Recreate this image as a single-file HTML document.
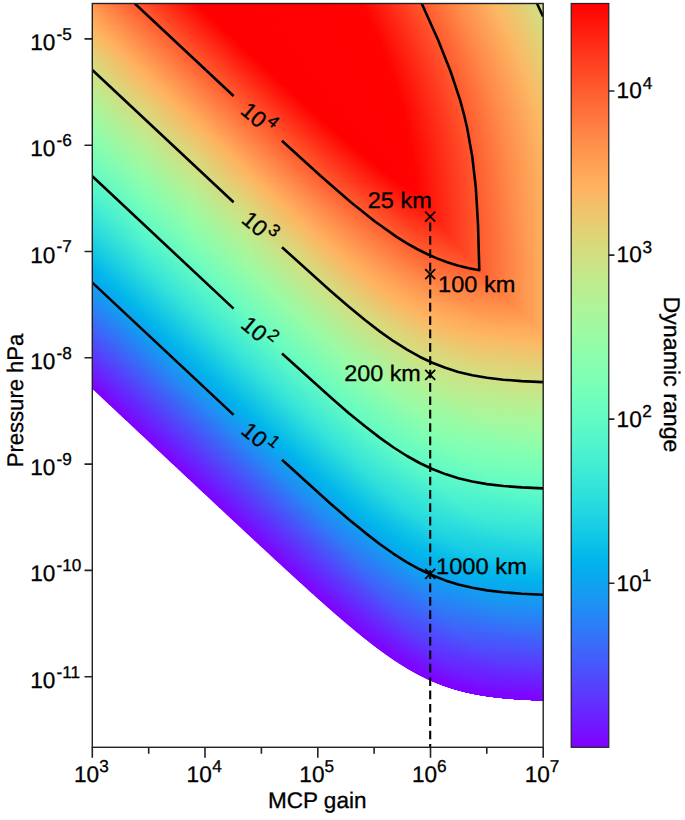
<!DOCTYPE html>
<html><head><meta charset="utf-8"><style>
html,body{margin:0;padding:0;background:#fff;width:685px;height:820px;overflow:hidden}
#hm{position:absolute;left:92px;top:0;width:452px;height:820px}
#hm div{position:absolute;left:0;width:100%;height:1px}
svg{position:absolute;left:0;top:0}
text{font-family:"Liberation Sans",sans-serif;fill:#000;stroke:#000;stroke-width:0.3px;text-rendering:geometricPrecision}
</style></head><body>
<div id="hm"><div style="top:3px;background:linear-gradient(90deg,#ff964f 0.5px,#ff2010 82.5px,#ff0000 104.5px,#ff0201 269.5px,#ff8a48 363.5px,#fcb763 401.5px,#cce385 451.5px)"></div><div style="top:4px;background:linear-gradient(90deg,#ff9750 0.5px,#ff2211 82.5px,#ff0000 106.5px,#ff0301 270.5px,#ff8b48 364.5px,#fcb864 402.5px,#cce385 451.5px)"></div><div style="top:5px;background:linear-gradient(90deg,#ff9850 0.5px,#ff2513 81.5px,#ff0000 107.5px,#ff0201 270.5px,#ff8a48 364.5px,#fcb763 402.5px,#cde385 451.5px)"></div><div style="top:6px;background:linear-gradient(90deg,#ff9a51 0.5px,#ff2814 80.5px,#ff0000 108.5px,#ff0301 271.5px,#ff8b48 365.5px,#fcb864 403.5px,#cde285 451.5px)"></div><div style="top:7px;background:linear-gradient(90deg,#ff9b52 0.5px,#ff2b16 79.5px,#ff0000 109.5px,#ff0201 271.5px,#ff8a48 365.5px,#fcb764 403.5px,#cde284 451.5px)"></div><div style="top:8px;background:linear-gradient(90deg,#ff9c53 0.5px,#ff2f17 78.5px,#ff0000 110.5px,#ff0301 272.5px,#ff8b48 366.5px,#fcb864 404.5px,#cee284 451.5px)"></div><div style="top:9px;background:linear-gradient(90deg,#ff9e53 0.5px,#ff3219 77.5px,#ff0000 111.5px,#ff0201 272.5px,#ff8a48 366.5px,#fcb764 404.5px,#cee184 451.5px)"></div><div style="top:10px;background:linear-gradient(90deg,#ff9f54 0.5px,#ff331a 77.5px,#ff0000 112.5px,#ff0301 273.5px,#ff8a48 366.5px,#fcb864 405.5px,#cfe183 451.5px)"></div><div style="top:11px;background:linear-gradient(90deg,#ffa055 0.5px,#ff371b 76.5px,#ff0000 113.5px,#ff0201 273.5px,#ff8a48 367.5px,#fcb764 405.5px,#cfe183 451.5px)"></div><div style="top:12px;background:linear-gradient(90deg,#ffa256 0.5px,#ff3a1d 75.5px,#ff0000 114.5px,#ff0201 273.5px,#ff8a48 367.5px,#fcb864 406.5px,#d0e083 451.5px)"></div><div style="top:13px;background:linear-gradient(90deg,#ffa357 0.5px,#ff3b1e 75.5px,#ff0000 115.5px,#ff0201 274.5px,#ff8b48 368.5px,#fcb764 406.5px,#d0e082 451.5px)"></div><div style="top:14px;background:linear-gradient(90deg,#ffa457 0.5px,#ff3e1f 74.5px,#ff0000 116.5px,#ff0201 274.5px,#ff8a48 368.5px,#fdb763 406.5px,#d1e082 451.5px)"></div><div style="top:15px;background:linear-gradient(90deg,#ffa558 0.5px,#ff4221 73.5px,#ff0000 117.5px,#ff0301 275.5px,#ff8b48 369.5px,#fcb864 407.5px,#d1df82 451.5px)"></div><div style="top:16px;background:linear-gradient(90deg,#ffa759 0.5px,#ff4322 73.5px,#ff0000 118.5px,#ff0201 275.5px,#ff8a48 369.5px,#fcb763 407.5px,#d2df82 451.5px)"></div><div style="top:17px;background:linear-gradient(90deg,#ffa85a 0.5px,#ff4623 72.5px,#ff0000 119.5px,#ff0301 276.5px,#ff8b48 370.5px,#fcb864 408.5px,#d2df81 451.5px)"></div><div style="top:18px;background:linear-gradient(90deg,#ffa95a 0.5px,#ff4824 72.5px,#ff0000 120.5px,#ff0201 276.5px,#ff8a48 370.5px,#fcb763 408.5px,#d2de81 451.5px)"></div><div style="top:19px;background:linear-gradient(90deg,#ffaa5b 0.5px,#ff4b26 71.5px,#ff0000 121.5px,#ff0301 277.5px,#ff8b48 371.5px,#fcb864 409.5px,#d3de81 451.5px)"></div><div style="top:20px;background:linear-gradient(90deg,#ffac5c 0.5px,#ff4d27 71.5px,#ff0000 123.5px,#ff0201 277.5px,#ff8a48 371.5px,#fcb764 409.5px,#d3de80 451.5px)"></div><div style="top:21px;background:linear-gradient(90deg,#ffad5d 0.5px,#ff5028 70.5px,#ff0000 124.5px,#ff0301 278.5px,#ff8a48 371.5px,#fcb864 410.5px,#d4dd80 451.5px)"></div><div style="top:22px;background:linear-gradient(90deg,#ffae5e 0.5px,#ff5129 70.5px,#ff0000 125.5px,#ff0201 278.5px,#ff8a48 372.5px,#fcb764 410.5px,#d4dd80 451.5px)"></div><div style="top:23px;background:linear-gradient(90deg,#ffaf5e 0.5px,#ff542b 69.5px,#ff0000 126.5px,#ff0201 278.5px,#ff8a48 372.5px,#fcb864 411.5px,#d5dd7f 451.5px)"></div><div style="top:24px;background:linear-gradient(90deg,#ffb15f 0.5px,#ff562c 69.5px,#ff0000 127.5px,#ff0201 279.5px,#ff8b48 373.5px,#fcb764 411.5px,#d5dc7f 451.5px)"></div><div style="top:25px;background:linear-gradient(90deg,#ffb260 0.5px,#ff592d 68.5px,#ff0000 128.5px,#ff0201 279.5px,#ff8a48 373.5px,#fdb763 411.5px,#d6dc7f 451.5px)"></div><div style="top:26px;background:linear-gradient(90deg,#ffb361 0.5px,#ff5a2e 68.5px,#ff0000 129.5px,#ff0301 280.5px,#ff8b48 374.5px,#fcb864 412.5px,#d6dc7f 451.5px)"></div><div style="top:27px;background:linear-gradient(90deg,#ffb461 0.5px,#ff5c2f 68.5px,#ff0000 130.5px,#ff0201 280.5px,#ff8a48 374.5px,#fcb763 412.5px,#d6db7e 451.5px)"></div><div style="top:28px;background:linear-gradient(90deg,#feb562 0.5px,#ff5f30 67.5px,#ff0000 131.5px,#ff0301 281.5px,#ff8b48 375.5px,#fcb864 413.5px,#d7db7e 451.5px)"></div><div style="top:29px;background:linear-gradient(90deg,#fdb663 0.5px,#ff6031 67.5px,#ff0000 132.5px,#ff0201 281.5px,#ff8a48 375.5px,#fcb764 413.5px,#d7db7e 451.5px)"></div><div style="top:30px;background:linear-gradient(90deg,#fcb864 0.5px,#ff6333 66.5px,#ff0000 133.5px,#ff0301 282.5px,#ff8b49 376.5px,#fcb864 414.5px,#d8da7d 451.5px)"></div><div style="top:31px;background:linear-gradient(90deg,#fbb964 0.5px,#ffa759 16.5px,#ff4322 89.5px,#ff0000 134.5px,#ff0201 282.5px,#ff8a48 376.5px,#fcb764 414.5px,#d8da7d 451.5px)"></div><div style="top:32px;background:linear-gradient(90deg,#faba65 0.5px,#ffad5d 12.5px,#ff4f28 82.5px,#ff0000 135.5px,#ff0201 282.5px,#ff8a48 376.5px,#fcb864 415.5px,#d9da7d 451.5px)"></div><div style="top:33px;background:linear-gradient(90deg,#f9bb66 0.5px,#ffae5d 12.5px,#ff5129 82.5px,#ff0000 136.5px,#ff0201 283.5px,#ff8b48 377.5px,#fcb864 415.5px,#d9d97c 451.5px)"></div><div style="top:34px;background:linear-gradient(90deg,#f8bc67 0.5px,#ffaf5e 12.5px,#ff522a 82.5px,#ff0000 138.5px,#ff0201 283.5px,#ff8a48 377.5px,#fdb763 415.5px,#d9d97c 451.5px)"></div><div style="top:35px;background:linear-gradient(90deg,#f7bd68 0.5px,#ffaf5e 13.5px,#ff542b 82.5px,#ff0000 139.5px,#ff0301 284.5px,#ff8b48 378.5px,#fcb864 416.5px,#dad97c 451.5px)"></div><div style="top:36px;background:linear-gradient(90deg,#f6be68 0.5px,#ffaf5e 14.5px,#ff542b 83.5px,#ff0000 140.5px,#ff0201 284.5px,#ff8a48 378.5px,#fcb763 416.5px,#dad87c 451.5px)"></div><div style="top:37px;background:linear-gradient(90deg,#f5bf69 0.5px,#ffb05f 14.5px,#ff562b 83.5px,#ff0000 141.5px,#ff0301 285.5px,#ff8b48 379.5px,#fcb864 417.5px,#dbd87b 451.5px)"></div><div style="top:38px;background:linear-gradient(90deg,#f4c16a 0.5px,#ffb05f 15.5px,#ff562b 84.5px,#ff0000 142.5px,#ff0201 285.5px,#ff8a48 379.5px,#fcb764 417.5px,#dbd87b 451.5px)"></div><div style="top:39px;background:linear-gradient(90deg,#f3c26b 0.5px,#ffb15f 16.5px,#ff562c 85.5px,#ff0000 143.5px,#ff0201 285.5px,#ff8a48 379.5px,#fcb864 418.5px,#dbd77b 451.5px)"></div><div style="top:40px;background:linear-gradient(90deg,#f1c36b 0.5px,#ffb15f 17.5px,#ff562c 86.5px,#ff0000 144.5px,#ff0201 286.5px,#ff8b48 380.5px,#fcb864 418.5px,#dcd77a 451.5px)"></div><div style="top:41px;background:linear-gradient(90deg,#f0c46c 0.5px,#ffb15f 18.5px,#ff562c 87.5px,#ff0000 145.5px,#ff0201 286.5px,#ff8a48 380.5px,#fdb763 418.5px,#dcd67a 451.5px)"></div><div style="top:42px;background:linear-gradient(90deg,#efc56d 0.5px,#ffb15f 19.5px,#ff562c 88.5px,#ff0000 146.5px,#ff0301 287.5px,#ff8b48 381.5px,#fcb864 419.5px,#ddd67a 451.5px)"></div><div style="top:43px;background:linear-gradient(90deg,#eec66e 0.5px,#ffb15f 20.5px,#ff562c 89.5px,#ff0000 147.5px,#ff0201 287.5px,#ff8a48 381.5px,#fcb763 419.5px,#ddd67a 451.5px)"></div><div style="top:44px;background:linear-gradient(90deg,#edc76e 0.5px,#ffb15f 21.5px,#ff562c 90.5px,#ff0000 148.5px,#ff0301 288.5px,#ff8b49 382.5px,#fcb864 420.5px,#ded579 451.5px)"></div><div style="top:45px;background:linear-gradient(90deg,#ecc86f 0.5px,#ffb15f 22.5px,#ff562c 91.5px,#ff0000 149.5px,#ff0201 288.5px,#ff8b48 382.5px,#fcb764 420.5px,#ded579 451.5px)"></div><div style="top:46px;background:linear-gradient(90deg,#ebc970 0.5px,#ffb15f 23.5px,#ff562c 92.5px,#ff0000 150.5px,#ff0201 288.5px,#ff8a48 382.5px,#fdb763 420.5px,#ded579 451.5px)"></div><div style="top:47px;background:linear-gradient(90deg,#eaca71 0.5px,#ffb160 24.5px,#ff572c 93.5px,#ff0000 151.5px,#ff0301 289.5px,#ff8b48 383.5px,#fcb864 421.5px,#dfd478 451.5px)"></div><div style="top:48px;background:linear-gradient(90deg,#e9cb71 0.5px,#ffb160 25.5px,#ff572c 94.5px,#ff0000 153.5px,#ff0201 289.5px,#ff8a48 383.5px,#fcb763 421.5px,#dfd478 451.5px)"></div><div style="top:49px;background:linear-gradient(90deg,#e8cc72 0.5px,#ffb160 26.5px,#ff572c 95.5px,#ff0000 154.5px,#ff0301 290.5px,#ff8b48 384.5px,#fcb864 422.5px,#e0d478 451.5px)"></div><div style="top:50px;background:linear-gradient(90deg,#e7cd73 0.5px,#ffb160 27.5px,#ff572c 96.5px,#ff0000 155.5px,#ff0201 290.5px,#ff8a48 384.5px,#fcb764 422.5px,#e0d378 451.5px)"></div><div style="top:51px;background:linear-gradient(90deg,#e6ce74 0.5px,#ffb160 28.5px,#ff572c 97.5px,#ff0000 156.5px,#ff0201 290.5px,#ff8a48 384.5px,#fcb864 423.5px,#e0d377 451.5px)"></div><div style="top:52px;background:linear-gradient(90deg,#e5cf74 0.5px,#ffb160 29.5px,#ff572c 98.5px,#ff0000 157.5px,#ff0201 291.5px,#ff8b48 385.5px,#fcb864 423.5px,#e1d377 451.5px)"></div><div style="top:53px;background:linear-gradient(90deg,#e4d075 0.5px,#ffb05f 31.5px,#ff562c 100.5px,#ff0000 158.5px,#ff0201 291.5px,#ff8a48 385.5px,#fcb763 423.5px,#e1d277 451.5px)"></div><div style="top:54px;background:linear-gradient(90deg,#e3d176 0.5px,#ffb15f 32.5px,#ff562c 101.5px,#ff0000 159.5px,#ff0301 292.5px,#ff8b48 386.5px,#fcb864 424.5px,#e2d277 451.5px)"></div><div style="top:55px;background:linear-gradient(90deg,#e2d277 0.5px,#ffb15f 33.5px,#ff562c 102.5px,#ff0000 160.5px,#ff0201 292.5px,#ff8a48 386.5px,#fcb764 424.5px,#e2d276 451.5px)"></div><div style="top:56px;background:linear-gradient(90deg,#e1d377 0.5px,#ffb15f 34.5px,#ff562c 103.5px,#ff0000 161.5px,#ff0201 292.5px,#ff8a48 386.5px,#fcb864 425.5px,#e2d176 451.5px)"></div><div style="top:57px;background:linear-gradient(90deg,#dfd478 0.5px,#ffb15f 35.5px,#ff562c 104.5px,#ff0000 162.5px,#ff0201 293.5px,#ff8b48 387.5px,#fcb864 425.5px,#e3d176 451.5px)"></div><div style="top:58px;background:linear-gradient(90deg,#ded579 0.5px,#ffb15f 36.5px,#ff562c 105.5px,#ff0000 163.5px,#ff0201 293.5px,#ff8a48 387.5px,#fcb763 425.5px,#e3d175 451.5px)"></div><div style="top:59px;background:linear-gradient(90deg,#ddd679 0.5px,#ffb15f 37.5px,#ff562c 106.5px,#ff0000 164.5px,#ff0301 294.5px,#ff8b48 388.5px,#fcb864 426.5px,#e3d075 451.5px)"></div><div style="top:60px;background:linear-gradient(90deg,#dcd67a 0.5px,#ffb15f 38.5px,#ff562c 107.5px,#ff0000 165.5px,#ff0201 294.5px,#ff8a48 388.5px,#fcb764 426.5px,#e4d075 451.5px)"></div><div style="top:61px;background:linear-gradient(90deg,#dbd77b 0.5px,#ffb15f 39.5px,#ff572c 108.5px,#ff0000 167.5px,#ff0201 294.5px,#ff8a48 388.5px,#fdb763 426.5px,#e4cf75 451.5px)"></div><div style="top:62px;background:linear-gradient(90deg,#dad87c 0.5px,#ffb160 40.5px,#ff572c 109.5px,#ff0000 168.5px,#ff0301 295.5px,#ff8b48 389.5px,#fcb864 427.5px,#e5cf74 451.5px)"></div><div style="top:63px;background:linear-gradient(90deg,#d9d97c 0.5px,#ffb160 41.5px,#ff572c 110.5px,#ff0000 169.5px,#ff0201 295.5px,#ff8a48 389.5px,#fcb763 427.5px,#e5cf74 451.5px)"></div><div style="top:64px;background:linear-gradient(90deg,#d8da7d 0.5px,#ffb160 42.5px,#ff572c 111.5px,#ff0000 170.5px,#ff0301 296.5px,#ff8b49 390.5px,#fcb864 428.5px,#e5ce74 451.5px)"></div><div style="top:65px;background:linear-gradient(90deg,#d7db7e 0.5px,#ffb160 43.5px,#ff572c 112.5px,#ff0000 171.5px,#ff0201 296.5px,#ff8b48 390.5px,#fcb764 428.5px,#e6ce74 451.5px)"></div><div style="top:66px;background:linear-gradient(90deg,#d6dc7f 0.5px,#ffb160 44.5px,#ff572c 113.5px,#ff0000 172.5px,#ff0201 296.5px,#ff8a48 390.5px,#fdb763 428.5px,#e6ce73 451.5px)"></div><div style="top:67px;background:linear-gradient(90deg,#d5dd7f 0.5px,#ffb260 45.5px,#ff572c 114.5px,#ff0000 173.5px,#ff0301 297.5px,#ff8b48 391.5px,#fcb864 429.5px,#e6cd73 451.5px)"></div><div style="top:68px;background:linear-gradient(90deg,#d4dd80 0.5px,#ffb260 46.5px,#ff572c 115.5px,#ff0000 174.5px,#ff0201 297.5px,#ff8a48 391.5px,#fcb764 429.5px,#e7cd73 451.5px)"></div><div style="top:69px;background:linear-gradient(90deg,#d3de81 0.5px,#ffb260 47.5px,#ff572c 116.5px,#ff0000 175.5px,#ff0201 297.5px,#ff8a48 391.5px,#fcb864 430.5px,#e7cd73 451.5px)"></div><div style="top:70px;background:linear-gradient(90deg,#d2df81 0.5px,#ffb260 48.5px,#ff572c 117.5px,#ff0000 176.5px,#ff0301 298.5px,#ff8b48 392.5px,#fcb864 430.5px,#e8cc72 451.5px)"></div><div style="top:71px;background:linear-gradient(90deg,#d1e082 0.5px,#ffb15f 50.5px,#ff562c 119.5px,#ff0000 177.5px,#ff0201 298.5px,#ff8a48 392.5px,#fcb763 430.5px,#e8cc72 451.5px)"></div><div style="top:72px;background:linear-gradient(90deg,#d0e183 0.5px,#ffb15f 51.5px,#ff562c 120.5px,#ff0000 178.5px,#ff0301 299.5px,#ff8a48 392.5px,#fcb864 431.5px,#e8cc72 451.5px)"></div><div style="top:73px;background:linear-gradient(90deg,#cfe184 0.5px,#ffb15f 52.5px,#ff562c 121.5px,#ff0000 179.5px,#ff0201 299.5px,#ff8b48 393.5px,#fcb764 431.5px,#e9cb72 451.5px)"></div><div style="top:74px;background:linear-gradient(90deg,#cde284 0.5px,#ffb15f 53.5px,#ff562c 122.5px,#ff0000 181.5px,#ff0201 299.5px,#ff8a48 393.5px,#fcb763 431.5px,#e9cb71 451.5px)"></div><div style="top:75px;background:linear-gradient(90deg,#cce385 0.5px,#ffb15f 54.5px,#ff562c 123.5px,#ff0000 182.5px,#ff0301 300.5px,#ff8b48 394.5px,#fcb864 432.5px,#e9cb71 451.5px)"></div><div style="top:76px;background:linear-gradient(90deg,#cbe486 0.5px,#ffb15f 55.5px,#ff572c 124.5px,#ff0000 183.5px,#ff0201 300.5px,#ff8b48 394.5px,#fcb764 432.5px,#eaca71 451.5px)"></div><div style="top:77px;background:linear-gradient(90deg,#cae486 0.5px,#ffb260 55.5px,#ff582d 124.5px,#ff0000 184.5px,#ff0201 300.5px,#ff8a48 394.5px,#fdb763 432.5px,#eaca71 451.5px)"></div><div style="top:78px;background:linear-gradient(90deg,#c9e587 0.5px,#ffb361 55.5px,#ff5b2e 123.5px,#ff0000 185.5px,#ff0301 301.5px,#ff8b48 395.5px,#fcb864 433.5px,#eaca70 451.5px)"></div><div style="top:79px;background:linear-gradient(90deg,#c8e688 0.5px,#ffb562 55.5px,#ff5d2f 123.5px,#ff0000 186.5px,#ff0201 301.5px,#ff8a48 395.5px,#fcb764 433.5px,#ebc970 451.5px)"></div><div style="top:80px;background:linear-gradient(90deg,#c7e788 0.5px,#feb663 55.5px,#ff6031 122.5px,#ff0000 187.5px,#ff0201 301.5px,#ff8a48 395.5px,#fdb763 433.5px,#ebc970 451.5px)"></div><div style="top:81px;background:linear-gradient(90deg,#c6e789 0.5px,#fdb763 55.5px,#ff6132 122.5px,#ff0000 188.5px,#ff0301 302.5px,#ff8b48 396.5px,#fcb864 434.5px,#ebc970 451.5px)"></div><div style="top:82px;background:linear-gradient(90deg,#c5e88a 0.5px,#fcb864 55.5px,#ff954e 85.5px,#ff190d 171.5px,#ff0000 189.5px,#ff0201 302.5px,#ff8a48 396.5px,#fcb764 434.5px,#ecc86f 451.5px)"></div><div style="top:83px;background:linear-gradient(90deg,#c4e98b 0.5px,#fab965 55.5px,#ffaa5b 69.5px,#ff4925 141.5px,#ff0000 190.5px,#ff0201 302.5px,#ff8a48 396.5px,#fdb763 434.5px,#ecc86f 451.5px)"></div><div style="top:84px;background:linear-gradient(90deg,#c3e98b 0.5px,#f9ba66 55.5px,#ffac5c 68.5px,#ff4d27 139.5px,#ff0000 191.5px,#ff0301 303.5px,#ff8b48 397.5px,#fcb864 435.5px,#ecc86f 451.5px)"></div><div style="top:85px;background:linear-gradient(90deg,#c2ea8c 0.5px,#f7bd67 54.5px,#ffae5e 67.5px,#ff5229 137.5px,#ff0000 192.5px,#ff0201 303.5px,#ff8a48 397.5px,#fcb764 435.5px,#edc86f 451.5px)"></div><div style="top:86px;background:linear-gradient(90deg,#c1eb8d 0.5px,#f6be68 54.5px,#ffb05f 67.5px,#ff532a 137.5px,#ff0000 194.5px,#ff0201 303.5px,#ff8a48 397.5px,#fdb763 435.5px,#edc76f 451.5px)"></div><div style="top:87px;background:linear-gradient(90deg,#c0eb8d 0.5px,#f5bf69 54.5px,#ffb05f 68.5px,#ff532a 138.5px,#ff0000 195.5px,#ff0301 304.5px,#ff8b48 398.5px,#fcb864 436.5px,#edc76e 451.5px)"></div><div style="top:88px;background:linear-gradient(90deg,#bfec8e 0.5px,#f4c069 54.5px,#ffb05f 69.5px,#ff532a 139.5px,#ff0000 196.5px,#ff0201 304.5px,#ff8a48 398.5px,#fcb764 436.5px,#eec76e 451.5px)"></div><div style="top:89px;background:linear-gradient(90deg,#beed8f 0.5px,#f3c16a 54.5px,#ffb05f 70.5px,#ff542a 140.5px,#ff0000 197.5px,#ff0201 304.5px,#ff8a48 398.5px,#fdb763 436.5px,#eec66e 451.5px)"></div><div style="top:90px;background:linear-gradient(90deg,#bded8f 0.5px,#f2c26b 54.5px,#ffb15f 70.5px,#ff572c 139.5px,#ff0000 198.5px,#ff0301 305.5px,#ff8b48 399.5px,#fcb864 437.5px,#eec66e 451.5px)"></div><div style="top:91px;background:linear-gradient(90deg,#bbee90 0.5px,#f1c36c 54.5px,#ffb15f 71.5px,#ff572c 140.5px,#ff0000 199.5px,#ff0201 305.5px,#ff8a48 399.5px,#fcb764 437.5px,#efc66d 451.5px)"></div><div style="top:92px;background:linear-gradient(90deg,#baee91 0.5px,#f0c46c 54.5px,#ffb160 72.5px,#ff572c 141.5px,#ff0000 200.5px,#ff0201 305.5px,#ff8a48 399.5px,#fdb763 437.5px,#efc56d 451.5px)"></div><div style="top:93px;background:linear-gradient(90deg,#b9ef91 0.5px,#efc56d 54.5px,#ffb05f 74.5px,#ff542b 144.5px,#ff0000 201.5px,#ff0301 306.5px,#ff8b48 400.5px,#fcb864 438.5px,#efc56d 451.5px)"></div><div style="top:94px;background:linear-gradient(90deg,#b8f092 0.5px,#edc76f 53.5px,#ffb160 74.5px,#ff572c 143.5px,#ff0000 202.5px,#ff0201 306.5px,#ff8b48 400.5px,#fcb764 438.5px,#efc56d 451.5px)"></div><div style="top:95px;background:linear-gradient(90deg,#b7f093 0.5px,#ecc86f 53.5px,#ffb05f 76.5px,#ff542b 146.5px,#ff0000 203.5px,#ff0201 306.5px,#ff8a48 400.5px,#fcb763 438.5px,#f0c46d 451.5px)"></div><div style="top:96px;background:linear-gradient(90deg,#b6f194 0.5px,#ebc970 53.5px,#ffb05f 77.5px,#ff542b 147.5px,#ff0000 204.5px,#ff0301 307.5px,#ff8a48 400.5px,#fcb864 439.5px,#f0c46c 451.5px)"></div><div style="top:97px;background:linear-gradient(90deg,#b5f194 0.5px,#eaca71 53.5px,#ffb05f 78.5px,#ff542b 148.5px,#ff0000 206.5px,#ff0301 307.5px,#ff8b48 401.5px,#fcb864 439.5px,#f0c46c 451.5px)"></div><div style="top:98px;background:linear-gradient(90deg,#b4f295 0.5px,#e9cb72 53.5px,#ffb05f 79.5px,#ff552b 149.5px,#ff0000 207.5px,#ff0201 307.5px,#ff8a48 401.5px,#fcb764 439.5px,#f1c46c 451.5px)"></div><div style="top:99px;background:linear-gradient(90deg,#b3f296 0.5px,#e8cc72 53.5px,#ffb15f 80.5px,#ff552b 150.5px,#ff0000 208.5px,#ff0201 307.5px,#ff8a48 401.5px,#fdb763 439.5px,#f1c36c 451.5px)"></div><div style="top:100px;background:linear-gradient(90deg,#b2f396 0.5px,#e7cd73 53.5px,#ffb15f 81.5px,#ff552b 151.5px,#ff0000 209.5px,#ff0301 308.5px,#ff8b48 402.5px,#fcb864 440.5px,#f1c36c 451.5px)"></div><div style="top:101px;background:linear-gradient(90deg,#b1f397 0.5px,#e5ce74 53.5px,#ffb15f 82.5px,#ff552b 152.5px,#ff0000 210.5px,#ff0201 308.5px,#ff8a48 402.5px,#fcb764 440.5px,#f1c36b 451.5px)"></div><div style="top:102px;background:linear-gradient(90deg,#b0f498 0.5px,#e4cf75 53.5px,#ffb15f 83.5px,#ff552b 153.5px,#ff0000 211.5px,#ff0201 308.5px,#ff8a48 402.5px,#fdb763 440.5px,#f2c26b 451.5px)"></div><div style="top:103px;background:linear-gradient(90deg,#aff498 0.5px,#e3d075 53.5px,#ffb15f 84.5px,#ff552b 154.5px,#ff0000 212.5px,#ff0301 309.5px,#ff8b49 403.5px,#fcb864 441.5px,#f2c26b 451.5px)"></div><div style="top:104px;background:linear-gradient(90deg,#aef599 0.5px,#e1d277 52.5px,#ffb15f 85.5px,#ff552b 155.5px,#ff0000 213.5px,#ff0201 309.5px,#ff8b48 403.5px,#fcb864 441.5px,#f2c26b 451.5px)"></div><div style="top:105px;background:linear-gradient(90deg,#adf59a 0.5px,#e0d377 52.5px,#ffb15f 86.5px,#ff552b 156.5px,#ff0000 214.5px,#ff0201 309.5px,#ff8a48 403.5px,#fcb764 441.5px,#f3c26b 451.5px)"></div><div style="top:106px;background:linear-gradient(90deg,#acf69a 0.5px,#dfd478 52.5px,#ffb160 87.5px,#ff552b 157.5px,#ff0000 215.5px,#ff0201 309.5px,#ff8a48 403.5px,#fdb763 441.5px,#f3c16a 451.5px)"></div><div style="top:107px;background:linear-gradient(90deg,#abf69b 0.5px,#ded579 52.5px,#ffb160 88.5px,#ff552b 158.5px,#ff0000 217.5px,#ff0301 310.5px,#ff8b48 404.5px,#fcb864 442.5px,#f3c16a 451.5px)"></div><div style="top:108px;background:linear-gradient(90deg,#a9f79c 0.5px,#ddd67a 52.5px,#ffb160 89.5px,#ff562b 159.5px,#ff0000 218.5px,#ff0201 310.5px,#ff8b48 404.5px,#fcb764 442.5px,#f3c16a 451.5px)"></div><div style="top:109px;background:linear-gradient(90deg,#a8f79c 0.5px,#dcd77a 52.5px,#ffb160 90.5px,#ff562b 160.5px,#ff0000 219.5px,#ff0201 310.5px,#ff8a48 404.5px,#fcb763 442.5px,#f4c06a 451.5px)"></div><div style="top:110px;background:linear-gradient(90deg,#a7f79d 0.5px,#dbd87b 52.5px,#ffb160 91.5px,#ff562c 161.5px,#ff0000 220.5px,#ff0302 311.5px,#ff8a48 404.5px,#fcb864 443.5px,#f4c06a 451.5px)"></div><div style="top:111px;background:linear-gradient(90deg,#a6f89e 0.5px,#dad87c 52.5px,#ffb160 92.5px,#ff562c 162.5px,#ff0000 221.5px,#ff0301 311.5px,#ff8b48 405.5px,#fcb864 443.5px,#f4c069 451.5px)"></div><div style="top:112px;background:linear-gradient(90deg,#a5f89e 0.5px,#d9d97d 52.5px,#ffb260 93.5px,#ff562c 163.5px,#ff0000 222.5px,#ff0201 311.5px,#ff8a48 405.5px,#fcb764 443.5px,#f4c069 451.5px)"></div><div style="top:113px;background:linear-gradient(90deg,#a4f99f 0.5px,#d8da7d 52.5px,#ffb260 94.5px,#ff562c 164.5px,#ff0000 223.5px,#ff0201 311.5px,#ff8a48 405.5px,#fcb763 443.5px,#f5bf69 451.5px)"></div><div style="top:114px;background:linear-gradient(90deg,#a3f99f 0.5px,#d7db7e 52.5px,#ffb260 95.5px,#ff562c 165.5px,#ff0000 224.5px,#ff0301 312.5px,#ff8a48 405.5px,#fcb864 444.5px,#f5bf69 451.5px)"></div><div style="top:115px;background:linear-gradient(90deg,#a2f9a0 0.5px,#d6dc7f 52.5px,#ffb15f 97.5px,#ff552b 167.5px,#ff0000 225.5px,#ff0301 312.5px,#ff8b48 406.5px,#fcb864 444.5px,#f5bf69 451.5px)"></div><div style="top:116px;background:linear-gradient(90deg,#a1faa1 0.5px,#d5dd7f 52.5px,#ffb15f 98.5px,#ff552b 168.5px,#ff0000 227.5px,#ff0201 312.5px,#ff8a48 406.5px,#fcb764 444.5px,#f5bf69 451.5px)"></div><div style="top:117px;background:linear-gradient(90deg,#a0faa1 0.5px,#d3de81 51.5px,#ffb15f 99.5px,#ff552b 169.5px,#ff0000 228.5px,#ff0201 312.5px,#ff8a48 406.5px,#fcb763 444.5px,#f6be68 451.5px)"></div><div style="top:118px;background:linear-gradient(90deg,#9ffaa2 0.5px,#d1df82 51.5px,#ffb15f 100.5px,#ff552b 170.5px,#ff0000 229.5px,#ff0302 313.5px,#ff8a48 406.5px,#fcb864 445.5px,#f6be68 451.5px)"></div><div style="top:119px;background:linear-gradient(90deg,#9efba3 0.5px,#d0e082 51.5px,#ffb15f 101.5px,#ff552b 171.5px,#ff0000 230.5px,#ff0301 313.5px,#ff8b48 407.5px,#fcb864 445.5px,#f6be68 451.5px)"></div><div style="top:120px;background:linear-gradient(90deg,#9dfba3 0.5px,#cfe183 51.5px,#ffb15f 102.5px,#ff552b 172.5px,#ff0000 231.5px,#ff0201 313.5px,#ff8a48 407.5px,#fcb764 445.5px,#f6be68 451.5px)"></div><div style="top:121px;background:linear-gradient(90deg,#9cfba4 0.5px,#cee284 51.5px,#ffb160 103.5px,#ff562b 173.5px,#ff0000 232.5px,#ff0201 313.5px,#ff8a48 407.5px,#fcb763 445.5px,#f7bd68 451.5px)"></div><div style="top:122px;background:linear-gradient(90deg,#9bfba5 0.5px,#cde284 51.5px,#ffb160 104.5px,#ff562b 174.5px,#ff0000 233.5px,#ff0302 314.5px,#ff8a48 407.5px,#fcb864 446.5px,#f7bd67 451.5px)"></div><div style="top:123px;background:linear-gradient(90deg,#9afca5 0.5px,#cce385 51.5px,#ffb160 105.5px,#ff562c 175.5px,#ff0000 234.5px,#ff0301 314.5px,#ff8b48 408.5px,#fcb864 446.5px,#f7bd67 451.5px)"></div><div style="top:124px;background:linear-gradient(90deg,#99fca6 0.5px,#cbe486 51.5px,#ffb160 106.5px,#ff562c 176.5px,#ff0000 236.5px,#ff0201 314.5px,#ff8b48 408.5px,#fcb764 446.5px,#f7bd67 451.5px)"></div><div style="top:125px;background:linear-gradient(90deg,#97fca7 0.5px,#cae587 51.5px,#ffb160 107.5px,#ff562c 177.5px,#ff0000 237.5px,#ff0201 314.5px,#ff8a48 408.5px,#fcb764 446.5px,#f7bc67 451.5px)"></div><div style="top:126px;background:linear-gradient(90deg,#96fca7 0.5px,#c9e587 51.5px,#ffb461 106.5px,#ff5b2e 175.5px,#ff0000 238.5px,#ff0201 314.5px,#ff8a48 408.5px,#fdb763 446.5px,#f8bc67 451.5px)"></div><div style="top:127px;background:linear-gradient(90deg,#95fda8 0.5px,#c8e688 51.5px,#feb562 106.5px,#ff5c2f 175.5px,#ff0000 239.5px,#ff0301 315.5px,#ff8b49 409.5px,#fcb864 447.5px,#f8bc67 451.5px)"></div><div style="top:128px;background:linear-gradient(90deg,#94fda8 0.5px,#c7e789 51.5px,#fdb663 106.5px,#ff5e30 175.5px,#ff0000 240.5px,#ff0301 315.5px,#ff8b48 409.5px,#fcb864 447.5px,#f8bc67 451.5px)"></div><div style="top:129px;background:linear-gradient(90deg,#93fda9 0.5px,#c6e789 51.5px,#fcb764 106.5px,#ff6131 174.5px,#ff0000 241.5px,#ff0201 315.5px,#ff8a48 409.5px,#fcb764 447.5px,#f8bc66 451.5px)"></div><div style="top:130px;background:linear-gradient(90deg,#92fdaa 0.5px,#c5e88a 51.5px,#fbb864 106.5px,#ffa256 126.5px,#ff3219 207.5px,#ff0000 242.5px,#ff0201 315.5px,#ff8a48 409.5px,#fcb763 447.5px,#f9bb66 451.5px)"></div><div style="top:131px;background:linear-gradient(90deg,#91fdaa 0.5px,#c4e98b 51.5px,#faba65 106.5px,#ffab5c 119.5px,#ff4824 193.5px,#ff0000 244.5px,#ff0201 315.5px,#ff8a48 409.5px,#fdb763 447.5px,#f9bb66 451.5px)"></div><div style="top:132px;background:linear-gradient(90deg,#90feab 0.5px,#c3e98b 51.5px,#f9bb66 106.5px,#ffad5d 118.5px,#ff4d27 191.5px,#ff0000 245.5px,#ff0301 316.5px,#ff8b48 410.5px,#fcb864 448.5px,#f9bb66 451.5px)"></div><div style="top:133px;background:linear-gradient(90deg,#8ffeab 0.5px,#c2ea8c 51.5px,#f7bd67 105.5px,#ffb05f 117.5px,#ff5129 189.5px,#ff0000 246.5px,#ff0301 316.5px,#ff8b48 410.5px,#fcb864 448.5px,#f9bb66 451.5px)"></div><div style="top:134px;background:linear-gradient(90deg,#8efeac 0.5px,#c1eb8d 51.5px,#f6be68 105.5px,#ffb05f 118.5px,#ff5129 190.5px,#ff0000 247.5px,#ff0201 316.5px,#ff8a48 410.5px,#fcb764 448.5px,#f9bb66 451.5px)"></div><div style="top:135px;background:linear-gradient(90deg,#8dfead 0.5px,#bfeb8e 51.5px,#f5bf69 105.5px,#ffb05f 119.5px,#ff5129 191.5px,#ff0000 248.5px,#ff0201 316.5px,#ff8a48 410.5px,#fcb763 448.5px,#faba66 451.5px)"></div><div style="top:136px;background:linear-gradient(90deg,#8cfead 0.5px,#bded8f 50.5px,#f3c16a 104.5px,#ffb05f 120.5px,#ff5229 192.5px,#ff0000 249.5px,#ff0201 316.5px,#ff8a48 410.5px,#fdb763 448.5px,#faba65 451.5px)"></div><div style="top:137px;background:linear-gradient(90deg,#8bfeae 0.5px,#bced90 50.5px,#f2c26b 104.5px,#ffb05f 121.5px,#ff5229 193.5px,#ff0000 251.5px,#ff0301 317.5px,#ff8b48 411.5px,#fcb864 449.5px,#faba65 451.5px)"></div><div style="top:138px;background:linear-gradient(90deg,#8afeaf 0.5px,#bbee90 50.5px,#f1c36c 104.5px,#ffb05f 122.5px,#ff5229 194.5px,#ff0000 252.5px,#ff0301 317.5px,#ff8b48 411.5px,#fcb864 449.5px,#faba65 451.5px)"></div><div style="top:139px;background:linear-gradient(90deg,#89ffaf 0.5px,#baee91 50.5px,#f0c46d 104.5px,#ffb05f 123.5px,#ff522a 195.5px,#ff0000 253.5px,#ff0201 317.5px,#ff8a48 411.5px,#fcb764 449.5px,#faba65 451.5px)"></div><div style="top:140px;background:linear-gradient(90deg,#88ffb0 0.5px,#b9ef92 50.5px,#efc56d 104.5px,#ffb05f 124.5px,#ff522a 196.5px,#ff0000 254.5px,#ff0201 317.5px,#ff8a48 411.5px,#fcb763 449.5px,#fab965 451.5px)"></div><div style="top:141px;background:linear-gradient(90deg,#87ffb0 0.5px,#b8f092 50.5px,#edc76f 103.5px,#ffb05f 125.5px,#ff522a 197.5px,#ff0000 255.5px,#ff0201 317.5px,#ff8a48 411.5px,#fdb763 449.5px,#fbb965 451.5px)"></div><div style="top:142px;background:linear-gradient(90deg,#86ffb1 0.5px,#b7f093 50.5px,#ecc96f 103.5px,#ffb15f 126.5px,#ff522a 198.5px,#ff0000 256.5px,#ff0301 318.5px,#ff8a48 411.5px,#fcb864 450.5px,#fbb965 451.5px)"></div><div style="top:143px;background:linear-gradient(90deg,#84ffb2 0.5px,#b6f194 50.5px,#ebca70 103.5px,#ffb15f 127.5px,#ff5129 200.5px,#ff0000 258.5px,#ff0301 318.5px,#ff8b48 412.5px,#fcb864 450.5px,#fbb965 451.5px)"></div><div style="top:144px;background:linear-gradient(90deg,#83ffb2 0.5px,#b5f194 50.5px,#e9cb71 103.5px,#ffb15f 128.5px,#ff5129 201.5px,#ff0000 259.5px,#ff0201 318.5px,#ff8b48 412.5px,#fcb864 450.5px,#fbb964 451.5px)"></div><div style="top:145px;background:linear-gradient(90deg,#82ffb3 0.5px,#b4f295 50.5px,#e8cc72 103.5px,#ffb15f 129.5px,#ff5129 202.5px,#ff0000 260.5px,#ff0201 318.5px,#ff8a48 412.5px,#fcb764 450.5px,#fbb864 451.5px)"></div><div style="top:146px;background:linear-gradient(90deg,#81ffb3 0.5px,#b3f296 50.5px,#e7cd72 103.5px,#ffb15f 130.5px,#ff5129 203.5px,#ff0000 261.5px,#ff0201 318.5px,#ff8a48 412.5px,#fcb763 450.5px,#fbb864 451.5px)"></div><div style="top:147px;background:linear-gradient(90deg,#80ffb4 0.5px,#b2f396 50.5px,#e6ce73 103.5px,#ffb15f 131.5px,#ff5229 204.5px,#ff0000 262.5px,#ff0201 318.5px,#ff8a48 412.5px,#fdb763 450.5px,#fcb864 451.5px)"></div><div style="top:148px;background:linear-gradient(90deg,#7fffb5 0.5px,#b1f397 50.5px,#e5cf74 103.5px,#ffb15f 132.5px,#ff5229 205.5px,#ff0000 264.5px,#ff0301 319.5px,#ff8a48 412.5px,#fcb864 451.5px)"></div><div style="top:149px;background:linear-gradient(90deg,#7effb5 0.5px,#b0f498 50.5px,#e4cf75 103.5px,#ffb15f 133.5px,#ff5229 206.5px,#ff0000 265.5px,#ff0301 319.5px,#ff8b48 413.5px,#fcb864 451.5px)"></div><div style="top:150px;background:linear-gradient(90deg,#7dffb6 0.5px,#aff498 50.5px,#e3d075 103.5px,#ffb160 134.5px,#ff522a 207.5px,#ff0000 266.5px,#ff0201 319.5px,#ff8b48 413.5px,#fcb864 451.5px)"></div><div style="top:151px;background:linear-gradient(90deg,#7cffb6 0.5px,#aef599 50.5px,#e2d176 103.5px,#ffb160 135.5px,#ff522a 208.5px,#ff0000 267.5px,#ff0201 319.5px,#ff8a48 413.5px,#fcb764 451.5px)"></div><div style="top:152px;background:linear-gradient(90deg,#7bffb7 0.5px,#adf59a 50.5px,#e0d378 102.5px,#ffb160 136.5px,#ff522a 209.5px,#ff0000 268.5px,#ff0201 319.5px,#ff8a48 413.5px,#fcb763 451.5px)"></div><div style="top:153px;background:linear-gradient(90deg,#7affb7 0.5px,#abf69a 50.5px,#dfd478 102.5px,#ffb160 137.5px,#ff5129 211.5px,#ff0000 270.5px,#ff0201 319.5px,#ff8a48 413.5px,#fdb763 451.5px)"></div><div style="top:154px;background:linear-gradient(90deg,#79ffb8 0.5px,#aaf69b 50.5px,#ded579 102.5px,#ffb160 138.5px,#ff5129 212.5px,#ff0000 271.5px,#ff0302 320.5px,#ff8a48 413.5px,#fdb763 451.5px)"></div><div style="top:155px;background:linear-gradient(90deg,#78ffb9 0.5px,#a9f79c 50.5px,#ddd67a 102.5px,#ffb260 139.5px,#ff5129 213.5px,#ff0000 272.5px,#ff0301 320.5px,#ff8b48 414.5px,#fdb763 451.5px)"></div><div style="top:156px;background:linear-gradient(90deg,#77ffb9 0.5px,#a8f79c 50.5px,#dcd77b 102.5px,#ffb260 140.5px,#ff5129 214.5px,#ff0000 273.5px,#ff0301 320.5px,#ff8b48 414.5px,#fdb763 451.5px)"></div><div style="top:157px;background:linear-gradient(90deg,#76ffba 0.5px,#a7f79d 50.5px,#dbd87b 102.5px,#ffb15f 142.5px,#ff4f28 217.5px,#ff0000 275.5px,#ff0201 320.5px,#ff8b48 414.5px,#fdb663 451.5px)"></div><div style="top:158px;background:linear-gradient(90deg,#75feba 0.5px,#a6f89e 50.5px,#dad97c 102.5px,#ffb15f 143.5px,#ff4f28 218.5px,#ff0000 276.5px,#ff0201 320.5px,#ff8a48 414.5px,#fdb663 451.5px)"></div><div style="top:159px;background:linear-gradient(90deg,#74febb 0.5px,#a5f89e 50.5px,#d9da7d 102.5px,#ffb15f 144.5px,#ff4f28 219.5px,#ff0000 277.5px,#ff0201 320.5px,#ff8a48 414.5px,#fdb663 451.5px)"></div><div style="top:160px;background:linear-gradient(90deg,#72febb 0.5px,#a4f99f 50.5px,#d8da7d 102.5px,#ffb15f 145.5px,#ff4f28 220.5px,#ff0000 278.5px,#ff0201 320.5px,#ff8a48 414.5px,#feb663 451.5px)"></div><div style="top:161px;background:linear-gradient(90deg,#71febc 0.5px,#a3f9a0 50.5px,#d7db7e 102.5px,#ffb15f 146.5px,#ff4e27 222.5px,#ff0000 280.5px,#ff0302 321.5px,#ff8a48 414.5px,#feb663 451.5px)"></div><div style="top:162px;background:linear-gradient(90deg,#70febd 0.5px,#a2f9a0 50.5px,#d5dc7f 102.5px,#ffb15f 147.5px,#ff4e28 223.5px,#ff0000 281.5px,#ff0301 321.5px,#ff8b48 415.5px,#feb662 451.5px)"></div><div style="top:163px;background:linear-gradient(90deg,#6ffebd 0.5px,#a1faa1 50.5px,#d4dd80 102.5px,#ffb15f 148.5px,#ff4e28 224.5px,#ff0000 282.5px,#ff0301 321.5px,#ff8b48 415.5px,#feb662 451.5px)"></div><div style="top:164px;background:linear-gradient(90deg,#6efebe 0.5px,#a0faa2 50.5px,#d3de80 102.5px,#ffb160 149.5px,#ff4e28 225.5px,#ff0000 284.5px,#ff0201 321.5px,#ff8b48 415.5px,#feb562 451.5px)"></div><div style="top:165px;background:linear-gradient(90deg,#6dfdbe 0.5px,#9ffaa2 50.5px,#d1df82 101.5px,#ffb160 150.5px,#ff4d27 227.5px,#ff0000 285.5px,#ff0201 321.5px,#ff8a48 415.5px,#feb562 451.5px)"></div><div style="top:166px;background:linear-gradient(90deg,#6cfdbf 0.5px,#9efba3 50.5px,#d0e082 101.5px,#ffb160 151.5px,#ff4d27 228.5px,#ff0000 286.5px,#ff0201 321.5px,#ff8a48 415.5px,#feb562 451.5px)"></div><div style="top:167px;background:linear-gradient(90deg,#6bfdbf 0.5px,#9dfba3 50.5px,#cfe183 101.5px,#ffb160 152.5px,#ff4e27 229.5px,#ff0000 287.5px,#ff0201 321.5px,#ff8a48 415.5px,#feb562 451.5px)"></div><div style="top:168px;background:linear-gradient(90deg,#6afdc0 0.5px,#9cfba4 50.5px,#cee284 101.5px,#ffb160 153.5px,#ff4e27 230.5px,#ff0000 289.5px,#ff0302 322.5px,#ff8a48 415.5px,#ffb562 451.5px)"></div><div style="top:169px;background:linear-gradient(90deg,#69fdc0 0.5px,#9bfba5 50.5px,#cde285 101.5px,#ffb260 154.5px,#ff4c27 232.5px,#ff0000 290.5px,#ff0302 322.5px,#ff8a48 415.5px,#ffb562 451.5px)"></div><div style="top:170px;background:linear-gradient(90deg,#68fcc1 0.5px,#99fca5 50.5px,#cce385 101.5px,#ffb260 155.5px,#ff4d27 233.5px,#ff0000 291.5px,#ff0301 322.5px,#ff8b48 416.5px,#ffb562 451.5px)"></div><div style="top:171px;background:linear-gradient(90deg,#67fcc1 0.5px,#98fca6 50.5px,#cbe486 101.5px,#ffb260 156.5px,#ff4d27 234.5px,#ff0000 293.5px,#ff0301 322.5px,#ff8b48 416.5px,#ffb462 451.5px)"></div><div style="top:172px;background:linear-gradient(90deg,#66fcc2 0.5px,#97fca7 50.5px,#cae587 101.5px,#ffb260 157.5px,#ff4c26 236.5px,#ff0000 294.5px,#ff0301 322.5px,#ff8b48 416.5px,#ffb462 451.5px)"></div><div style="top:173px;background:linear-gradient(90deg,#65fcc3 0.5px,#96fca7 50.5px,#c9e587 101.5px,#ffb361 157.5px,#ff4f28 235.5px,#ff0000 295.5px,#ff0201 322.5px,#ff8b48 416.5px,#ffb462 451.5px)"></div><div style="top:174px;background:linear-gradient(90deg,#64fbc3 0.5px,#95fda8 50.5px,#c8e688 101.5px,#ffb462 157.5px,#ff5229 234.5px,#ff0000 297.5px,#ff0201 322.5px,#ff8a48 416.5px,#ffb461 451.5px)"></div><div style="top:175px;background:linear-gradient(90deg,#63fbc4 0.5px,#94fda8 50.5px,#c7e789 101.5px,#feb562 157.5px,#ff552b 233.5px,#ff0000 298.5px,#ff0201 322.5px,#ff8a48 416.5px,#ffb461 451.5px)"></div><div style="top:176px;background:linear-gradient(90deg,#62fbc4 0.5px,#93fda9 50.5px,#c6e889 101.5px,#fcb864 156.5px,#ff592d 231.5px,#ff0000 299.5px,#ff0302 323.5px,#ff8a48 416.5px,#ffb461 451.5px)"></div><div style="top:177px;background:linear-gradient(90deg,#60fac5 0.5px,#92fdaa 50.5px,#c5e88a 101.5px,#fbb965 156.5px,#ffa658 173.5px,#ff0000 300.5px,#ff0302 323.5px,#ff8a48 416.5px,#ffb461 451.5px)"></div><div style="top:178px;background:linear-gradient(90deg,#5ffac5 0.5px,#91feaa 50.5px,#c4e98b 101.5px,#faba65 156.5px,#ffac5c 169.5px,#ff0000 302.5px,#ff0302 323.5px,#ff8a48 416.5px,#ffb461 451.5px)"></div><div style="top:179px;background:linear-gradient(90deg,#5efac6 0.5px,#90feab 50.5px,#c2ea8c 101.5px,#f9bb66 156.5px,#ffae5d 168.5px,#ff3219 263.5px,#ff0000 305.5px,#ff0301 323.5px,#ff8a48 416.5px,#ffb461 451.5px)"></div><div style="top:180px;background:linear-gradient(90deg,#5df9c6 0.5px,#8ffeac 50.5px,#c1ea8c 101.5px,#f8bc67 156.5px,#ffae5e 169.5px,#ff2d16 268.5px,#ff0000 306.5px,#ff0301 323.5px,#ff8b48 417.5px,#ffb361 451.5px)"></div><div style="top:181px;background:linear-gradient(90deg,#5cf9c7 0.5px,#8efeac 50.5px,#c0eb8d 101.5px,#f7bd68 156.5px,#ffaf5e 169.5px,#ff351b 263.5px,#ff0000 308.5px,#ff0301 323.5px,#ff8b48 417.5px,#ffb361 451.5px)"></div><div style="top:182px;background:linear-gradient(90deg,#5bf9c7 0.5px,#8dfead 50.5px,#bfec8e 101.5px,#f6be68 156.5px,#ffaf5e 170.5px,#ff3119 267.5px,#ff0000 309.5px,#ff0201 323.5px,#ff8b48 417.5px,#ffb361 451.5px)"></div><div style="top:183px;background:linear-gradient(90deg,#5af8c8 0.5px,#8cfead 50.5px,#beec8e 101.5px,#f4c16a 155.5px,#ffaf5e 171.5px,#ff0302 306.5px,#ff0100 322.5px,#ff8948 416.5px,#ffb361 451.5px)"></div><div style="top:184px;background:linear-gradient(90deg,#59f8c8 0.5px,#8bfeae 50.5px,#bced90 100.5px,#f2c36b 154.5px,#ffb15f 171.5px,#ff361b 266.5px,#ff0000 312.5px,#ff0402 324.5px,#ff8a48 417.5px,#ffb361 451.5px)"></div><div style="top:185px;background:linear-gradient(90deg,#58f7c9 0.5px,#8affaf 50.5px,#bbee90 100.5px,#f1c46c 154.5px,#ffb15f 172.5px,#ff0703 306.5px,#ff0000 318.5px,#ff0703 326.5px,#ff8c49 418.5px,#ffb361 451.5px)"></div><div style="top:186px;background:linear-gradient(90deg,#57f7c9 0.5px,#89ffaf 50.5px,#baef91 100.5px,#efc56d 154.5px,#ffb15f 173.5px,#ff0704 307.5px,#ff0000 319.5px,#ff0b06 329.5px,#ff8d4a 419.5px,#ffb361 451.5px)"></div><div style="top:187px;background:linear-gradient(90deg,#56f7ca 0.5px,#87ffb0 50.5px,#b9ef92 100.5px,#eec66e 154.5px,#ffb15f 174.5px,#ff0904 307.5px,#ff0000 320.5px,#ff954f 426.5px,#ffb361 451.5px)"></div><div style="top:188px;background:linear-gradient(90deg,#55f6ca 0.5px,#86ffb0 50.5px,#b8f092 100.5px,#edc76e 154.5px,#ffb15f 175.5px,#ff0b05 307.5px,#ff0000 321.5px,#ff904c 422.5px,#ffb361 451.5px)"></div><div style="top:189px;background:linear-gradient(90deg,#54f6cb 0.5px,#85ffb1 50.5px,#b7f093 100.5px,#ecc86f 154.5px,#ffb15f 176.5px,#ff0c06 307.5px,#ff0000 322.5px,#ff8a48 417.5px,#ffb360 451.5px)"></div><div style="top:190px;background:linear-gradient(90deg,#53f5cb 0.5px,#84ffb2 50.5px,#b6f194 100.5px,#ebc970 154.5px,#ffb160 177.5px,#ff0d06 308.5px,#ff0101 323.5px,#ff8a48 417.5px,#ffb260 451.5px)"></div><div style="top:191px;background:linear-gradient(90deg,#52f5cc 0.5px,#83ffb2 50.5px,#b5f194 100.5px,#e9cb71 153.5px,#ffb160 178.5px,#ff0f07 308.5px,#ff0101 323.5px,#ff8a48 417.5px,#ffb260 451.5px)"></div><div style="top:192px;background:linear-gradient(90deg,#51f4cc 0.5px,#82ffb3 50.5px,#b4f295 100.5px,#e8cc72 153.5px,#ffb160 179.5px,#ff1008 308.5px,#ff0301 324.5px,#ff8b48 418.5px,#ffb260 451.5px)"></div><div style="top:193px;background:linear-gradient(90deg,#50f4cd 0.5px,#81ffb3 50.5px,#b3f296 100.5px,#e7cd73 153.5px,#ffb160 180.5px,#ff1209 308.5px,#ff0402 325.5px,#ff8b48 418.5px,#ffb260 451.5px)"></div><div style="top:194px;background:linear-gradient(90deg,#4ef3cd 0.5px,#80ffb4 50.5px,#b2f396 100.5px,#e6ce73 153.5px,#ffb260 181.5px,#ff1309 309.5px,#ff0402 325.5px,#ff8b48 418.5px,#ffb260 451.5px)"></div><div style="top:195px;background:linear-gradient(90deg,#4df3ce 0.5px,#7fffb5 50.5px,#b1f397 100.5px,#e5cf74 153.5px,#ffb05f 183.5px,#ff140a 309.5px,#ff0503 326.5px,#ff8c49 419.5px,#ffb260 451.5px)"></div><div style="top:196px;background:linear-gradient(90deg,#4cf2ce 0.5px,#7effb5 50.5px,#aff498 100.5px,#e4d075 153.5px,#ffb15f 184.5px,#ff160b 309.5px,#ff0703 327.5px,#ff8c49 419.5px,#ffb260 451.5px)"></div><div style="top:197px;background:linear-gradient(90deg,#4bf2cf 0.5px,#7dffb6 50.5px,#aef498 100.5px,#e3d176 153.5px,#ffb15f 185.5px,#ff160b 310.5px,#ff0804 328.5px,#ff8c49 419.5px,#ffb260 451.5px)"></div><div style="top:198px;background:linear-gradient(90deg,#4af1cf 0.5px,#7cffb6 50.5px,#adf599 100.5px,#e2d276 153.5px,#ffb15f 186.5px,#ff180c 310.5px,#ff0804 328.5px,#ff8c49 419.5px,#ffb260 451.5px)"></div><div style="top:199px;background:linear-gradient(90deg,#49f1d0 0.5px,#7bffb7 50.5px,#acf59a 100.5px,#e1d377 153.5px,#ffb15f 187.5px,#ff1a0d 310.5px,#ff0a05 329.5px,#ff8d4a 420.5px,#ffb260 451.5px)"></div><div style="top:200px;background:linear-gradient(90deg,#48f0d0 0.5px,#7affb8 50.5px,#abf69a 100.5px,#e0d478 153.5px,#ffb15f 188.5px,#ff1b0e 310.5px,#ff0b06 330.5px,#ff8d49 420.5px,#ffb260 451.5px)"></div><div style="top:201px;background:linear-gradient(90deg,#47f0d1 0.5px,#79ffb8 50.5px,#aaf69b 100.5px,#dfd479 153.5px,#ffb15f 189.5px,#ff1c0e 311.5px,#ff0c06 331.5px,#ff8e4a 421.5px,#ffb260 451.5px)"></div><div style="top:202px;background:linear-gradient(90deg,#46efd1 0.5px,#78ffb9 50.5px,#a9f79c 100.5px,#ddd67a 152.5px,#ffb160 190.5px,#ff1e0f 311.5px,#ff0c06 331.5px,#ff8e4a 421.5px,#ffb260 451.5px)"></div><div style="top:203px;background:linear-gradient(90deg,#45efd2 0.5px,#77ffb9 50.5px,#a8f79c 100.5px,#dbd77b 152.5px,#ffb160 191.5px,#ff1f10 311.5px,#ff0e07 332.5px,#ff8e4a 421.5px,#ffb160 451.5px)"></div><div style="top:204px;background:linear-gradient(90deg,#44eed2 0.5px,#75ffba 50.5px,#a7f79d 100.5px,#dad87b 152.5px,#ffb160 192.5px,#ff2111 311.5px,#ff0f08 333.5px,#ff8f4b 422.5px,#ffb160 451.5px)"></div><div style="top:205px;background:linear-gradient(90deg,#43edd3 0.5px,#74feba 50.5px,#a6f89e 100.5px,#d9d97c 152.5px,#ffb160 193.5px,#ff2211 312.5px,#ff1108 334.5px,#ff8f4b 422.5px,#ffb160 451.5px)"></div><div style="top:206px;background:linear-gradient(90deg,#42edd3 0.5px,#73febb 50.5px,#a5f89e 100.5px,#d8da7d 152.5px,#ffb260 194.5px,#ff2312 312.5px,#ff1108 334.5px,#ff8f4b 422.5px,#ffb160 451.5px)"></div><div style="top:207px;background:linear-gradient(90deg,#41ecd4 0.5px,#72febb 50.5px,#a4f99f 100.5px,#d7db7e 152.5px,#ffb260 195.5px,#ff2513 312.5px,#ff1209 335.5px,#ff904b 423.5px,#ffb160 451.5px)"></div><div style="top:208px;background:linear-gradient(90deg,#40ecd4 0.5px,#71febc 50.5px,#a3f9a0 100.5px,#d6db7e 152.5px,#ffb260 196.5px,#ff2613 313.5px,#ff130a 336.5px,#ff904b 423.5px,#ffb160 451.5px)"></div><div style="top:209px;background:linear-gradient(90deg,#3febd5 0.5px,#71febc 51.5px,#a3f9a0 101.5px,#d6dc7e 153.5px,#ffb15f 198.5px,#ff2714 313.5px,#ff150a 337.5px,#ff914c 424.5px,#ffb15f 451.5px)"></div><div style="top:210px;background:linear-gradient(90deg,#3eead5 0.5px,#70febd 51.5px,#a2f9a0 101.5px,#d5dc7f 153.5px,#ffb15f 199.5px,#ff2914 313.5px,#ff150a 337.5px,#ff914c 424.5px,#ffb15f 451.5px)"></div><div style="top:211px;background:linear-gradient(90deg,#3cead5 0.5px,#6ffebd 51.5px,#a1faa1 101.5px,#d4dd80 153.5px,#ffb15f 200.5px,#ff2915 314.5px,#ff160b 338.5px,#ff914c 424.5px,#ffb15f 451.5px)"></div><div style="top:212px;background:linear-gradient(90deg,#3be9d6 0.5px,#6efebe 51.5px,#a0faa2 101.5px,#d3de81 153.5px,#ffb15f 201.5px,#ff2b16 314.5px,#ff180c 339.5px,#ff924d 425.5px,#ffb15f 451.5px)"></div><div style="top:213px;background:linear-gradient(90deg,#3ae8d6 0.5px,#6dfdbe 51.5px,#9efaa2 101.5px,#d2df81 153.5px,#ffb160 202.5px,#ff2d16 314.5px,#ff190d 340.5px,#ff924d 425.5px,#ffb15f 451.5px)"></div><div style="top:214px;background:linear-gradient(90deg,#39e8d7 0.5px,#6cfdbf 51.5px,#9dfba3 101.5px,#d1e082 153.5px,#ffb160 203.5px,#ff2d17 315.5px,#ff190d 340.5px,#ff924d 425.5px,#ffb15f 451.5px)"></div><div style="top:215px;background:linear-gradient(90deg,#38e7d7 0.5px,#6bfdbf 51.5px,#9cfba4 101.5px,#d0e083 153.5px,#ffb160 204.5px,#ff2f18 315.5px,#ff1a0d 341.5px,#ff934d 426.5px,#ffb15f 451.5px)"></div><div style="top:216px;background:linear-gradient(90deg,#37e6d8 0.5px,#6afdc0 51.5px,#9bfba4 101.5px,#cee284 152.5px,#ffb160 205.5px,#ff3118 315.5px,#ff1c0e 342.5px,#ff944e 427.5px,#ffb15f 451.5px)"></div><div style="top:217px;background:linear-gradient(90deg,#36e5d8 0.5px,#69fcc1 51.5px,#9afca5 101.5px,#cde385 152.5px,#ffb260 206.5px,#ff3119 316.5px,#ff1d0f 343.5px,#ff944e 427.5px,#ffb15f 451.5px)"></div><div style="top:218px;background:linear-gradient(90deg,#35e5d9 0.5px,#68fcc1 51.5px,#99fca5 101.5px,#cce385 152.5px,#ffb260 207.5px,#ff331a 316.5px,#ff1f0f 344.5px,#ff954f 428.5px,#ffb15f 451.5px)"></div><div style="top:219px;background:linear-gradient(90deg,#34e4d9 0.5px,#67fcc2 51.5px,#98fca6 101.5px,#cbe486 152.5px,#ffb260 208.5px,#ff351a 316.5px,#ff1f0f 344.5px,#ff954f 428.5px,#ffb05f 451.5px)"></div><div style="top:220px;background:linear-gradient(90deg,#33e3d9 0.5px,#66fcc2 51.5px,#97fca7 101.5px,#c9e587 152.5px,#ffb15f 210.5px,#ff351b 317.5px,#ff2010 345.5px,#ff954e 428.5px,#ffb05f 451.5px)"></div><div style="top:221px;background:linear-gradient(90deg,#32e2da 0.5px,#64fbc3 51.5px,#96fda7 101.5px,#c8e688 152.5px,#ffb260 210.5px,#ff371c 317.5px,#ff2211 346.5px,#ff974f 429.5px,#ffb05f 451.5px)"></div><div style="top:222px;background:linear-gradient(90deg,#31e2da 0.5px,#63fbc3 51.5px,#95fda8 101.5px,#c7e688 152.5px,#ffb462 209.5px,#ff391c 317.5px,#ff2312 347.5px,#ff964f 429.5px,#ffb05f 451.5px)"></div><div style="top:223px;background:linear-gradient(90deg,#30e1db 0.5px,#62fbc4 51.5px,#94fda9 101.5px,#c6e789 152.5px,#feb562 209.5px,#ff3a1d 317.5px,#ff2312 347.5px,#ff964f 429.5px,#ffb05f 451.5px)"></div><div style="top:224px;background:linear-gradient(90deg,#2fe0db 0.5px,#61fbc4 51.5px,#93fda9 101.5px,#c5e88a 152.5px,#fdb763 209.5px,#ff3c1e 317.5px,#ff2512 348.5px,#ff9850 430.5px,#ffb05f 451.5px)"></div><div style="top:225px;background:linear-gradient(90deg,#2edfdc 0.5px,#60fac5 51.5px,#92fdaa 101.5px,#c4e98a 152.5px,#fcb864 209.5px,#ff3d1f 317.5px,#ff2613 349.5px,#ff9850 430.5px,#ffb05f 451.5px)"></div><div style="top:226px;background:linear-gradient(90deg,#2ddedc 0.5px,#5ffac5 51.5px,#91feaa 101.5px,#c3e98b 152.5px,#fbb965 209.5px,#ffa659 226.5px,#ff3d1f 319.5px,#ff2714 350.5px,#ff9950 431.5px,#ffb05f 451.5px)"></div><div style="top:227px;background:linear-gradient(90deg,#2cdedc 0.5px,#5efac6 51.5px,#90feab 101.5px,#c2ea8c 152.5px,#faba65 209.5px,#ffab5c 223.5px,#ff3e1f 320.5px,#ff2915 351.5px,#ff9a51 432.5px,#ffb05f 451.5px)"></div><div style="top:228px;background:linear-gradient(90deg,#2adddd 0.5px,#5efac6 52.5px,#90feab 102.5px,#c2ea8c 153.5px,#faba65 210.5px,#ffac5c 223.5px,#ff3f20 320.5px,#ff2914 351.5px,#ff9a51 432.5px,#ffb05f 451.5px)"></div><div style="top:229px;background:linear-gradient(90deg,#29dcdd 0.5px,#5df9c6 52.5px,#8ffeac 102.5px,#c1eb8d 153.5px,#f8bc67 209.5px,#ffaf5e 222.5px,#ff4020 321.5px,#ff2a15 352.5px,#ff9a51 432.5px,#ffb05f 451.5px)"></div><div style="top:230px;background:linear-gradient(90deg,#28dbde 0.5px,#5cf9c7 52.5px,#8dfeac 102.5px,#c0eb8d 153.5px,#f7bd68 209.5px,#ffb05f 222.5px,#ff4221 321.5px,#ff2c16 353.5px,#ff9b52 433.5px,#ffb05f 451.5px)"></div><div style="top:231px;background:linear-gradient(90deg,#27dade 0.5px,#5bf9c7 52.5px,#8cfead 102.5px,#bfec8e 153.5px,#f6bf68 209.5px,#ffb05f 223.5px,#ff4322 321.5px,#ff2d17 354.5px,#ff9b52 433.5px,#ffb05f 451.5px)"></div><div style="top:232px;background:linear-gradient(90deg,#26d9de 0.5px,#5af8c8 52.5px,#8bfeae 102.5px,#beec8f 153.5px,#f4c069 209.5px,#ffb05f 224.5px,#ff4422 322.5px,#ff2f17 355.5px,#ff9c53 434.5px,#ffb05f 451.5px)"></div><div style="top:233px;background:linear-gradient(90deg,#25d9df 0.5px,#59f8c8 52.5px,#8afeae 102.5px,#bded8f 153.5px,#f3c16a 209.5px,#ffb05f 225.5px,#ff4623 322.5px,#ff2f17 355.5px,#ff9c52 434.5px,#ffb05f 451.5px)"></div><div style="top:234px;background:linear-gradient(90deg,#24d8df 0.5px,#58f7c9 52.5px,#89ffaf 102.5px,#bcee90 153.5px,#f2c26b 209.5px,#ffb05f 226.5px,#ff4724 322.5px,#ff3018 356.5px,#ff9d53 435.5px,#ffb05f 451.5px)"></div><div style="top:235px;background:linear-gradient(90deg,#23d7e0 0.5px,#57f7ca 52.5px,#88ffaf 102.5px,#bbee91 153.5px,#f1c36b 209.5px,#ffb05f 227.5px,#ff4824 323.5px,#ff3119 357.5px,#ff9d53 435.5px,#ffb05f 451.5px)"></div><div style="top:236px;background:linear-gradient(90deg,#22d6e0 0.5px,#56f7ca 52.5px,#87ffb0 102.5px,#baef91 153.5px,#efc56d 208.5px,#ffb15f 228.5px,#ff4a25 323.5px,#ff331a 358.5px,#ff9e54 436.5px,#ffb05f 451.5px)"></div><div style="top:237px;background:linear-gradient(90deg,#21d5e0 0.5px,#55f6cb 52.5px,#86ffb1 102.5px,#b8ef92 153.5px,#eec66e 208.5px,#ffb15f 229.5px,#ff4b26 323.5px,#ff341a 359.5px,#ff9e54 436.5px,#ffb05f 451.5px)"></div><div style="top:238px;background:linear-gradient(90deg,#20d4e1 0.5px,#53f6cb 52.5px,#85ffb1 102.5px,#b6f193 152.5px,#ecc86f 207.5px,#ffb15f 230.5px,#ff4d27 323.5px,#ff361b 360.5px,#ff9f55 437.5px,#ffb05f 451.5px)"></div><div style="top:239px;background:linear-gradient(90deg,#1fd3e1 0.5px,#52f5cc 52.5px,#84ffb2 102.5px,#b5f194 152.5px,#ebc970 207.5px,#ffb15f 231.5px,#ff4e27 324.5px,#ff361b 360.5px,#ff9f55 437.5px,#ffb05f 451.5px)"></div><div style="top:240px;background:linear-gradient(90deg,#1ed2e2 0.5px,#51f5cc 52.5px,#83ffb2 102.5px,#b4f295 152.5px,#eaca71 207.5px,#ffb15f 232.5px,#ff4f28 324.5px,#ff371c 361.5px,#ffa155 438.5px,#ffb05f 451.5px)"></div><div style="top:241px;background:linear-gradient(90deg,#1dd1e2 0.5px,#50f4cd 52.5px,#82ffb3 102.5px,#b3f295 152.5px,#e9cb71 207.5px,#ffb160 233.5px,#ff5129 324.5px,#ff391d 362.5px,#ffa155 438.5px,#ffb05f 451.5px)"></div><div style="top:242px;background:linear-gradient(90deg,#1cd0e2 0.5px,#50f4cd 53.5px,#82ffb3 103.5px,#b3f295 153.5px,#e9cb71 208.5px,#ffb160 234.5px,#ff5129 325.5px,#ff3a1d 363.5px,#ffa256 439.5px,#ffb05e 451.5px)"></div><div style="top:243px;background:linear-gradient(90deg,#1bcfe3 0.5px,#4ff4cd 53.5px,#81ffb4 103.5px,#b2f396 153.5px,#e8cc72 208.5px,#ffb160 235.5px,#ff532a 325.5px,#ff3c1e 364.5px,#ffa357 440.5px,#ffaf5e 451.5px)"></div><div style="top:244px;background:linear-gradient(90deg,#1acee3 0.5px,#4ef3ce 53.5px,#80ffb4 103.5px,#b1f397 153.5px,#e6ce74 207.5px,#ffb15f 237.5px,#ff542a 326.5px,#ff3c1e 364.5px,#ffa357 440.5px,#ffaf5e 451.5px)"></div><div style="top:245px;background:linear-gradient(90deg,#18cde4 0.5px,#4df3ce 53.5px,#7fffb5 103.5px,#b0f497 153.5px,#e5cf74 207.5px,#ffb15f 238.5px,#ff552b 326.5px,#ff3d1f 365.5px,#ffa357 440.5px,#ffaf5e 451.5px)"></div><div style="top:246px;background:linear-gradient(90deg,#17cce4 0.5px,#4cf2cf 53.5px,#7effb5 103.5px,#aff498 153.5px,#e4d075 207.5px,#ffb15f 239.5px,#ff572c 326.5px,#ff3e1f 366.5px,#ffa457 441.5px,#ffaf5e 451.5px)"></div><div style="top:247px;background:linear-gradient(90deg,#16cbe4 0.5px,#4bf2cf 53.5px,#7cffb6 103.5px,#aef599 153.5px,#e3d176 207.5px,#ffb15f 240.5px,#ff582d 327.5px,#ff4020 367.5px,#ffa558 442.5px,#ffaf5e 451.5px)"></div><div style="top:248px;background:linear-gradient(90deg,#15cae5 0.5px,#4af1d0 53.5px,#7bffb7 103.5px,#adf599 153.5px,#e2d276 207.5px,#ffb160 241.5px,#ff592d 327.5px,#ff4121 368.5px,#ffa558 442.5px,#ffaf5e 451.5px)"></div><div style="top:249px;background:linear-gradient(90deg,#14c9e5 0.5px,#49f1d0 53.5px,#7affb7 103.5px,#acf69a 153.5px,#e1d377 207.5px,#ffb160 242.5px,#ff5b2e 327.5px,#ff4322 369.5px,#ffa659 443.5px,#ffaf5e 451.5px)"></div><div style="top:250px;background:linear-gradient(90deg,#13c8e5 0.5px,#48f0d0 53.5px,#79ffb8 103.5px,#abf69b 153.5px,#e0d478 207.5px,#ffb160 243.5px,#ff5c2f 328.5px,#ff4322 369.5px,#ffa759 444.5px,#ffaf5e 451.5px)"></div><div style="top:251px;background:linear-gradient(90deg,#12c7e6 0.5px,#47f0d1 53.5px,#78ffb8 103.5px,#aaf69b 153.5px,#ded579 207.5px,#ffb260 244.5px,#ff5d2f 328.5px,#ff4422 370.5px,#ffa759 444.5px,#ffaf5e 451.5px)"></div><div style="top:252px;background:linear-gradient(90deg,#11c6e6 0.5px,#46efd1 53.5px,#77ffb9 103.5px,#a9f79c 153.5px,#ddd679 207.5px,#ffb15f 246.5px,#ff5e30 329.5px,#ff4623 371.5px,#ffa759 444.5px,#ffaf5e 451.5px)"></div><div style="top:253px;background:linear-gradient(90deg,#10c5e6 0.5px,#45eed2 53.5px,#76ffb9 103.5px,#a8f79d 153.5px,#dcd67a 207.5px,#ffb15f 247.5px,#ff5f31 329.5px,#ff4724 372.5px,#ffa85a 445.5px,#ffaf5e 451.5px)"></div><div style="top:254px;background:linear-gradient(90deg,#0fc4e7 0.5px,#45eed2 54.5px,#76ffb9 104.5px,#a7f79d 154.5px,#dcd77a 208.5px,#ffb15f 248.5px,#ff6131 329.5px,#ff4825 373.5px,#ffaa5b 446.5px,#ffaf5e 451.5px)"></div><div style="top:255px;background:linear-gradient(90deg,#0ec3e7 0.5px,#43eed2 54.5px,#75feba 104.5px,#a6f89d 154.5px,#dad87c 207.5px,#ffb160 249.5px,#ff6232 330.5px,#ff4a25 374.5px,#ffa95b 446.5px,#ffaf5e 451.5px)"></div><div style="top:256px;background:linear-gradient(90deg,#0dc2e8 0.5px,#42edd3 54.5px,#74febb 104.5px,#a5f89e 154.5px,#d9d97c 207.5px,#ffb160 250.5px,#ff6333 330.5px,#ff4b26 375.5px,#ffab5b 447.5px,#ffaf5e 451.5px)"></div><div style="top:257px;background:linear-gradient(90deg,#0cc1e8 0.5px,#41edd3 54.5px,#73febb 104.5px,#a4f89f 154.5px,#d8da7d 207.5px,#ffb260 251.5px,#ff6433 331.5px,#ff4c26 375.5px,#ffad5d 449.5px,#ffaf5e 451.5px)"></div><div style="top:258px;background:linear-gradient(90deg,#0bc0e8 0.5px,#40ecd4 54.5px,#72febc 104.5px,#a3f99f 154.5px,#d7db7e 207.5px,#ffb260 252.5px,#ff6634 331.5px,#ff4d27 376.5px,#ffad5d 449.5px,#ffaf5e 451.5px)"></div><div style="top:259px;background:linear-gradient(90deg,#0abfe9 0.5px,#3febd4 54.5px,#72febc 105.5px,#a3f99f 155.5px,#d7db7e 208.5px,#ffb15f 254.5px,#ff6634 332.5px,#ff4e28 377.5px,#ffac5c 448.5px,#ffaf5e 451.5px)"></div><div style="top:260px;background:linear-gradient(90deg,#09bee9 0.5px,#3eebd5 54.5px,#71febc 105.5px,#a2f9a0 155.5px,#d6dc7f 208.5px,#ffb160 255.5px,#ff6835 332.5px,#ff5028 378.5px,#ffad5d 449.5px,#ffaf5e 451.5px)"></div><div style="top:261px;background:linear-gradient(90deg,#08bde9 0.5px,#3dead5 54.5px,#70febd 105.5px,#a1faa1 155.5px,#d5dd7f 208.5px,#ffb160 256.5px,#ff6935 333.5px,#ff5129 379.5px,#ffae5d 450.5px,#ffaf5e 451.5px)"></div><div style="top:262px;background:linear-gradient(90deg,#06bbea 0.5px,#3ce9d6 54.5px,#6ffebd 105.5px,#a0faa1 155.5px,#d4dd80 208.5px,#ffb260 257.5px,#ff6a36 333.5px,#ff522a 380.5px,#ffaf5e 451.5px)"></div><div style="top:263px;background:linear-gradient(90deg,#05baea 0.5px,#3ce9d6 55.5px,#6ffebd 106.5px,#a0faa1 156.5px,#d4dd80 209.5px,#ffb260 258.5px,#ff6b37 334.5px,#ff542b 381.5px,#ffaf5e 451.5px)"></div><div style="top:264px;background:linear-gradient(90deg,#04b9ea 0.5px,#3be9d6 55.5px,#6dfdbe 106.5px,#9ffaa2 156.5px,#d3de81 209.5px,#ffb15f 260.5px,#ff6c38 334.5px,#ff552b 382.5px,#ffaf5e 451.5px)"></div><div style="top:265px;background:linear-gradient(90deg,#03b8eb 0.5px,#3ae8d7 55.5px,#6cfdbf 106.5px,#9efba3 156.5px,#d2df81 209.5px,#ffb160 261.5px,#ff6d38 335.5px,#ff572c 383.5px,#ffaf5e 451.5px)"></div><div style="top:266px;background:linear-gradient(90deg,#02b7eb 0.5px,#39e7d7 55.5px,#6bfdbf 106.5px,#9dfba3 156.5px,#d0e082 209.5px,#ffb160 262.5px,#ff6f39 335.5px,#ff572c 383.5px,#ffaf5e 451.5px)"></div><div style="top:267px;background:linear-gradient(90deg,#01b6eb 0.5px,#38e6d7 55.5px,#6afdc0 106.5px,#9cfba4 156.5px,#cfe183 209.5px,#ffb260 263.5px,#ff7039 336.5px,#ff592d 384.5px,#ffaf5e 451.5px)"></div><div style="top:268px;background:linear-gradient(90deg,#00b4ec 0.5px,#37e6d8 55.5px,#69fdc0 106.5px,#9bfba5 156.5px,#cee184 209.5px,#ffb260 264.5px,#ff713a 336.5px,#ff5a2e 385.5px,#ffaf5e 451.5px)"></div><div style="top:269px;background:linear-gradient(90deg,#01b3ec 0.5px,#36e5d8 55.5px,#68fcc1 106.5px,#9afca5 156.5px,#cde284 209.5px,#ffb15f 266.5px,#ff723a 337.5px,#ff5b2e 386.5px,#ffaf5e 451.5px)"></div><div style="top:270px;background:linear-gradient(90deg,#02b2ec 0.5px,#06bbea 8.5px,#3ce9d6 62.5px,#6efebe 113.5px,#9ffaa2 163.5px,#d3de81 216.5px,#ffb160 267.5px,#ff733b 338.5px,#ff5c2f 387.5px,#ffaf5e 451.5px)"></div><div style="top:271px;background:linear-gradient(90deg,#03b1ec 0.5px,#03b8eb 6.5px,#39e8d7 61.5px,#6cfdbf 112.5px,#9dfba3 162.5px,#d1e082 215.5px,#ffb160 268.5px,#ff743c 338.5px,#ff5e30 388.5px,#ffaf5e 451.5px)"></div><div style="top:272px;background:linear-gradient(90deg,#04b0ed 0.5px,#02b6eb 6.5px,#38e7d7 61.5px,#6bfdbf 112.5px,#9cfba4 162.5px,#d0e083 215.5px,#ffb260 269.5px,#ff753c 339.5px,#ff5f30 389.5px,#ffaf5e 451.5px)"></div><div style="top:273px;background:linear-gradient(90deg,#05afed 0.5px,#02b6eb 7.5px,#38e7d7 62.5px,#6bfdbf 113.5px,#9cfba4 163.5px,#d0e083 216.5px,#ffb260 270.5px,#ff763d 339.5px,#ff6131 390.5px,#ffaf5e 451.5px)"></div><div style="top:274px;background:linear-gradient(90deg,#06aded 0.5px,#02b6eb 8.5px,#38e7d7 63.5px,#6bfdbf 114.5px,#9cfba4 164.5px,#d0e183 217.5px,#ffb160 272.5px,#ff773d 340.5px,#ff6232 391.5px,#ffaf5e 451.5px)"></div><div style="top:275px;background:linear-gradient(90deg,#07acee 0.5px,#02b6eb 9.5px,#38e7d7 64.5px,#6bfdbf 115.5px,#9cfba4 165.5px,#d0e183 218.5px,#ffb160 273.5px,#ff783e 341.5px,#ff6333 392.5px,#ffaf5e 451.5px)"></div><div style="top:276px;background:linear-gradient(90deg,#08abee 0.5px,#02b6eb 10.5px,#38e7d7 65.5px,#6bfdc0 116.5px,#9cfba4 166.5px,#cfe183 219.5px,#ffb260 274.5px,#ff793e 342.5px,#ff6533 393.5px,#ffaf5e 451.5px)"></div><div style="top:277px;background:linear-gradient(90deg,#09aaee 0.5px,#02b6eb 11.5px,#38e7d7 66.5px,#6bfdc0 117.5px,#9cfba4 167.5px,#cfe183 220.5px,#ffb260 275.5px,#ff7a3f 342.5px,#ff6634 394.5px,#ffaf5e 451.5px)"></div><div style="top:278px;background:linear-gradient(90deg,#0aa8ef 0.5px,#01b6eb 12.5px,#38e7d7 67.5px,#6bfdc0 118.5px,#9cfba4 168.5px,#cfe183 221.5px,#ffb160 277.5px,#ff7b40 343.5px,#ff6835 395.5px,#ffaf5e 451.5px)"></div><div style="top:279px;background:linear-gradient(90deg,#0ca7ef 0.5px,#01b6eb 13.5px,#38e7d7 68.5px,#6afdc0 119.5px,#9cfba4 169.5px,#cfe183 222.5px,#ffb160 278.5px,#ff7c40 344.5px,#ff6936 396.5px,#ffaf5e 451.5px)"></div><div style="top:280px;background:linear-gradient(90deg,#0da6ef 0.5px,#01b6eb 14.5px,#38e7d7 69.5px,#6afdc0 120.5px,#9cfba4 170.5px,#cfe183 223.5px,#ffb260 279.5px,#ff7e41 344.5px,#ff6a36 396.5px,#ffaf5e 451.5px)"></div><div style="top:281px;background:linear-gradient(90deg,#0ea5ef 0.5px,#01b6eb 15.5px,#38e7d7 70.5px,#6afdc0 121.5px,#9cfba4 171.5px,#cfe183 224.5px,#ffb160 281.5px,#ff7e41 346.5px,#ff6c37 398.5px,#ffaf5e 451.5px)"></div><div style="top:282px;background:linear-gradient(90deg,#0fa3f0 0.5px,#01b6eb 16.5px,#38e6d7 71.5px,#6afdc0 122.5px,#9cfba4 172.5px,#d0e083 226.5px,#ffb160 282.5px,#ff7f42 346.5px,#ff6c37 398.5px,#ffaf5e 451.5px)"></div><div style="top:283px;background:linear-gradient(90deg,#10a2f0 0.5px,#01b6eb 17.5px,#38e6d7 72.5px,#6afdc0 123.5px,#9bfba4 173.5px,#d0e183 227.5px,#ffb260 283.5px,#ff8042 347.5px,#ff6d38 399.5px,#ffaf5e 451.5px)"></div><div style="top:284px;background:linear-gradient(90deg,#11a1f0 0.5px,#01b5eb 18.5px,#38e6d8 73.5px,#6afdc0 124.5px,#9bfba4 174.5px,#d0e183 228.5px,#ffb260 284.5px,#ff8143 348.5px,#ff6f39 400.5px,#ffaf5e 451.5px)"></div><div style="top:285px;background:linear-gradient(90deg,#129ff1 0.5px,#01b5eb 19.5px,#38e6d8 74.5px,#6afdc0 125.5px,#9bfba4 175.5px,#cfe183 229.5px,#ffb160 286.5px,#ff8243 349.5px,#ff713a 402.5px,#ffaf5e 451.5px)"></div><div style="top:286px;background:linear-gradient(90deg,#139ef1 0.5px,#01b5eb 20.5px,#37e6d8 75.5px,#6afdc0 126.5px,#9bfba4 176.5px,#cfe183 230.5px,#ffb260 287.5px,#ff8344 350.5px,#ff723b 403.5px,#ffaf5e 451.5px)"></div><div style="top:287px;background:linear-gradient(90deg,#149df1 0.5px,#01b5eb 21.5px,#37e6d8 76.5px,#6afdc0 127.5px,#9bfba4 177.5px,#cfe183 231.5px,#ffb260 288.5px,#ff8445 350.5px,#ff733b 403.5px,#ffaf5e 451.5px)"></div><div style="top:288px;background:linear-gradient(90deg,#159cf1 0.5px,#01b5eb 22.5px,#37e6d8 77.5px,#6afdc0 128.5px,#9bfba4 178.5px,#cfe183 232.5px,#ffb160 290.5px,#ff8545 352.5px,#ff753c 405.5px,#ffaf5e 451.5px)"></div><div style="top:289px;background:linear-gradient(90deg,#169af2 0.5px,#01b5eb 23.5px,#37e6d8 78.5px,#6afdc0 129.5px,#9bfba4 179.5px,#cfe183 233.5px,#ffb260 291.5px,#ff8645 353.5px,#ff763d 406.5px,#ffaf5e 451.5px)"></div><div style="top:290px;background:linear-gradient(90deg,#1799f2 0.5px,#01b5eb 24.5px,#37e6d8 79.5px,#6afdc0 130.5px,#9bfba4 180.5px,#cfe183 234.5px,#ffb260 292.5px,#ff8746 353.5px,#ff783e 407.5px,#ffaf5e 451.5px)"></div><div style="top:291px;background:linear-gradient(90deg,#1898f2 0.5px,#02b6eb 26.5px,#38e7d7 81.5px,#6bfdc0 132.5px,#9cfba4 182.5px,#d0e183 236.5px,#ffb260 294.5px,#ff8746 355.5px,#ff793e 408.5px,#ffaf5e 451.5px)"></div><div style="top:292px;background:linear-gradient(90deg,#1996f2 0.5px,#02b6eb 27.5px,#38e7d7 82.5px,#6bfdc0 133.5px,#9cfba4 183.5px,#d0e183 237.5px,#ffb260 295.5px,#ff8847 356.5px,#ff7b3f 409.5px,#ffaf5e 451.5px)"></div><div style="top:293px;background:linear-gradient(90deg,#1a95f3 0.5px,#01b6eb 28.5px,#38e7d7 83.5px,#6afdc0 134.5px,#9cfba4 184.5px,#d0e082 239.5px,#ffb260 296.5px,#ff8a48 356.5px,#ff7c40 410.5px,#ffae5e 451.5px)"></div><div style="top:294px;background:linear-gradient(90deg,#1b93f3 0.5px,#01b6eb 29.5px,#38e7d7 84.5px,#6afdc0 135.5px,#9cfba4 185.5px,#d0e082 240.5px,#ffb260 298.5px,#ff8a48 358.5px,#ff7d41 411.5px,#ffae5e 451.5px)"></div><div style="top:295px;background:linear-gradient(90deg,#1c92f3 0.5px,#01b6eb 30.5px,#38e7d7 85.5px,#6afdc0 136.5px,#9bfba4 186.5px,#d0e083 241.5px,#ffb260 299.5px,#ff8b49 359.5px,#ff7e41 412.5px,#ffae5e 451.5px)"></div><div style="top:296px;background:linear-gradient(90deg,#1d91f3 0.5px,#01b6eb 31.5px,#38e7d7 86.5px,#6afdc0 137.5px,#9bfba4 187.5px,#d0e083 242.5px,#ffb260 301.5px,#ff8c49 360.5px,#ff8042 413.5px,#ffae5e 451.5px)"></div><div style="top:297px;background:linear-gradient(90deg,#1f8ff4 0.5px,#01b6eb 32.5px,#38e6d7 87.5px,#6afdc0 138.5px,#9bfba4 188.5px,#d0e083 243.5px,#ffb260 302.5px,#ff8d4a 361.5px,#ff8143 414.5px,#ffae5e 451.5px)"></div><div style="top:298px;background:linear-gradient(90deg,#208ef4 0.5px,#01b6eb 33.5px,#38e6d7 88.5px,#6afdc0 139.5px,#9bfba4 189.5px,#d0e183 244.5px,#ffb360 303.5px,#ff8e4a 362.5px,#ff8244 415.5px,#ffae5e 451.5px)"></div><div style="top:299px;background:linear-gradient(90deg,#218df4 0.5px,#01b5eb 34.5px,#38e6d8 89.5px,#6afdc0 140.5px,#9bfba4 190.5px,#d0e183 245.5px,#ffb260 305.5px,#ff8f4b 364.5px,#ff8444 416.5px,#ffae5e 451.5px)"></div><div style="top:300px;background:linear-gradient(90deg,#228bf4 0.5px,#01b5eb 35.5px,#38e6d8 90.5px,#6afdc0 141.5px,#9bfba4 191.5px,#cfe183 246.5px,#ffb360 306.5px,#ff904b 365.5px,#ff8545 417.5px,#ffae5e 451.5px)"></div><div style="top:301px;background:linear-gradient(90deg,#238af5 0.5px,#01b5eb 36.5px,#37e6d8 91.5px,#6afdc0 142.5px,#9bfba4 192.5px,#cfe183 247.5px,#ffb260 308.5px,#ff904c 367.5px,#ff8646 418.5px,#ffae5e 451.5px)"></div><div style="top:302px;background:linear-gradient(90deg,#2488f5 0.5px,#01b5eb 37.5px,#37e6d8 92.5px,#6afdc0 143.5px,#9bfba4 193.5px,#d0e083 249.5px,#ffb361 309.5px,#ff914c 368.5px,#ff8847 419.5px,#ffae5e 451.5px)"></div><div style="top:303px;background:linear-gradient(90deg,#2587f5 0.5px,#01b5eb 38.5px,#37e6d8 93.5px,#6afdc0 144.5px,#9bfba5 194.5px,#d0e083 250.5px,#ffb260 311.5px,#ff924c 370.5px,#ff8947 420.5px,#ffae5e 451.5px)"></div><div style="top:304px;background:linear-gradient(90deg,#2686f5 0.5px,#01b5eb 39.5px,#37e6d8 94.5px,#6afdc0 145.5px,#9bfba5 195.5px,#d0e183 251.5px,#ffb361 312.5px,#ff934d 371.5px,#ff8a48 421.5px,#ffae5e 451.5px)"></div><div style="top:305px;background:linear-gradient(90deg,#2784f6 0.5px,#01b5eb 40.5px,#37e6d8 95.5px,#6afdc0 146.5px,#9bfba5 196.5px,#d0e183 252.5px,#ffb361 314.5px,#ff944e 372.5px,#ff8b49 422.5px,#ffae5e 451.5px)"></div><div style="top:306px;background:linear-gradient(90deg,#2883f6 0.5px,#02b6eb 42.5px,#38e7d7 97.5px,#6bfdc0 148.5px,#9cfba4 198.5px,#d0e082 254.5px,#ffb361 315.5px,#ff954e 374.5px,#ff8e4a 424.5px,#ffae5e 451.5px)"></div><div style="top:307px;background:linear-gradient(90deg,#2981f6 0.5px,#02b6eb 43.5px,#38e7d7 98.5px,#6afdc0 149.5px,#9bfba4 199.5px,#d1e082 256.5px,#ffb361 317.5px,#ff954f 376.5px,#ff8f4b 425.5px,#ffae5e 451.5px)"></div><div style="top:308px;background:linear-gradient(90deg,#2a80f6 0.5px,#01b6eb 44.5px,#38e7d7 99.5px,#6afdc0 150.5px,#9bfba4 200.5px,#d1e082 257.5px,#ffb361 318.5px,#ff964f 377.5px,#ff914c 426.5px,#ffae5e 451.5px)"></div><div style="top:309px;background:linear-gradient(90deg,#2b7ef6 0.5px,#01b6eb 45.5px,#38e7d7 100.5px,#6afdc0 151.5px,#9bfba4 201.5px,#d1e082 258.5px,#ffb361 320.5px,#ff9750 379.5px,#ff924c 427.5px,#ffae5e 451.5px)"></div><div style="top:310px;background:linear-gradient(90deg,#2c7df7 0.5px,#01b6eb 46.5px,#38e7d7 101.5px,#6afdc0 152.5px,#9bfba4 202.5px,#d0e082 259.5px,#ffb361 322.5px,#ff9850 381.5px,#ff934d 428.5px,#ffae5e 451.5px)"></div><div style="top:311px;background:linear-gradient(90deg,#2d7cf7 0.5px,#01b6eb 47.5px,#38e6d7 102.5px,#6afdc0 153.5px,#9cfba4 204.5px,#d2df81 262.5px,#ffb461 323.5px,#ff9951 382.5px,#ff944e 429.5px,#ffae5e 451.5px)"></div><div style="top:312px;background:linear-gradient(90deg,#2e7af7 0.5px,#01b6eb 48.5px,#38e6d7 103.5px,#6afdc0 154.5px,#9cfba4 205.5px,#d2df81 263.5px,#ffb461 325.5px,#ff9a51 384.5px,#ff954f 430.5px,#ffae5e 451.5px)"></div><div style="top:313px;background:linear-gradient(90deg,#2f79f7 0.5px,#01b6eb 49.5px,#38e6d8 104.5px,#6afdc0 155.5px,#9cfba4 206.5px,#d2df81 264.5px,#ffb461 327.5px,#ff9b52 387.5px,#ff974f 431.5px,#ffae5e 451.5px)"></div><div style="top:314px;background:linear-gradient(90deg,#3177f7 0.5px,#01b5eb 50.5px,#38e6d8 105.5px,#6afdc0 156.5px,#9cfba4 207.5px,#d1df82 265.5px,#ffb461 328.5px,#ff9c52 388.5px,#ff9850 432.5px,#ffae5e 451.5px)"></div><div style="top:315px;background:linear-gradient(90deg,#3276f8 0.5px,#01b5eb 51.5px,#37e6d8 106.5px,#6afdc0 157.5px,#9cfba4 208.5px,#d2df81 267.5px,#ffb461 330.5px,#ff9c53 391.5px,#ff9951 433.5px,#ffae5e 451.5px)"></div><div style="top:316px;background:linear-gradient(90deg,#3374f8 0.5px,#01b5eb 52.5px,#37e6d8 107.5px,#6afdc0 158.5px,#9cfba4 209.5px,#d2df81 268.5px,#ffb461 332.5px,#ff9d53 393.5px,#ff9a51 434.5px,#ffae5e 451.5px)"></div><div style="top:317px;background:linear-gradient(90deg,#3473f8 0.5px,#01b5eb 53.5px,#37e6d8 108.5px,#6afdc0 159.5px,#9bfba4 210.5px,#d2df81 269.5px,#ffb562 333.5px,#ff9e54 394.5px,#ff9c52 435.5px,#ffae5e 451.5px)"></div><div style="top:318px;background:linear-gradient(90deg,#3571f8 0.5px,#01b5eb 54.5px,#37e6d8 109.5px,#6afdc0 160.5px,#9bfba4 211.5px,#d2df81 270.5px,#ffb562 335.5px,#ff9f54 397.5px,#ff9d53 436.5px,#ffae5e 451.5px)"></div><div style="top:319px;background:linear-gradient(90deg,#3670f8 0.5px,#01b5eb 55.5px,#37e6d8 110.5px,#6afdc0 161.5px,#9bfba4 212.5px,#d2df81 272.5px,#feb562 336.5px,#ffa055 399.5px,#ff9e54 437.5px,#ffae5e 451.5px)"></div><div style="top:320px;background:linear-gradient(90deg,#376ef9 0.5px,#01b5eb 56.5px,#37e6d8 111.5px,#6afdc0 162.5px,#9bfba4 213.5px,#d2df81 273.5px,#fdb663 337.5px,#ffa156 400.5px,#ff9f54 438.5px,#ffae5e 451.5px)"></div><div style="top:321px;background:linear-gradient(90deg,#386df9 0.5px,#01b5eb 57.5px,#37e6d8 112.5px,#69fdc0 163.5px,#9bfba4 214.5px,#d2df81 274.5px,#fdb763 338.5px,#ffa256 402.5px,#ffa055 439.5px,#ffae5e 451.5px)"></div><div style="top:322px;background:linear-gradient(90deg,#396bf9 0.5px,#01b6eb 59.5px,#38e7d7 114.5px,#6afdc0 165.5px,#9cfba4 216.5px,#d3de80 277.5px,#fdb763 340.5px,#ffa357 404.5px,#ffa356 441.5px,#ffae5e 451.5px)"></div><div style="top:323px;background:linear-gradient(90deg,#3a6af9 0.5px,#01b6eb 60.5px,#38e7d7 115.5px,#6afdc0 166.5px,#9cfba4 217.5px,#d3de81 278.5px,#fcb864 341.5px,#ffa457 406.5px,#ffa457 442.5px,#ffae5e 451.5px)"></div><div style="top:324px;background:linear-gradient(90deg,#3b68f9 0.5px,#01b6eb 61.5px,#38e7d7 116.5px,#6afdc0 167.5px,#9cfba4 218.5px,#d4de80 280.5px,#fbb864 342.5px,#ffa658 403.5px,#ffa558 443.5px,#ffae5e 451.5px)"></div><div style="top:325px;background:linear-gradient(90deg,#3c67fa 0.5px,#01b6eb 62.5px,#38e7d7 117.5px,#6afdc0 168.5px,#9cfba4 219.5px,#d3de80 281.5px,#fbb965 343.5px,#ffab5c 382.5px,#ffa558 443.5px,#ffae5e 451.5px)"></div><div style="top:326px;background:linear-gradient(90deg,#3d65fa 0.5px,#01b6eb 63.5px,#38e6d7 118.5px,#6afdc0 169.5px,#9cfba4 220.5px,#d4dd80 283.5px,#fbb965 345.5px,#ffac5c 382.5px,#ffa659 444.5px,#ffae5e 451.5px)"></div><div style="top:327px;background:linear-gradient(90deg,#3e64fa 0.5px,#01b6eb 64.5px,#38e6d7 119.5px,#6afdc0 170.5px,#9bfba4 221.5px,#d4de80 284.5px,#faba65 345.5px,#ffaf5e 378.5px,#ffa759 445.5px,#ffae5e 451.5px)"></div><div style="top:328px;background:linear-gradient(90deg,#3f62fa 0.5px,#01b6eb 65.5px,#38e6d8 120.5px,#6afdc0 171.5px,#9bfba4 222.5px,#d3de80 285.5px,#f9bb66 346.5px,#ffaf5e 379.5px,#ffa95a 446.5px,#ffae5e 451.5px)"></div><div style="top:329px;background:linear-gradient(90deg,#4061fa 0.5px,#01b5eb 66.5px,#38e6d8 121.5px,#6afdc0 172.5px,#9bfba4 223.5px,#d4dd80 287.5px,#f9bb66 348.5px,#ffb05f 383.5px,#ffab5c 448.5px,#ffae5e 451.5px)"></div><div style="top:330px;background:linear-gradient(90deg,#415ffa 0.5px,#01b5eb 67.5px,#37e6d8 122.5px,#6afdc0 173.5px,#9bfba4 224.5px,#d4de80 288.5px,#f8bc67 349.5px,#ffb05f 386.5px,#ffac5c 449.5px,#ffae5e 451.5px)"></div><div style="top:331px;background:linear-gradient(90deg,#435efb 0.5px,#00b4ec 67.5px,#36e6d8 122.5px,#69fcc1 173.5px,#9afca5 224.5px,#d2de81 288.5px,#f7bd67 349.5px,#ffb15f 389.5px,#ffad5d 450.5px,#ffae5e 451.5px)"></div><div style="top:332px;background:linear-gradient(90deg,#445cfb 0.5px,#01b3ec 67.5px,#35e5d8 122.5px,#68fcc1 173.5px,#99fca6 224.5px,#d1df82 288.5px,#f6be68 349.5px,#ffb160 393.5px,#ffae5e 451.5px)"></div><div style="top:333px;background:linear-gradient(90deg,#455afb 0.5px,#01b3ec 68.5px,#35e5d8 123.5px,#68fcc1 174.5px,#99fca6 225.5px,#d1df82 289.5px,#f5bf69 349.5px,#ffb260 398.5px,#ffae5e 451.5px)"></div><div style="top:334px;background:linear-gradient(90deg,#4659fb 0.5px,#02b2ec 68.5px,#06baea 76.5px,#3be9d6 130.5px,#6dfdbe 181.5px,#9ffaa2 233.5px,#ded579 308.5px,#faba65 367.5px,#ffb05f 422.5px,#ffae5e 451.5px)"></div><div style="top:335px;background:linear-gradient(90deg,#4757fb 0.5px,#03b1ed 68.5px,#03b7eb 74.5px,#39e7d7 129.5px,#6bfdbf 180.5px,#9cfba4 231.5px,#d8da7d 301.5px,#f7bd68 360.5px,#ffb260 416.5px,#ffaf5e 451.5px)"></div><div style="top:336px;background:linear-gradient(90deg,#4856fb 0.5px,#03b0ed 69.5px,#03b7eb 75.5px,#39e7d7 130.5px,#6bfdbf 181.5px,#9cfba4 232.5px,#d8da7d 303.5px,#f6be68 362.5px,#ffb260 425.5px,#ffb15f 451.5px)"></div><div style="top:337px;background:linear-gradient(90deg,#4954fb 0.5px,#04afed 69.5px,#02b7eb 76.5px,#39e7d7 131.5px,#6bfdbf 182.5px,#9cfba4 233.5px,#d9da7d 305.5px,#f6be68 364.5px,#ffb360 435.5px,#ffb260 451.5px)"></div><div style="top:338px;background:linear-gradient(90deg,#4a53fc 0.5px,#06aeed 69.5px,#01b6eb 76.5px,#38e7d7 131.5px,#6afdc0 182.5px,#9bfba4 233.5px,#d8da7d 305.5px,#f5bf69 364.5px,#ffb361 443.5px,#ffb361 451.5px)"></div><div style="top:339px;background:linear-gradient(90deg,#4b51fc 0.5px,#06aeed 70.5px,#02b7eb 78.5px,#39e7d7 133.5px,#6bfdbf 184.5px,#9dfba3 236.5px,#dcd67a 314.5px,#f7bd68 374.5px,#ffb462 451.5px)"></div><div style="top:340px;background:linear-gradient(90deg,#4c4ffc 0.5px,#07adee 70.5px,#01b6eb 78.5px,#38e6d7 133.5px,#6afdc0 184.5px,#9cfba4 236.5px,#dbd87b 313.5px,#f5bf69 373.5px,#feb562 451.5px)"></div><div style="top:341px;background:linear-gradient(90deg,#4d4efc 0.5px,#08acee 70.5px,#01b6eb 79.5px,#38e6d7 134.5px,#6afdc0 185.5px,#9cfba4 237.5px,#dbd87b 315.5px,#f5bf69 375.5px,#fdb763 451.5px)"></div><div style="top:342px;background:linear-gradient(90deg,#4e4cfc 0.5px,#08abee 71.5px,#01b6eb 80.5px,#38e6d8 135.5px,#6afdc0 186.5px,#9cfba4 238.5px,#dad87c 315.5px,#f4c16a 375.5px,#fcb864 451.5px)"></div><div style="top:343px;background:linear-gradient(90deg,#4f4bfc 0.5px,#09aaee 71.5px,#01b6eb 81.5px,#38e6d8 136.5px,#6afdc0 187.5px,#9bfba4 239.5px,#dad97c 316.5px,#f3c16a 376.5px,#fbb965 451.5px)"></div><div style="top:344px;background:linear-gradient(90deg,#5049fc 0.5px,#0aa9ee 71.5px,#01b5eb 82.5px,#37e6d8 137.5px,#6afdc0 188.5px,#9bfba4 240.5px,#d8da7d 316.5px,#f2c26b 376.5px,#faba65 451.5px)"></div><div style="top:345px;background:linear-gradient(90deg,#5148fc 0.5px,#0aa9ee 72.5px,#01b5eb 83.5px,#37e6d8 138.5px,#69fdc0 189.5px,#9bfba4 241.5px,#d8da7d 317.5px,#f1c36c 377.5px,#f9bb66 451.5px)"></div><div style="top:346px;background:linear-gradient(90deg,#5246fd 0.5px,#0ba8ef 72.5px,#01b5eb 84.5px,#37e6d8 139.5px,#69fdc0 190.5px,#9bfba4 242.5px,#d8da7d 318.5px,#f0c46c 378.5px,#f8bc67 451.5px)"></div><div style="top:347px;background:linear-gradient(90deg,#5344fd 0.5px,#0ca6ef 72.5px,#01b5eb 85.5px,#37e6d8 140.5px,#69fdc0 191.5px,#9bfba4 243.5px,#d7db7e 318.5px,#efc56d 378.5px,#f7bd68 451.5px)"></div><div style="top:348px;background:linear-gradient(90deg,#5543fd 0.5px,#0ca6ef 73.5px,#02b6eb 87.5px,#38e7d7 142.5px,#6afdc0 193.5px,#9cfba4 245.5px,#d6dc7e 319.5px,#eec66e 379.5px,#f6be68 451.5px)"></div><div style="top:349px;background:linear-gradient(90deg,#5641fd 0.5px,#0da5ef 73.5px,#02b6eb 88.5px,#38e7d7 143.5px,#6afdc0 194.5px,#9cfba4 246.5px,#d6dc7f 320.5px,#edc76e 380.5px,#f4c069 451.5px)"></div><div style="top:350px;background:linear-gradient(90deg,#573ffd 0.5px,#0ea4f0 73.5px,#02b6eb 89.5px,#38e7d7 144.5px,#6afdc0 195.5px,#9bfba4 247.5px,#d5dd7f 320.5px,#ecc86f 380.5px,#f3c16a 451.5px)"></div><div style="top:351px;background:linear-gradient(90deg,#583efd 0.5px,#0ea4f0 74.5px,#02b6eb 90.5px,#38e7d7 145.5px,#6afdc0 196.5px,#9bfba4 248.5px,#d4dd80 321.5px,#ecc96f 382.5px,#f2c26b 451.5px)"></div><div style="top:352px;background:linear-gradient(90deg,#593cfd 0.5px,#0fa2f0 74.5px,#01b6eb 91.5px,#38e7d7 146.5px,#6afdc0 197.5px,#9bfba4 249.5px,#d3de81 321.5px,#ebca70 382.5px,#f1c36b 451.5px)"></div><div style="top:353px;background:linear-gradient(90deg,#5a3bfd 0.5px,#0fa2f0 75.5px,#01b6eb 92.5px,#38e7d7 147.5px,#6afdc0 198.5px,#9bfba4 250.5px,#d3de81 322.5px,#eaca71 383.5px,#f0c46c 451.5px)"></div><div style="top:354px;background:linear-gradient(90deg,#5b39fd 0.5px,#11a1f0 75.5px,#01b6eb 93.5px,#38e6d7 148.5px,#6afdc0 199.5px,#9cfba4 252.5px,#d2df81 323.5px,#e9cb71 384.5px,#efc56d 451.5px)"></div><div style="top:355px;background:linear-gradient(90deg,#5c37fd 0.5px,#12a0f1 75.5px,#01b6eb 94.5px,#38e6d7 149.5px,#6afdc0 200.5px,#9bfba4 253.5px,#d2df81 324.5px,#e8cc72 385.5px,#eec66e 451.5px)"></div><div style="top:356px;background:linear-gradient(90deg,#5d36fe 0.5px,#12a0f1 76.5px,#01b6eb 95.5px,#38e6d8 150.5px,#6afdc0 201.5px,#9bfba4 254.5px,#d1e082 324.5px,#e7cd73 385.5px,#edc76e 451.5px)"></div><div style="top:357px;background:linear-gradient(90deg,#5e34fe 0.5px,#139ef1 76.5px,#01b6eb 96.5px,#38e6d8 151.5px,#69fdc0 202.5px,#9bfba4 255.5px,#d0e083 325.5px,#e6ce73 387.5px,#ecc86f 451.5px)"></div><div style="top:358px;background:linear-gradient(90deg,#5f33fe 0.5px,#139ef1 77.5px,#01b5eb 97.5px,#37e6d8 152.5px,#69fdc0 203.5px,#9bfba4 256.5px,#d0e183 326.5px,#e5ce74 388.5px,#ebc970 451.5px)"></div><div style="top:359px;background:linear-gradient(90deg,#6031fe 0.5px,#149df1 77.5px,#01b5eb 98.5px,#37e6d8 153.5px,#69fdc0 204.5px,#9bfba5 257.5px,#cee184 326.5px,#e4cf75 388.5px,#eaca71 451.5px)"></div><div style="top:360px;background:linear-gradient(90deg,#612ffe 0.5px,#149df1 78.5px,#01b5eb 99.5px,#37e6d8 154.5px,#69fdc0 205.5px,#9bfba5 258.5px,#cee284 327.5px,#e3d075 389.5px,#e9cb71 451.5px)"></div><div style="top:361px;background:linear-gradient(90deg,#622efe 0.5px,#159cf1 78.5px,#01b5eb 100.5px,#37e6d8 155.5px,#69fdc0 206.5px,#9afba5 259.5px,#cde385 327.5px,#e2d176 389.5px,#e8cc72 451.5px)"></div><div style="top:362px;background:linear-gradient(90deg,#632cfe 0.5px,#169af2 78.5px,#01b5eb 101.5px,#37e6d8 156.5px,#69fdc0 207.5px,#9afca5 260.5px,#cce385 328.5px,#e1d277 390.5px,#e7cd73 451.5px)"></div><div style="top:363px;background:linear-gradient(90deg,#642afe 0.5px,#169af2 79.5px,#01b5eb 102.5px,#37e6d8 157.5px,#69fdc0 208.5px,#9afca5 261.5px,#cce385 329.5px,#e1d377 392.5px,#e6ce74 451.5px)"></div><div style="top:364px;background:linear-gradient(90deg,#6529fe 0.5px,#1799f2 79.5px,#01b5eb 103.5px,#37e6d8 158.5px,#69fdc0 209.5px,#9afca5 262.5px,#cbe486 329.5px,#e0d478 392.5px,#e5cf74 451.5px)"></div><div style="top:365px;background:linear-gradient(90deg,#6727fe 0.5px,#1799f2 80.5px,#02b6eb 105.5px,#38e7d7 160.5px,#6afdc0 211.5px,#9cfba4 265.5px,#cbe486 331.5px,#dfd478 394.5px,#e4d075 451.5px)"></div><div style="top:366px;background:linear-gradient(90deg,#6825fe 0.5px,#1897f2 80.5px,#01b6eb 106.5px,#38e7d7 161.5px,#6afdc0 212.5px,#9bfba4 266.5px,#cae486 332.5px,#ded579 396.5px,#e3d176 451.5px)"></div><div style="top:367px;background:linear-gradient(90deg,#6924fe 0.5px,#1897f2 81.5px,#01b6eb 107.5px,#38e6d7 162.5px,#69fdc0 213.5px,#9bfba4 267.5px,#cae587 333.5px,#ddd679 397.5px,#e1d277 451.5px)"></div><div style="top:368px;background:linear-gradient(90deg,#6a22fe 0.5px,#1996f2 81.5px,#01b6eb 108.5px,#38e6d7 163.5px,#69fdc0 214.5px,#9bfba4 268.5px,#c9e687 333.5px,#dcd77a 397.5px,#e0d377 451.5px)"></div><div style="top:369px;background:linear-gradient(90deg,#6b20fe 0.5px,#1996f3 82.5px,#01b6eb 109.5px,#38e6d8 164.5px,#69fdc0 215.5px,#9bfba5 269.5px,#c8e688 334.5px,#dbd77b 399.5px,#dfd478 451.5px)"></div><div style="top:370px;background:linear-gradient(90deg,#6c1fff 0.5px,#1b95f3 82.5px,#01b6eb 110.5px,#38e6d8 165.5px,#69fdc0 216.5px,#9bfba5 270.5px,#c8e688 335.5px,#dbd87b 400.5px,#ded579 451.5px)"></div><div style="top:371px;background:linear-gradient(90deg,#6d1dff 0.5px,#1b95f3 83.5px,#01b6eb 111.5px,#37e6d8 166.5px,#69fdc0 217.5px,#9afca5 271.5px,#c6e789 335.5px,#d9d97c 400.5px,#ddd67a 451.5px)"></div><div style="top:372px;background:linear-gradient(90deg,#6e1cff 0.5px,#1c93f3 83.5px,#01b6eb 112.5px,#37e6d8 167.5px,#69fdc0 218.5px,#9bfba4 273.5px,#c6e789 337.5px,#d9d97d 403.5px,#dcd77a 451.5px)"></div><div style="top:373px;background:linear-gradient(90deg,#6f1aff 0.5px,#1c93f3 84.5px,#01b5eb 113.5px,#37e6d8 168.5px,#69fdc0 219.5px,#9bfba5 274.5px,#c6e789 338.5px,#d8da7d 404.5px,#dbd77b 451.5px)"></div><div style="top:374px;background:linear-gradient(90deg,#7018ff 0.5px,#1d92f3 84.5px,#01b5eb 114.5px,#37e6d8 169.5px,#69fcc1 220.5px,#9afba5 275.5px,#c5e88a 338.5px,#d7db7e 404.5px,#dad87c 451.5px)"></div><div style="top:375px;background:linear-gradient(90deg,#7117ff 0.5px,#1d92f3 85.5px,#01b5eb 115.5px,#37e6d8 170.5px,#69fcc1 221.5px,#9afca5 276.5px,#c4e98a 339.5px,#d6dc7e 406.5px,#d9d97c 451.5px)"></div><div style="top:376px;background:linear-gradient(90deg,#7215ff 0.5px,#1e90f4 85.5px,#01b5eb 116.5px,#37e6d8 171.5px,#69fcc1 222.5px,#9afca5 277.5px,#c4e98b 340.5px,#d5dc7f 407.5px,#d8da7d 451.5px)"></div><div style="top:377px;background:linear-gradient(90deg,#7313ff 0.5px,#1e90f4 86.5px,#01b5eb 117.5px,#37e6d8 172.5px,#68fcc1 223.5px,#9afca5 278.5px,#c3e98b 341.5px,#d4dd80 409.5px,#d7db7e 451.5px)"></div><div style="top:378px;background:linear-gradient(90deg,#7412ff 0.5px,#1e90f4 87.5px,#01b5eb 118.5px,#37e6d8 173.5px,#68fcc1 224.5px,#9afca5 279.5px,#c2ea8c 341.5px,#d3de80 409.5px,#d6dc7f 451.5px)"></div><div style="top:379px;background:linear-gradient(90deg,#7510ff 0.5px,#1f8ff4 87.5px,#01b5eb 119.5px,#37e6d8 174.5px,#68fcc1 225.5px,#9afca5 281.5px,#c2ea8c 343.5px,#d2de81 412.5px,#d5dd7f 451.5px)"></div><div style="top:380px;background:linear-gradient(90deg,#760eff 0.5px,#1f8ff4 88.5px,#02b6eb 121.5px,#38e6d7 176.5px,#69fdc0 227.5px,#9bfba5 283.5px,#c2ea8c 345.5px,#d2df81 415.5px,#d4dd80 451.5px)"></div><div style="top:381px;background:linear-gradient(90deg,#770dff 0.5px,#208df4 88.5px,#01b6eb 122.5px,#38e6d7 177.5px,#69fdc0 228.5px,#9afca5 284.5px,#c0eb8d 345.5px,#d1e082 415.5px,#d3de81 451.5px)"></div><div style="top:382px;background:linear-gradient(90deg,#790bff 0.5px,#208df4 89.5px,#01b6eb 123.5px,#38e6d8 178.5px,#69fdc0 229.5px,#9afca5 285.5px,#c0eb8d 346.5px,#d0e183 417.5px,#d2df81 451.5px)"></div><div style="top:383px;background:linear-gradient(90deg,#7a09ff 0.5px,#218cf4 89.5px,#01b6eb 124.5px,#38e6d8 179.5px,#69fcc1 230.5px,#9bfba5 287.5px,#c0eb8d 348.5px,#cfe183 420.5px,#d1e082 451.5px)"></div><div style="top:384px;background:linear-gradient(90deg,#7b08ff 0.5px,#218cf4 90.5px,#01b6eb 125.5px,#37e6d8 180.5px,#69fcc1 231.5px,#9afca5 288.5px,#bfec8e 349.5px,#cee284 422.5px,#cfe183 451.5px)"></div><div style="top:385px;background:linear-gradient(90deg,#7c06ff 0.5px,#218cf4 91.5px,#01b6eb 126.5px,#37e6d8 181.5px,#68fcc1 232.5px,#9afca5 289.5px,#beec8f 349.5px,#cde385 422.5px,#cee184 451.5px)"></div><div style="top:386px;background:linear-gradient(90deg,#7d04ff 0.5px,#238af5 91.5px,#01b6eb 127.5px,#37e6d8 182.5px,#68fcc1 233.5px,#9afca5 290.5px,#bded8f 350.5px,#cce385 424.5px,#cde284 451.5px)"></div><div style="top:387px;background:linear-gradient(90deg,#7e03ff 0.5px,#238af5 92.5px,#01b5eb 128.5px,#37e6d8 183.5px,#68fcc1 234.5px,#9afca5 291.5px,#bded8f 351.5px,#cbe486 426.5px,#cce385 451.5px)"></div><div style="top:388px;background:linear-gradient(90deg,#7f01ff 0.5px,#238af5 93.5px,#01b5eb 129.5px,#37e6d8 184.5px,#68fcc1 235.5px,#9afca5 293.5px,#bced90 353.5px,#cae486 430.5px,#cbe486 451.5px)"></div><div style="top:389px;background:linear-gradient(90deg,#fff 0.3px,#8000ff 1.5px,#218df4 96.5px,#01b5eb 130.5px,#37e6d8 185.5px,#68fcc1 236.5px,#9afca5 294.5px,#bcee90 354.5px,#c9e587 432.5px,#cae586 451.5px)"></div><div style="top:390px;background:linear-gradient(90deg,#fff 1.4px,#8000ff 2.6px,#208ef4 98.5px,#01b5eb 131.5px,#37e6d8 186.5px,#68fcc1 237.5px,#99fca5 295.5px,#bbee91 355.5px,#c8e688 433.5px,#c9e587 451.5px)"></div><div style="top:391px;background:linear-gradient(90deg,#fff 2.5px,#8000ff 3.7px,#208ef4 99.5px,#01b5eb 132.5px,#37e6d8 187.5px,#69fcc1 239.5px,#9bfba5 298.5px,#baee91 357.5px,#c8e688 438.5px,#c8e688 451.5px)"></div><div style="top:392px;background:linear-gradient(90deg,#fff 3.5px,#8000ff 4.7px,#208ef4 100.5px,#01b5eb 133.5px,#37e6d8 188.5px,#68fcc1 240.5px,#9afca5 299.5px,#baef91 358.5px,#c7e789 440.5px,#c7e789 451.5px)"></div><div style="top:393px;background:linear-gradient(90deg,#fff 4.6px,#8000ff 5.8px,#1f8ff4 102.5px,#01b5eb 134.5px,#37e6d8 189.5px,#68fcc1 241.5px,#9afca5 300.5px,#b9ef92 359.5px,#c6e889 442.5px,#c6e789 451.5px)"></div><div style="top:394px;background:linear-gradient(90deg,#fff 5.7px,#8000ff 6.9px,#1f8ff4 103.5px,#02b6eb 136.5px,#38e6d8 191.5px,#69fdc0 243.5px,#9bfba4 303.5px,#b9ef92 362.5px,#c5e88a 448.5px,#c5e88a 451.5px)"></div><div style="top:395px;background:linear-gradient(90deg,#fff 6.7px,#8000ff 7.9px,#1e90f4 105.5px,#01b6eb 137.5px,#37e6d8 192.5px,#69fdc0 244.5px,#9bfba5 304.5px,#b8f092 363.5px,#c4e98b 451.5px)"></div><div style="top:396px;background:linear-gradient(90deg,#fff 7.8px,#8000ff 9.0px,#1e90f4 106.5px,#01b6eb 138.5px,#37e6d8 193.5px,#69fdc0 245.5px,#9bfba4 306.5px,#b8f093 365.5px,#c3e98b 451.5px)"></div><div style="top:397px;background:linear-gradient(90deg,#fff 8.9px,#8000ff 10.1px,#1d91f3 108.5px,#01b6eb 139.5px,#37e6d8 194.5px,#69fcc1 246.5px,#9bfba5 307.5px,#b7f093 366.5px,#c2ea8c 451.5px)"></div><div style="top:398px;background:linear-gradient(90deg,#fff 9.9px,#8000ff 11.1px,#2389f5 103.5px,#01b6eb 140.5px,#37e6d8 195.5px,#69fcc1 247.5px,#9afca5 308.5px,#b6f194 367.5px,#c1eb8d 451.5px)"></div><div style="top:399px;background:linear-gradient(90deg,#fff 11.0px,#8000ff 12.2px,#228af5 105.5px,#01b6eb 141.5px,#37e6d8 196.5px,#68fcc1 248.5px,#9afca5 310.5px,#b6f194 369.5px,#c0eb8d 451.5px)"></div><div style="top:400px;background:linear-gradient(90deg,#fff 12.1px,#8000ff 13.3px,#228af5 106.5px,#01b6eb 142.5px,#37e6d8 197.5px,#68fcc1 249.5px,#9afca5 311.5px,#b5f194 370.5px,#bfec8e 451.5px)"></div><div style="top:401px;background:linear-gradient(90deg,#fff 13.1px,#8000ff 14.3px,#228bf4 108.5px,#01b5eb 143.5px,#37e6d8 198.5px,#68fcc1 250.5px,#9afca5 312.5px,#b4f295 371.5px,#bded8f 451.5px)"></div><div style="top:402px;background:linear-gradient(90deg,#fff 14.2px,#8000ff 15.4px,#228bf4 109.5px,#01b5eb 144.5px,#37e6d8 199.5px,#68fcc1 251.5px,#9afca5 314.5px,#b4f295 374.5px,#bced90 451.5px)"></div><div style="top:403px;background:linear-gradient(90deg,#fff 15.3px,#8000ff 16.5px,#218df4 111.5px,#01b5eb 145.5px,#37e6d8 200.5px,#68fcc1 252.5px,#99fca5 315.5px,#b3f296 375.5px,#bbee90 451.5px)"></div><div style="top:404px;background:linear-gradient(90deg,#fff 16.3px,#8000ff 17.5px,#218cf4 112.5px,#01b5eb 146.5px,#37e6d8 201.5px,#68fcc1 253.5px,#9afca5 317.5px,#b2f396 377.5px,#baee91 451.5px)"></div><div style="top:405px;background:linear-gradient(90deg,#fff 17.4px,#8000ff 18.6px,#208ef4 114.5px,#01b5eb 147.5px,#37e6d8 202.5px,#67fcc1 254.5px,#99fca6 318.5px,#b2f396 378.5px,#b9ef92 451.5px)"></div><div style="top:406px;background:linear-gradient(90deg,#fff 18.5px,#8000ff 19.7px,#208ef4 115.5px,#01b5eb 148.5px,#37e6d8 203.5px,#67fcc1 255.5px,#99fca5 320.5px,#b1f397 380.5px,#b8f092 451.5px)"></div><div style="top:407px;background:linear-gradient(90deg,#fff 19.5px,#8000ff 20.7px,#208ef4 116.5px,#01b5eb 149.5px,#36e6d8 204.5px,#67fcc1 256.5px,#99fca6 321.5px,#b0f497 382.5px,#b7f093 451.5px)"></div><div style="top:408px;background:linear-gradient(90deg,#fff 20.6px,#8000ff 21.8px,#1f8ff4 118.5px,#02b6eb 151.5px,#37e6d8 206.5px,#68fcc1 258.5px,#99fca5 324.5px,#b0f498 385.5px,#b6f194 451.5px)"></div><div style="top:409px;background:linear-gradient(90deg,#fff 21.7px,#8000ff 22.9px,#1f8ff4 119.5px,#01b6eb 152.5px,#37e6d8 207.5px,#68fcc1 259.5px,#9afca5 326.5px,#aff498 388.5px,#b5f194 451.5px)"></div><div style="top:410px;background:linear-gradient(90deg,#fff 22.7px,#8000ff 23.9px,#1e90f4 121.5px,#01b6eb 153.5px,#37e6d8 208.5px,#68fcc1 260.5px,#9afca5 328.5px,#aff498 390.5px,#b4f295 451.5px)"></div><div style="top:411px;background:linear-gradient(90deg,#fff 23.8px,#8000ff 25.0px,#1e90f4 122.5px,#01b6eb 154.5px,#37e6d8 209.5px,#67fcc1 261.5px,#99fca6 329.5px,#aef599 392.5px,#b3f296 451.5px)"></div><div style="top:412px;background:linear-gradient(90deg,#fff 24.9px,#8000ff 26.1px,#1e90f4 123.5px,#01b6eb 155.5px,#37e6d8 210.5px,#67fcc1 262.5px,#98fca6 329.5px,#adf599 392.5px,#b2f396 451.5px)"></div><div style="top:413px;background:linear-gradient(90deg,#fff 25.9px,#8000ff 27.1px,#2389f5 119.5px,#01b6eb 156.5px,#37e6d8 211.5px,#67fcc1 263.5px,#97fca7 330.5px,#acf59a 393.5px,#b1f397 451.5px)"></div><div style="top:414px;background:linear-gradient(90deg,#fff 27.0px,#8000ff 28.2px,#228af5 121.5px,#01b6eb 157.5px,#37e6d8 212.5px,#67fcc2 264.5px,#97fca7 331.5px,#abf69b 394.5px,#b0f498 451.5px)"></div><div style="top:415px;background:linear-gradient(90deg,#fff 28.1px,#8000ff 29.3px,#238af5 122.5px,#01b5eb 158.5px,#37e6d8 213.5px,#67fcc2 265.5px,#96fda7 331.5px,#aaf69b 394.5px,#aff498 451.5px)"></div><div style="top:416px;background:linear-gradient(90deg,#fff 29.1px,#8000ff 30.3px,#228bf4 124.5px,#01b5eb 159.5px,#37e6d8 214.5px,#66fcc2 266.5px,#95fda8 332.5px,#a9f79c 396.5px,#aef599 451.5px)"></div><div style="top:417px;background:linear-gradient(90deg,#fff 30.2px,#8000ff 31.4px,#228bf4 125.5px,#01b5eb 160.5px,#36e6d8 215.5px,#66fcc2 267.5px,#95fda8 333.5px,#a8f79c 397.5px,#adf59a 451.5px)"></div><div style="top:418px;background:linear-gradient(90deg,#fff 31.3px,#8000ff 32.5px,#218df4 127.5px,#01b5eb 161.5px,#36e6d8 216.5px,#66fcc2 268.5px,#94fda9 333.5px,#a7f79d 397.5px,#abf69a 451.5px)"></div><div style="top:419px;background:linear-gradient(90deg,#fff 32.3px,#8000ff 33.5px,#218cf4 128.5px,#01b5eb 162.5px,#36e5d8 217.5px,#66fcc2 269.5px,#93fda9 334.5px,#a7f89d 399.5px,#aaf69b 451.5px)"></div><div style="top:420px;background:linear-gradient(90deg,#fff 33.4px,#8000ff 34.6px,#218cf4 129.5px,#01b5eb 163.5px,#36e5d8 218.5px,#66fcc2 270.5px,#93fda9 335.5px,#a6f89e 400.5px,#a9f79c 451.5px)"></div><div style="top:421px;background:linear-gradient(90deg,#fff 34.5px,#8000ff 35.7px,#208ef4 131.5px,#02b6eb 165.5px,#36e5d8 219.5px,#65fcc2 271.5px,#92fdaa 335.5px,#a5f89f 400.5px,#a8f79c 451.5px)"></div><div style="top:422px;background:linear-gradient(90deg,#fff 35.5px,#8000ff 36.7px,#208df4 132.5px,#01b6eb 166.5px,#36e5d8 220.5px,#65fcc2 272.5px,#91feaa 336.5px,#a4f99f 401.5px,#a7f79d 451.5px)"></div><div style="top:423px;background:linear-gradient(90deg,#fff 36.6px,#8000ff 37.8px,#1f8ff4 134.5px,#01b6eb 167.5px,#36e5d8 221.5px,#66fcc2 274.5px,#91feaa 338.5px,#a3f9a0 404.5px,#a6f89e 451.5px)"></div><div style="top:424px;background:linear-gradient(90deg,#fff 37.7px,#8000ff 38.9px,#1f8ff4 135.5px,#01b6eb 168.5px,#36e5d8 222.5px,#66fcc2 275.5px,#90feab 338.5px,#a2f9a0 404.5px,#a5f89e 451.5px)"></div><div style="top:425px;background:linear-gradient(90deg,#fff 38.7px,#8000ff 39.9px,#1e90f4 137.5px,#01b6eb 169.5px,#36e5d8 223.5px,#65fcc2 276.5px,#8ffeab 339.5px,#a1faa1 406.5px,#a4f99f 451.5px)"></div><div style="top:426px;background:linear-gradient(90deg,#fff 39.8px,#8000ff 41.0px,#1e90f4 138.5px,#01b6eb 170.5px,#35e5d8 224.5px,#65fcc2 277.5px,#8ffeac 340.5px,#a0faa1 407.5px,#a3f9a0 451.5px)"></div><div style="top:427px;background:linear-gradient(90deg,#fff 40.9px,#8000ff 42.1px,#1e90f4 139.5px,#01b6eb 171.5px,#35e5d8 225.5px,#65fcc2 278.5px,#8efeac 341.5px,#9ffaa2 409.5px,#a2f9a0 451.5px)"></div><div style="top:428px;background:linear-gradient(90deg,#fff 42.0px,#8000ff 43.2px,#2389f5 135.5px,#01b5eb 172.5px,#35e5d8 226.5px,#65fcc3 279.5px,#8dfead 341.5px,#9efaa2 409.5px,#a1faa1 451.5px)"></div><div style="top:429px;background:linear-gradient(90deg,#fff 43.0px,#8000ff 44.2px,#238af5 137.5px,#01b5eb 173.5px,#35e5d9 227.5px,#64fbc3 280.5px,#8cfead 342.5px,#9dfba3 411.5px,#a0faa1 451.5px)"></div><div style="top:430px;background:linear-gradient(90deg,#fff 44.1px,#8000ff 45.3px,#238af5 138.5px,#01b5eb 174.5px,#35e5d9 228.5px,#64fbc3 281.5px,#8cfead 343.5px,#9cfba4 412.5px,#9ffaa2 451.5px)"></div><div style="top:431px;background:linear-gradient(90deg,#fff 45.2px,#8000ff 46.4px,#228bf4 140.5px,#01b5eb 175.5px,#35e5d9 229.5px,#64fbc3 282.5px,#8bfeae 344.5px,#9cfba4 414.5px,#9efba3 451.5px)"></div><div style="top:432px;background:linear-gradient(90deg,#fff 46.2px,#8000ff 47.4px,#228bf4 141.5px,#01b5eb 176.5px,#35e4d9 230.5px,#64fbc3 283.5px,#8afeae 345.5px,#9bfba5 415.5px,#9dfba3 451.5px)"></div><div style="top:433px;background:linear-gradient(90deg,#fff 47.3px,#8000ff 48.5px,#228bf4 142.5px,#01b5eb 177.5px,#35e4d9 231.5px,#63fbc3 284.5px,#89ffaf 345.5px,#9afca5 415.5px,#9cfba4 451.5px)"></div><div style="top:434px;background:linear-gradient(90deg,#fff 48.4px,#8000ff 49.6px,#218cf4 144.5px,#02b6eb 179.5px,#36e5d8 233.5px,#64fbc3 286.5px,#89ffaf 347.5px,#99fca6 419.5px,#9bfba5 451.5px)"></div><div style="top:435px;background:linear-gradient(90deg,#fff 49.4px,#8000ff 50.6px,#218cf4 145.5px,#01b6eb 180.5px,#35e5d8 234.5px,#64fbc3 287.5px,#89ffaf 348.5px,#98fca6 420.5px,#99fca5 451.5px)"></div><div style="top:436px;background:linear-gradient(90deg,#fff 50.5px,#8000ff 51.7px,#208df4 147.5px,#01b6eb 181.5px,#35e5d8 235.5px,#63fbc3 288.5px,#88ffb0 349.5px,#97fca7 422.5px,#98fca6 451.5px)"></div><div style="top:437px;background:linear-gradient(90deg,#fff 51.6px,#8000ff 52.8px,#208df4 148.5px,#01b6eb 182.5px,#35e5d9 236.5px,#63fbc3 289.5px,#87ffb0 349.5px,#96fda7 422.5px,#97fca7 451.5px)"></div><div style="top:438px;background:linear-gradient(90deg,#fff 52.6px,#8000ff 53.8px,#1f8ff4 150.5px,#01b6eb 183.5px,#35e5d9 237.5px,#63fbc4 290.5px,#86ffb1 350.5px,#95fda8 424.5px,#96fca7 451.5px)"></div><div style="top:439px;background:linear-gradient(90deg,#fff 53.7px,#8000ff 54.9px,#1f8ef4 151.5px,#01b6eb 184.5px,#35e5d9 238.5px,#63fbc4 291.5px,#85ffb1 351.5px,#94fda9 426.5px,#95fda8 451.5px)"></div><div style="top:440px;background:linear-gradient(90deg,#fff 54.8px,#8000ff 56.0px,#1f8ef4 152.5px,#01b5eb 185.5px,#35e4d9 239.5px,#62fbc4 292.5px,#85ffb1 352.5px,#93fda9 428.5px,#94fda8 451.5px)"></div><div style="top:441px;background:linear-gradient(90deg,#fff 55.8px,#8000ff 57.0px,#1e90f4 154.5px,#01b5eb 186.5px,#35e4d9 240.5px,#62fbc4 293.5px,#84ffb2 353.5px,#92fdaa 430.5px,#93fda9 451.5px)"></div><div style="top:442px;background:linear-gradient(90deg,#fff 56.9px,#8000ff 58.1px,#1f8ff4 155.5px,#01b5eb 187.5px,#34e4d9 241.5px,#62fbc4 295.5px,#84ffb2 355.5px,#91fdaa 433.5px,#92fdaa 451.5px)"></div><div style="top:443px;background:linear-gradient(90deg,#fff 58.0px,#8000ff 59.2px,#2489f5 151.5px,#01b5eb 188.5px,#34e4d9 242.5px,#62fbc4 296.5px,#83ffb2 356.5px,#90feab 436.5px,#91feaa 451.5px)"></div><div style="top:444px;background:linear-gradient(90deg,#fff 59.0px,#8000ff 60.2px,#2489f5 152.5px,#01b5eb 189.5px,#34e4d9 243.5px,#62fbc4 297.5px,#82ffb3 357.5px,#8ffeab 438.5px,#90feab 451.5px)"></div><div style="top:445px;background:linear-gradient(90deg,#fff 60.1px,#8000ff 61.3px,#238af5 154.5px,#01b5eb 190.5px,#34e4d9 244.5px,#61fbc4 298.5px,#81ffb3 357.5px,#8efeac 438.5px,#8ffeac 451.5px)"></div><div style="top:446px;background:linear-gradient(90deg,#fff 61.2px,#8000ff 62.4px,#238af5 155.5px,#02b6eb 192.5px,#35e5d9 246.5px,#62fbc4 300.5px,#81ffb4 359.5px,#8dfeac 442.5px,#8efeac 451.5px)"></div><div style="top:447px;background:linear-gradient(90deg,#fff 62.2px,#8000ff 63.4px,#228bf4 157.5px,#01b6eb 193.5px,#35e4d9 247.5px,#61fbc4 301.5px,#80ffb4 360.5px,#8dfead 444.5px,#8dfead 451.5px)"></div><div style="top:448px;background:linear-gradient(90deg,#fff 63.3px,#8000ff 64.5px,#228bf4 158.5px,#01b6eb 194.5px,#35e4d9 248.5px,#61fbc4 302.5px,#7fffb4 361.5px,#8cfeae 446.5px,#8cfead 451.5px)"></div><div style="top:449px;background:linear-gradient(90deg,#fff 64.4px,#8000ff 65.6px,#218cf4 160.5px,#01b6eb 195.5px,#34e4d9 249.5px,#61fac5 303.5px,#7fffb5 362.5px,#8bfeae 448.5px,#8bfeae 451.5px)"></div><div style="top:450px;background:linear-gradient(90deg,#fff 65.4px,#8000ff 66.6px,#218cf4 161.5px,#01b6eb 196.5px,#34e4d9 250.5px,#60fac5 304.5px,#7effb5 363.5px,#8affaf 451.5px)"></div><div style="top:451px;background:linear-gradient(90deg,#fff 66.5px,#8000ff 67.7px,#218cf4 162.5px,#01b6eb 197.5px,#34e4d9 251.5px,#60fac5 305.5px,#7dffb6 364.5px,#89ffaf 451.5px)"></div><div style="top:452px;background:linear-gradient(90deg,#fff 67.6px,#8000ff 68.8px,#208df4 164.5px,#01b5eb 198.5px,#34e4d9 252.5px,#60fac5 306.5px,#7cffb6 365.5px,#87ffb0 451.5px)"></div><div style="top:453px;background:linear-gradient(90deg,#fff 68.6px,#8000ff 69.8px,#208df4 165.5px,#01b5eb 199.5px,#34e4d9 253.5px,#5ffac5 307.5px,#7cffb6 366.5px,#86ffb0 451.5px)"></div><div style="top:454px;background:linear-gradient(90deg,#fff 69.7px,#8000ff 70.9px,#1f8ef4 167.5px,#01b5eb 200.5px,#34e4d9 254.5px,#5ffac6 308.5px,#7bffb7 367.5px,#85ffb1 451.5px)"></div><div style="top:455px;background:linear-gradient(90deg,#fff 70.8px,#8000ff 72.0px,#1f8ef4 168.5px,#01b5eb 201.5px,#33e4d9 255.5px,#5ffac5 310.5px,#7affb7 369.5px,#84ffb2 451.5px)"></div><div style="top:456px;background:linear-gradient(90deg,#fff 71.8px,#8000ff 73.0px,#208ef4 169.5px,#01b5eb 202.5px,#33e3d9 256.5px,#5ffac6 311.5px,#7affb8 370.5px,#83ffb2 451.5px)"></div><div style="top:457px;background:linear-gradient(90deg,#fff 72.9px,#8000ff 74.1px,#2588f5 165.5px,#02b6eb 204.5px,#34e4d9 258.5px,#5ffac5 313.5px,#79ffb8 373.5px,#82ffb3 451.5px)"></div><div style="top:458px;background:linear-gradient(90deg,#fff 74.0px,#8000ff 75.2px,#2489f5 167.5px,#01b6eb 205.5px,#34e4d9 259.5px,#5ffac6 314.5px,#79ffb8 374.5px,#81ffb3 451.5px)"></div><div style="top:459px;background:linear-gradient(90deg,#fff 75.0px,#8000ff 76.2px,#2489f5 168.5px,#01b6eb 206.5px,#34e4d9 260.5px,#5efac6 315.5px,#78ffb9 375.5px,#80ffb4 451.5px)"></div><div style="top:460px;background:linear-gradient(90deg,#fff 76.1px,#8000ff 77.3px,#238af5 170.5px,#01b6eb 207.5px,#33e4d9 261.5px,#5ef9c6 316.5px,#77ffb9 376.5px,#7fffb5 451.5px)"></div><div style="top:461px;background:linear-gradient(90deg,#fff 77.2px,#8000ff 78.4px,#238af5 171.5px,#01b6eb 208.5px,#33e3d9 262.5px,#5df9c6 317.5px,#76ffb9 377.5px,#7effb5 451.5px)"></div><div style="top:462px;background:linear-gradient(90deg,#fff 78.2px,#8000ff 79.4px,#238af5 172.5px,#01b5eb 209.5px,#33e3d9 263.5px,#5df9c7 318.5px,#75feba 378.5px,#7dffb6 451.5px)"></div><div style="top:463px;background:linear-gradient(90deg,#fff 79.3px,#8000ff 80.5px,#228bf5 174.5px,#01b5eb 210.5px,#33e3d9 264.5px,#5cf9c7 319.5px,#74feba 379.5px,#7cffb6 451.5px)"></div><div style="top:464px;background:linear-gradient(90deg,#fff 80.4px,#8000ff 81.6px,#228bf5 175.5px,#01b5eb 211.5px,#32e2da 264.5px,#5bf9c7 319.5px,#73febb 379.5px,#7bffb7 451.5px)"></div><div style="top:465px;background:linear-gradient(90deg,#fff 81.5px,#8000ff 82.7px,#218cf4 177.5px,#01b5eb 212.5px,#32e2da 265.5px,#5bf9c7 320.5px,#73febb 380.5px,#7affb7 451.5px)"></div><div style="top:466px;background:linear-gradient(90deg,#fff 82.5px,#8000ff 83.7px,#218cf4 178.5px,#01b5eb 213.5px,#31e2da 266.5px,#5af8c8 321.5px,#72febc 382.5px,#79ffb8 451.5px)"></div><div style="top:467px;background:linear-gradient(90deg,#fff 83.6px,#8000ff 84.8px,#218cf4 179.5px,#02b6eb 215.5px,#32e3da 268.5px,#5bf9c7 324.5px,#71febc 385.5px,#78ffb9 451.5px)"></div><div style="top:468px;background:linear-gradient(90deg,#fff 84.7px,#8000ff 85.9px,#218df4 181.5px,#01b6eb 216.5px,#32e2da 269.5px,#5bf8c8 325.5px,#71febc 387.5px,#77ffb9 451.5px)"></div><div style="top:469px;background:linear-gradient(90deg,#fff 85.7px,#8000ff 86.9px,#218df4 182.5px,#01b6eb 217.5px,#32e2da 270.5px,#5af8c8 326.5px,#70febd 388.5px,#75ffba 451.5px)"></div><div style="top:470px;background:linear-gradient(90deg,#fff 86.8px,#8000ff 88.0px,#208ef4 184.5px,#01b6eb 218.5px,#32e2da 271.5px,#5af8c8 327.5px,#6ffebd 389.5px,#74feba 451.5px)"></div><div style="top:471px;background:linear-gradient(90deg,#fff 87.9px,#8000ff 89.1px,#208ef4 185.5px,#01b6eb 219.5px,#31e2da 272.5px,#59f8c8 328.5px,#6efebe 390.5px,#73febb 451.5px)"></div><div style="top:472px;background:linear-gradient(90deg,#fff 88.9px,#8000ff 90.1px,#2587f5 181.5px,#01b5eb 220.5px,#31e2da 273.5px,#58f8c9 329.5px,#6dfdbe 392.5px,#72febb 451.5px)"></div><div style="top:473px;background:linear-gradient(90deg,#fff 90.0px,#8000ff 91.2px,#2587f5 182.5px,#01b5eb 221.5px,#31e2da 274.5px,#58f7c9 330.5px,#6cfdbf 393.5px,#71febc 451.5px)"></div><div style="top:474px;background:linear-gradient(90deg,#fff 91.1px,#8000ff 92.3px,#2488f5 184.5px,#01b5eb 222.5px,#31e2da 275.5px,#57f7c9 331.5px,#6cfdbf 394.5px,#70febd 451.5px)"></div><div style="top:475px;background:linear-gradient(90deg,#fff 92.1px,#8000ff 93.3px,#2488f5 185.5px,#01b5eb 223.5px,#30e1da 276.5px,#57f7c9 332.5px,#6bfdbf 396.5px,#6ffebd 451.5px)"></div><div style="top:476px;background:linear-gradient(90deg,#fff 93.2px,#8000ff 94.4px,#2488f5 186.5px,#02b6eb 225.5px,#31e2da 278.5px,#57f7c9 335.5px,#6afdc0 400.5px,#6efebe 451.5px)"></div><div style="top:477px;background:linear-gradient(90deg,#fff 94.3px,#8000ff 95.5px,#2389f5 188.5px,#01b6eb 226.5px,#31e2da 279.5px,#57f7c9 336.5px,#69fdc0 401.5px,#6dfdbe 451.5px)"></div><div style="top:478px;background:linear-gradient(90deg,#fff 95.3px,#8000ff 96.5px,#2389f5 189.5px,#01b6eb 227.5px,#31e1da 280.5px,#56f7ca 337.5px,#69fcc1 403.5px,#6cfdbf 451.5px)"></div><div style="top:479px;background:linear-gradient(90deg,#fff 96.4px,#8000ff 97.6px,#228af5 191.5px,#01b6eb 228.5px,#30e1db 281.5px,#56f7ca 338.5px,#68fcc1 404.5px,#6bfdbf 451.5px)"></div><div style="top:480px;background:linear-gradient(90deg,#fff 97.5px,#8000ff 98.7px,#228af5 192.5px,#01b5eb 229.5px,#30e1db 282.5px,#55f6ca 339.5px,#67fcc1 406.5px,#6afdc0 451.5px)"></div><div style="top:481px;background:linear-gradient(90deg,#fff 98.5px,#8000ff 99.7px,#238af5 193.5px,#01b5eb 230.5px,#30e1db 283.5px,#54f6cb 340.5px,#66fcc2 407.5px,#69fdc0 451.5px)"></div><div style="top:482px;background:linear-gradient(90deg,#fff 99.6px,#8000ff 100.8px,#228bf4 195.5px,#01b5eb 231.5px,#30e1db 284.5px,#54f6cb 341.5px,#65fcc2 409.5px,#68fcc1 451.5px)"></div><div style="top:483px;background:linear-gradient(90deg,#fff 100.7px,#8000ff 101.9px,#228bf4 196.5px,#01b5eb 232.5px,#2fe0db 285.5px,#54f6cb 343.5px,#64fbc3 412.5px,#67fcc2 451.5px)"></div><div style="top:484px;background:linear-gradient(90deg,#fff 101.8px,#8000ff 103.0px,#218cf4 198.5px,#02b6eb 234.5px,#30e1db 287.5px,#53f6cb 345.5px,#64fbc3 415.5px,#66fcc2 451.5px)"></div><div style="top:485px;background:linear-gradient(90deg,#fff 102.8px,#8000ff 104.0px,#218cf4 199.5px,#01b6eb 235.5px,#2fe0db 287.5px,#52f5cc 345.5px,#62fbc4 415.5px,#65fbc3 451.5px)"></div><div style="top:486px;background:linear-gradient(90deg,#fff 103.9px,#8000ff 105.1px,#218cf4 200.5px,#01b6eb 236.5px,#2ee0db 288.5px,#52f5cc 346.5px,#62fbc4 417.5px,#63fbc3 451.5px)"></div><div style="top:487px;background:linear-gradient(90deg,#fff 105.0px,#8000ff 106.2px,#2686f5 196.5px,#01b6eb 237.5px,#2ee0db 289.5px,#51f5cc 347.5px,#61fac5 419.5px,#62fbc4 451.5px)"></div><div style="top:488px;background:linear-gradient(90deg,#fff 106.0px,#8000ff 107.2px,#2685f5 197.5px,#01b5eb 238.5px,#2edfdb 290.5px,#50f4cc 348.5px,#60fac5 420.5px,#61fbc4 451.5px)"></div><div style="top:489px;background:linear-gradient(90deg,#fff 107.1px,#8000ff 108.3px,#2587f5 199.5px,#01b5eb 239.5px,#2edfdc 291.5px,#50f4cd 349.5px,#5ffac6 422.5px,#60fac5 451.5px)"></div><div style="top:490px;background:linear-gradient(90deg,#fff 108.2px,#8000ff 109.4px,#2587f5 200.5px,#01b5eb 240.5px,#2ddfdc 292.5px,#4ff4cd 350.5px,#5efac6 424.5px,#5ffac5 451.5px)"></div><div style="top:491px;background:linear-gradient(90deg,#fff 109.2px,#8000ff 110.4px,#2488f5 202.5px,#02b6eb 242.5px,#2edfdc 294.5px,#4ff4cd 353.5px,#5df9c6 430.5px,#5efac6 451.5px)"></div><div style="top:492px;background:linear-gradient(90deg,#fff 110.3px,#8000ff 111.5px,#2488f5 203.5px,#01b6eb 243.5px,#2ddfdc 295.5px,#4ff3cd 354.5px,#5cf9c7 432.5px,#5df9c6 451.5px)"></div><div style="top:493px;background:linear-gradient(90deg,#fff 111.4px,#8000ff 112.6px,#2587f5 204.5px,#01b6eb 244.5px,#2ddfdc 296.5px,#4ef3ce 355.5px,#5bf9c7 433.5px,#5cf9c7 451.5px)"></div><div style="top:494px;background:linear-gradient(90deg,#fff 112.4px,#8000ff 113.6px,#2489f5 206.5px,#01b6eb 245.5px,#2ddfdc 297.5px,#4df3ce 356.5px,#5af8c8 436.5px,#5bf9c7 451.5px)"></div><div style="top:495px;background:linear-gradient(90deg,#fff 113.5px,#8000ff 114.7px,#2488f5 207.5px,#01b5eb 246.5px,#2cdedc 298.5px,#4cf2ce 357.5px,#59f8c8 438.5px,#5af8c8 451.5px)"></div><div style="top:496px;background:linear-gradient(90deg,#fff 114.6px,#8000ff 115.8px,#2488f5 208.5px,#01b5eb 247.5px,#2cdedc 299.5px,#4cf2cf 358.5px,#58f8c9 440.5px,#59f8c8 451.5px)"></div><div style="top:497px;background:linear-gradient(90deg,#fff 115.6px,#8000ff 116.8px,#238af5 210.5px,#01b5eb 248.5px,#2cdedc 300.5px,#4bf2cf 359.5px,#58f7c9 442.5px,#58f7c9 451.5px)"></div><div style="top:498px;background:linear-gradient(90deg,#fff 116.7px,#8000ff 117.9px,#2389f5 211.5px,#01b6eb 250.5px,#2cdedc 302.5px,#4bf2cf 361.5px,#57f7ca 446.5px,#57f7c9 451.5px)"></div><div style="top:499px;background:linear-gradient(90deg,#fff 117.8px,#8000ff 119.0px,#2389f5 212.5px,#01b6eb 251.5px,#2cdedc 303.5px,#4af1d0 362.5px,#56f7ca 448.5px,#56f7ca 451.5px)"></div><div style="top:500px;background:linear-gradient(90deg,#fff 118.9px,#8000ff 120.1px,#228af5 214.5px,#01b6eb 252.5px,#2bdedc 304.5px,#49f1d0 363.5px,#55f6ca 451.5px)"></div><div style="top:501px;background:linear-gradient(90deg,#fff 119.9px,#8000ff 121.1px,#2784f6 210.5px,#01b5eb 253.5px,#2bdddd 305.5px,#48f0d0 364.5px,#54f6cb 451.5px)"></div><div style="top:502px;background:linear-gradient(90deg,#fff 121.0px,#8000ff 122.2px,#2784f6 211.5px,#01b5eb 254.5px,#2bdddd 306.5px,#48f0d1 365.5px,#53f5cb 451.5px)"></div><div style="top:503px;background:linear-gradient(90deg,#fff 122.1px,#8000ff 123.3px,#2784f6 212.5px,#01b5eb 255.5px,#2adddd 307.5px,#47f0d1 366.5px,#52f5cc 451.5px)"></div><div style="top:504px;background:linear-gradient(90deg,#fff 123.1px,#8000ff 124.3px,#2785f6 214.5px,#01b6eb 257.5px,#2adcdd 308.5px,#46efd1 367.5px,#50f4cc 451.5px)"></div><div style="top:505px;background:linear-gradient(90deg,#fff 124.2px,#8000ff 125.4px,#2785f6 215.5px,#01b6eb 258.5px,#2adcdd 309.5px,#45efd2 368.5px,#4ff4cd 451.5px)"></div><div style="top:506px;background:linear-gradient(90deg,#fff 125.3px,#8000ff 126.5px,#2686f5 217.5px,#01b5eb 259.5px,#29dcdd 310.5px,#44eed2 369.5px,#4ef3cd 451.5px)"></div><div style="top:507px;background:linear-gradient(90deg,#fff 126.3px,#8000ff 127.5px,#2686f5 218.5px,#01b5eb 260.5px,#29dbde 311.5px,#44eed2 370.5px,#4df3ce 451.5px)"></div><div style="top:508px;background:linear-gradient(90deg,#fff 127.4px,#8000ff 128.6px,#2685f5 219.5px,#01b5eb 261.5px,#28dbde 312.5px,#43edd3 371.5px,#4cf2ce 451.5px)"></div><div style="top:509px;background:linear-gradient(90deg,#fff 128.5px,#8000ff 129.7px,#2587f5 221.5px,#01b6eb 263.5px,#29dbde 314.5px,#43edd3 374.5px,#4bf2cf 451.5px)"></div><div style="top:510px;background:linear-gradient(90deg,#fff 129.6px,#8000ff 130.8px,#2586f5 222.5px,#01b6eb 264.5px,#28dbde 315.5px,#42edd3 375.5px,#4af1cf 451.5px)"></div><div style="top:511px;background:linear-gradient(90deg,#fff 130.6px,#8000ff 131.8px,#2586f5 223.5px,#01b5eb 265.5px,#28dbde 316.5px,#41ecd4 376.5px,#49f1d0 451.5px)"></div><div style="top:512px;background:linear-gradient(90deg,#fff 131.7px,#8000ff 132.9px,#2686f5 224.5px,#01b5eb 266.5px,#27dade 317.5px,#40ecd4 377.5px,#48f0d0 451.5px)"></div><div style="top:513px;background:linear-gradient(90deg,#fff 132.8px,#8000ff 134.0px,#2587f5 226.5px,#01b6eb 268.5px,#27dade 319.5px,#40ebd4 379.5px,#47f0d1 451.5px)"></div><div style="top:514px;background:linear-gradient(90deg,#fff 133.8px,#8000ff 135.0px,#2587f5 227.5px,#01b6eb 269.5px,#27dade 320.5px,#3febd4 380.5px,#46efd1 451.5px)"></div><div style="top:515px;background:linear-gradient(90deg,#fff 134.9px,#8000ff 136.1px,#2a81f6 223.5px,#01b5eb 270.5px,#26dade 321.5px,#3eebd5 382.5px,#45efd2 451.5px)"></div><div style="top:516px;background:linear-gradient(90deg,#fff 136.0px,#8000ff 137.2px,#2a80f6 224.5px,#01b5eb 271.5px,#26d9df 322.5px,#3dead5 383.5px,#44eed2 451.5px)"></div><div style="top:517px;background:linear-gradient(90deg,#fff 137.1px,#8000ff 138.3px,#2982f6 226.5px,#01b6eb 273.5px,#26d9df 324.5px,#3dead5 385.5px,#43edd3 451.5px)"></div><div style="top:518px;background:linear-gradient(90deg,#fff 138.1px,#8000ff 139.3px,#2981f6 227.5px,#01b6eb 274.5px,#26d9df 325.5px,#3ce9d6 387.5px,#42edd3 451.5px)"></div><div style="top:519px;background:linear-gradient(90deg,#fff 139.2px,#8000ff 140.4px,#2981f6 228.5px,#01b5eb 275.5px,#25d8df 326.5px,#3be9d6 388.5px,#41ecd4 451.5px)"></div><div style="top:520px;background:linear-gradient(90deg,#fff 140.3px,#8000ff 141.5px,#2882f6 230.5px,#01b5eb 276.5px,#25d8df 327.5px,#3ae8d6 389.5px,#40ebd4 451.5px)"></div><div style="top:521px;background:linear-gradient(90deg,#fff 141.3px,#8000ff 142.5px,#2882f6 231.5px,#01b6eb 278.5px,#25d8df 329.5px,#3ae8d7 392.5px,#3eebd5 451.5px)"></div><div style="top:522px;background:linear-gradient(90deg,#fff 142.4px,#8000ff 143.6px,#2982f6 232.5px,#01b6eb 279.5px,#24d8df 330.5px,#39e7d7 393.5px,#3dead5 451.5px)"></div><div style="top:523px;background:linear-gradient(90deg,#fff 143.5px,#8000ff 144.7px,#2982f6 233.5px,#01b5eb 280.5px,#24d7e0 331.5px,#38e6d7 394.5px,#3ce9d6 451.5px)"></div><div style="top:524px;background:linear-gradient(90deg,#fff 144.6px,#8000ff 145.8px,#2883f6 235.5px,#01b6eb 282.5px,#24d7e0 333.5px,#37e6d8 397.5px,#3be9d6 451.5px)"></div><div style="top:525px;background:linear-gradient(90deg,#fff 145.6px,#8000ff 146.8px,#2883f6 236.5px,#01b6eb 283.5px,#23d7e0 334.5px,#36e6d8 399.5px,#3ae8d6 451.5px)"></div><div style="top:526px;background:linear-gradient(90deg,#fff 146.7px,#8000ff 147.9px,#2883f6 237.5px,#01b5eb 284.5px,#22d6e0 335.5px,#35e5d8 400.5px,#39e7d7 451.5px)"></div><div style="top:527px;background:linear-gradient(90deg,#fff 147.8px,#8000ff 149.0px,#2883f6 238.5px,#01b5eb 285.5px,#22d6e0 336.5px,#34e4d9 401.5px,#38e7d7 451.5px)"></div><div style="top:528px;background:linear-gradient(90deg,#fff 148.9px,#8000ff 150.1px,#2784f6 240.5px,#01b6eb 287.5px,#22d6e0 338.5px,#34e4d9 404.5px,#37e6d8 451.5px)"></div><div style="top:529px;background:linear-gradient(90deg,#fff 149.9px,#8000ff 151.1px,#2c7df7 236.5px,#01b5eb 288.5px,#21d5e0 339.5px,#33e3d9 406.5px,#36e5d8 451.5px)"></div><div style="top:530px;background:linear-gradient(90deg,#fff 151.0px,#8000ff 152.2px,#2c7df7 237.5px,#01b5eb 289.5px,#21d5e1 340.5px,#32e3da 407.5px,#35e5d9 451.5px)"></div><div style="top:531px;background:linear-gradient(90deg,#fff 152.1px,#8000ff 153.3px,#2d7df7 238.5px,#01b6eb 291.5px,#20d4e1 342.5px,#31e2da 411.5px,#34e4d9 451.5px)"></div><div style="top:532px;background:linear-gradient(90deg,#fff 153.1px,#8000ff 154.3px,#2c7ef7 240.5px,#01b5eb 292.5px,#20d4e1 343.5px,#30e1da 412.5px,#33e3da 451.5px)"></div><div style="top:533px;background:linear-gradient(90deg,#fff 154.2px,#8000ff 155.4px,#2c7ef7 241.5px,#01b6eb 294.5px,#20d4e1 345.5px,#30e1db 415.5px,#32e2da 451.5px)"></div><div style="top:534px;background:linear-gradient(90deg,#fff 155.3px,#8000ff 156.5px,#2c7df7 242.5px,#01b5eb 295.5px,#1fd3e1 346.5px,#2fe0db 417.5px,#31e2da 451.5px)"></div><div style="top:535px;background:linear-gradient(90deg,#fff 156.4px,#8000ff 157.6px,#2c7df7 243.5px,#01b5eb 296.5px,#1ed3e1 347.5px,#2edfdb 419.5px,#30e1db 451.5px)"></div><div style="top:536px;background:linear-gradient(90deg,#fff 157.4px,#8000ff 158.6px,#2b7ef6 245.5px,#01b5eb 298.5px,#1ed2e2 349.5px,#2ddfdc 422.5px,#2fe0db 451.5px)"></div><div style="top:537px;background:linear-gradient(90deg,#fff 158.5px,#8000ff 159.7px,#2b7ef7 246.5px,#01b5eb 299.5px,#1dd2e2 350.5px,#2cdedc 424.5px,#2edfdc 451.5px)"></div><div style="top:538px;background:linear-gradient(90deg,#fff 159.6px,#8000ff 160.8px,#2c7ef7 247.5px,#00b4ec 299.5px,#1cd1e2 350.5px,#2bdddd 424.5px,#2cdedc 451.5px)"></div><div style="top:539px;background:linear-gradient(90deg,#fff 160.7px,#8000ff 161.9px,#2c7ef7 248.5px,#01b4ec 300.5px,#1cd0e2 351.5px,#2adddd 426.5px,#2bdedc 451.5px)"></div><div style="top:540px;background:linear-gradient(90deg,#fff 161.7px,#8000ff 162.9px,#2b7ff6 250.5px,#00b4ec 302.5px,#1bd0e3 353.5px,#29dcdd 430.5px,#2adddd 451.5px)"></div><div style="top:541px;background:linear-gradient(90deg,#fff 162.8px,#8000ff 164.0px,#2b7ff6 251.5px,#01b4ec 303.5px,#1bcfe3 354.5px,#28dbde 432.5px,#29dcdd 451.5px)"></div><div style="top:542px;background:linear-gradient(90deg,#fff 163.9px,#8000ff 165.1px,#2b7ef6 252.5px,#01b3ec 304.5px,#1acfe3 355.5px,#27dade 433.5px,#28dbde 451.5px)"></div><div style="top:543px;background:linear-gradient(90deg,#fff 165.0px,#8000ff 166.2px,#3078f7 248.5px,#05afed 300.5px,#02b7eb 310.5px,#1cd0e2 363.5px,#27dade 451.5px)"></div><div style="top:544px;background:linear-gradient(90deg,#fff 166.1px,#8000ff 167.3px,#3078f7 249.5px,#05aeed 301.5px,#02b7eb 312.5px,#1bd0e3 365.5px,#26d9df 451.5px)"></div><div style="top:545px;background:linear-gradient(90deg,#fff 167.1px,#8000ff 168.3px,#2f79f7 251.5px,#05afed 303.5px,#02b6eb 313.5px,#1acfe3 366.5px,#25d8df 451.5px)"></div><div style="top:546px;background:linear-gradient(90deg,#fff 168.2px,#8000ff 169.4px,#3079f7 252.5px,#05aeed 304.5px,#02b7eb 315.5px,#1acfe3 369.5px,#24d8df 451.5px)"></div><div style="top:547px;background:linear-gradient(90deg,#fff 169.3px,#8000ff 170.5px,#3078f7 253.5px,#06aeed 305.5px,#02b6eb 316.5px,#19cee3 370.5px,#23d7e0 451.5px)"></div><div style="top:548px;background:linear-gradient(90deg,#fff 170.4px,#8000ff 171.6px,#3078f7 254.5px,#06aeed 306.5px,#02b6eb 318.5px,#19cee3 372.5px,#22d6e0 451.5px)"></div><div style="top:549px;background:linear-gradient(90deg,#fff 171.4px,#8000ff 172.6px,#2f79f7 256.5px,#06aded 307.5px,#02b6eb 320.5px,#18cde4 375.5px,#21d5e1 451.5px)"></div><div style="top:550px;background:linear-gradient(90deg,#fff 172.5px,#8000ff 173.7px,#2f79f7 257.5px,#07adee 308.5px,#01b6eb 321.5px,#18cde4 376.5px,#20d4e1 451.5px)"></div><div style="top:551px;background:linear-gradient(90deg,#fff 173.6px,#8000ff 174.8px,#2f79f7 258.5px,#07acee 309.5px,#02b6eb 323.5px,#17cce4 378.5px,#1fd3e1 451.5px)"></div><div style="top:552px;background:linear-gradient(90deg,#fff 174.7px,#8000ff 175.9px,#3078f7 259.5px,#08acee 310.5px,#02b6eb 325.5px,#17cce4 381.5px,#1ed2e2 451.5px)"></div><div style="top:553px;background:linear-gradient(90deg,#fff 175.8px,#8000ff 177.0px,#3078f7 260.5px,#08abee 311.5px,#02b6eb 327.5px,#16cbe4 384.5px,#1dd1e2 451.5px)"></div><div style="top:554px;background:linear-gradient(90deg,#fff 176.8px,#8000ff 178.0px,#3078f7 261.5px,#08abee 312.5px,#02b6eb 329.5px,#16cbe5 386.5px,#1cd0e2 451.5px)"></div><div style="top:555px;background:linear-gradient(90deg,#fff 177.9px,#8000ff 179.1px,#3473f8 258.5px,#0ba7ef 309.5px,#01b6eb 330.5px,#15cae5 388.5px,#1acfe3 451.5px)"></div><div style="top:556px;background:linear-gradient(90deg,#fff 179.0px,#8000ff 180.2px,#3473f8 259.5px,#0ca7ef 310.5px,#01b6eb 332.5px,#14c9e5 390.5px,#19cee3 451.5px)"></div><div style="top:557px;background:linear-gradient(90deg,#fff 180.1px,#8000ff 181.3px,#3472f8 260.5px,#0ca6ef 311.5px,#02b6eb 335.5px,#14c9e5 395.5px,#18cde4 451.5px)"></div><div style="top:558px;background:linear-gradient(90deg,#fff 181.2px,#8000ff 182.4px,#3472f8 261.5px,#0da6ef 312.5px,#02b6eb 337.5px,#13c8e5 398.5px,#17cce4 451.5px)"></div><div style="top:559px;background:linear-gradient(90deg,#fff 182.2px,#8000ff 183.4px,#3473f8 263.5px,#0da5ef 313.5px,#01b6eb 339.5px,#13c8e6 401.5px,#16cbe4 451.5px)"></div><div style="top:560px;background:linear-gradient(90deg,#fff 183.3px,#8000ff 184.5px,#3473f8 264.5px,#0da5ef 314.5px,#01b6eb 341.5px,#12c7e6 404.5px,#15cae5 451.5px)"></div><div style="top:561px;background:linear-gradient(90deg,#fff 184.4px,#8000ff 185.6px,#3472f8 265.5px,#0ea4f0 315.5px,#02b6eb 344.5px,#11c7e6 409.5px,#14c9e5 451.5px)"></div><div style="top:562px;background:linear-gradient(90deg,#fff 185.5px,#8000ff 186.7px,#3472f8 266.5px,#0ea4f0 316.5px,#01b6eb 346.5px,#11c6e6 412.5px,#13c8e5 451.5px)"></div><div style="top:563px;background:linear-gradient(90deg,#fff 186.6px,#8000ff 187.8px,#3472f8 267.5px,#0fa3f0 317.5px,#01b6eb 349.5px,#10c5e6 417.5px,#12c7e6 451.5px)"></div><div style="top:564px;background:linear-gradient(90deg,#fff 187.7px,#8000ff 188.9px,#3473f8 269.5px,#0fa3f0 319.5px,#01b6eb 351.5px,#0fc4e7 420.5px,#11c6e6 451.5px)"></div><div style="top:565px;background:linear-gradient(90deg,#fff 188.7px,#8000ff 189.9px,#3473f8 270.5px,#10a2f0 319.5px,#01b6eb 354.5px,#0fc4e7 426.5px,#10c5e7 451.5px)"></div><div style="top:566px;background:linear-gradient(90deg,#fff 189.8px,#8000ff 191.0px,#3472f8 271.5px,#10a2f0 320.5px,#01b6eb 357.5px,#0ec3e7 432.5px,#0fc4e7 451.5px)"></div><div style="top:567px;background:linear-gradient(90deg,#fff 190.9px,#8000ff 192.1px,#396cf9 267.5px,#139ef1 317.5px,#01b6eb 360.5px,#0dc2e7 438.5px,#0ec3e7 451.5px)"></div><div style="top:568px;background:linear-gradient(90deg,#fff 192.0px,#8000ff 193.2px,#396cf9 268.5px,#139ef1 318.5px,#01b6eb 363.5px,#0cc2e8 444.5px,#0dc2e8 451.5px)"></div><div style="top:569px;background:linear-gradient(90deg,#fff 193.1px,#8000ff 194.3px,#386df9 270.5px,#149df1 319.5px,#01b5eb 366.5px,#0cc1e8 451.5px)"></div><div style="top:570px;background:linear-gradient(90deg,#fff 194.2px,#8000ff 195.4px,#386cf9 271.5px,#149cf1 320.5px,#01b5eb 369.5px,#0bc0e8 451.5px)"></div><div style="top:571px;background:linear-gradient(90deg,#fff 195.3px,#8000ff 196.5px,#396cf9 272.5px,#159cf1 321.5px,#01b5eb 373.5px,#0abfe9 451.5px)"></div><div style="top:572px;background:linear-gradient(90deg,#fff 196.4px,#8000ff 197.6px,#396cf9 273.5px,#159bf1 322.5px,#00b4ec 374.5px,#08bde9 451.5px)"></div><div style="top:573px;background:linear-gradient(90deg,#fff 197.5px,#8000ff 198.7px,#396bf9 274.5px,#169bf2 323.5px,#01b3ec 375.5px,#07bce9 451.5px)"></div><div style="top:574px;background:linear-gradient(90deg,#fff 198.5px,#8000ff 199.7px,#386cf9 276.5px,#169bf2 325.5px,#02b3ec 377.5px,#06bbea 451.5px)"></div><div style="top:575px;background:linear-gradient(90deg,#fff 199.6px,#8000ff 200.8px,#396cf9 277.5px,#169af2 326.5px,#02b2ec 379.5px,#05baea 451.5px)"></div><div style="top:576px;background:linear-gradient(90deg,#fff 200.7px,#8000ff 201.9px,#396cf9 278.5px,#1799f2 326.5px,#03b1ed 378.5px,#03b7eb 420.5px,#04b9ea 451.5px)"></div><div style="top:577px;background:linear-gradient(90deg,#fff 201.8px,#8000ff 203.0px,#396bf9 279.5px,#1898f2 327.5px,#04b0ed 380.5px,#02b7eb 427.5px,#03b8eb 451.5px)"></div><div style="top:578px;background:linear-gradient(90deg,#fff 202.9px,#8000ff 204.1px,#3d66fa 276.5px,#1a95f3 325.5px,#06aeed 377.5px,#01b6eb 435.5px,#02b7eb 451.5px)"></div><div style="top:579px;background:linear-gradient(90deg,#fff 204.0px,#8000ff 205.2px,#3d66fa 277.5px,#1a95f3 326.5px,#07adee 378.5px,#01b5eb 451.5px)"></div><div style="top:580px;background:linear-gradient(90deg,#fff 205.1px,#8000ff 206.3px,#3d65fa 278.5px,#1b93f3 326.5px,#08acee 378.5px,#00b4ec 451.5px)"></div><div style="top:581px;background:linear-gradient(90deg,#fff 206.2px,#8000ff 207.4px,#3d65fa 279.5px,#1c93f3 327.5px,#08abee 379.5px,#01b3ec 451.5px)"></div><div style="top:582px;background:linear-gradient(90deg,#fff 207.3px,#8000ff 208.5px,#3e65fa 280.5px,#1c92f3 328.5px,#09aaee 380.5px,#02b2ec 451.5px)"></div><div style="top:583px;background:linear-gradient(90deg,#fff 208.4px,#8000ff 209.6px,#3d66fa 282.5px,#1c92f3 330.5px,#0aa9ee 383.5px,#03b1ed 451.5px)"></div><div style="top:584px;background:linear-gradient(90deg,#fff 209.5px,#8000ff 210.7px,#3d65fa 283.5px,#1d91f3 331.5px,#0ba8ef 384.5px,#04b0ed 451.5px)"></div><div style="top:585px;background:linear-gradient(90deg,#fff 210.6px,#8000ff 211.8px,#3d65fa 284.5px,#1e91f3 332.5px,#0ba7ef 385.5px,#05aeed 451.5px)"></div><div style="top:586px;background:linear-gradient(90deg,#fff 211.7px,#8000ff 212.9px,#3e64fa 285.5px,#1e90f4 333.5px,#0ca6ef 387.5px,#06aded 451.5px)"></div><div style="top:587px;background:linear-gradient(90deg,#fff 212.8px,#8000ff 214.0px,#3e64fa 286.5px,#1f8ff4 334.5px,#0da5ef 388.5px,#07acee 451.5px)"></div><div style="top:588px;background:linear-gradient(90deg,#fff 213.9px,#8000ff 215.1px,#415ffa 283.5px,#218cf4 331.5px,#0fa3f0 384.5px,#08abee 451.5px)"></div><div style="top:589px;background:linear-gradient(90deg,#fff 215.0px,#8000ff 216.2px,#425ffa 284.5px,#228bf4 332.5px,#10a2f0 385.5px,#0aa9ee 451.5px)"></div><div style="top:590px;background:linear-gradient(90deg,#fff 216.1px,#8000ff 217.3px,#415ffa 286.5px,#228bf4 334.5px,#10a1f0 388.5px,#0ba8ef 451.5px)"></div><div style="top:591px;background:linear-gradient(90deg,#fff 217.2px,#8000ff 218.4px,#415ffa 287.5px,#228af5 335.5px,#11a0f0 389.5px,#0ca7ef 451.5px)"></div><div style="top:592px;background:linear-gradient(90deg,#fff 218.3px,#8000ff 219.5px,#425ffa 288.5px,#2389f5 335.5px,#129ff1 389.5px,#0da6ef 451.5px)"></div><div style="top:593px;background:linear-gradient(90deg,#fff 219.4px,#8000ff 220.6px,#425efa 289.5px,#2488f5 336.5px,#139ef1 390.5px,#0ea4f0 451.5px)"></div><div style="top:594px;background:linear-gradient(90deg,#fff 220.6px,#8000ff 221.8px,#425efa 290.5px,#2587f5 337.5px,#149df1 391.5px,#0fa3f0 451.5px)"></div><div style="top:595px;background:linear-gradient(90deg,#fff 221.7px,#8000ff 222.9px,#425ffa 292.5px,#2587f5 339.5px,#149cf1 394.5px,#10a2f0 451.5px)"></div><div style="top:596px;background:linear-gradient(90deg,#fff 222.8px,#8000ff 224.0px,#425efa 293.5px,#2587f5 340.5px,#159bf2 395.5px,#11a1f0 451.5px)"></div><div style="top:597px;background:linear-gradient(90deg,#fff 223.9px,#8000ff 225.1px,#425efb 294.5px,#2686f5 341.5px,#169af2 397.5px,#129ff1 451.5px)"></div><div style="top:598px;background:linear-gradient(90deg,#fff 225.0px,#8000ff 226.2px,#4659fb 291.5px,#2882f6 338.5px,#1898f2 392.5px,#139ef1 451.5px)"></div><div style="top:599px;background:linear-gradient(90deg,#fff 226.1px,#8000ff 227.3px,#4658fb 292.5px,#2982f6 339.5px,#1997f2 394.5px,#149df1 451.5px)"></div><div style="top:600px;background:linear-gradient(90deg,#fff 227.3px,#8000ff 228.5px,#4659fb 294.5px,#2981f6 341.5px,#1996f3 396.5px,#159bf1 451.5px)"></div><div style="top:601px;background:linear-gradient(90deg,#fff 228.4px,#8000ff 229.6px,#4659fb 295.5px,#2a81f6 342.5px,#1a95f3 398.5px,#169af2 451.5px)"></div><div style="top:602px;background:linear-gradient(90deg,#fff 229.5px,#8000ff 230.7px,#4658fb 296.5px,#2a80f6 343.5px,#1b94f3 399.5px,#1799f2 451.5px)"></div><div style="top:603px;background:linear-gradient(90deg,#fff 230.6px,#8000ff 231.8px,#4758fb 297.5px,#2b7ff6 344.5px,#1c93f3 401.5px,#1897f2 451.5px)"></div><div style="top:604px;background:linear-gradient(90deg,#fff 231.8px,#8000ff 233.0px,#4658fb 299.5px,#2b7ff6 346.5px,#1d92f3 403.5px,#1996f2 451.5px)"></div><div style="top:605px;background:linear-gradient(90deg,#fff 232.9px,#8000ff 234.1px,#4758fb 300.5px,#2c7ef7 347.5px,#1e91f3 405.5px,#1a95f3 451.5px)"></div><div style="top:606px;background:linear-gradient(90deg,#fff 234.0px,#8000ff 235.2px,#4a53fc 297.5px,#2e7bf7 344.5px,#1f8ef4 400.5px,#1c93f3 451.5px)"></div><div style="top:607px;background:linear-gradient(90deg,#fff 235.1px,#8000ff 236.3px,#4a52fc 298.5px,#2f7af7 345.5px,#208df4 402.5px,#1d92f3 451.5px)"></div><div style="top:608px;background:linear-gradient(90deg,#fff 236.3px,#8000ff 237.5px,#4a53fc 300.5px,#2f79f7 347.5px,#218df4 405.5px,#1e91f4 451.5px)"></div><div style="top:609px;background:linear-gradient(90deg,#fff 237.4px,#8000ff 238.6px,#4a52fc 301.5px,#3078f7 348.5px,#228bf4 406.5px,#1f8ff4 451.5px)"></div><div style="top:610px;background:linear-gradient(90deg,#fff 238.6px,#8000ff 239.8px,#4a52fc 302.5px,#3078f7 349.5px,#238af5 407.5px,#208ef4 451.5px)"></div><div style="top:611px;background:linear-gradient(90deg,#fff 239.7px,#8000ff 240.9px,#4a52fc 304.5px,#3177f7 351.5px,#2389f5 411.5px,#218cf4 451.5px)"></div><div style="top:612px;background:linear-gradient(90deg,#fff 240.8px,#8000ff 242.0px,#4a52fc 305.5px,#3176f8 352.5px,#2488f5 412.5px,#228bf4 451.5px)"></div><div style="top:613px;background:linear-gradient(90deg,#fff 242.0px,#8000ff 243.2px,#4e4dfc 302.5px,#3373f8 349.5px,#2686f5 407.5px,#238af5 451.5px)"></div><div style="top:614px;background:linear-gradient(90deg,#fff 243.1px,#8000ff 244.3px,#4d4efc 304.5px,#3473f8 351.5px,#2785f5 410.5px,#2488f5 451.5px)"></div><div style="top:615px;background:linear-gradient(90deg,#fff 244.3px,#8000ff 245.5px,#4e4dfc 305.5px,#3472f8 352.5px,#2784f6 412.5px,#2587f5 451.5px)"></div><div style="top:616px;background:linear-gradient(90deg,#fff 245.5px,#8000ff 246.7px,#4d4efc 307.5px,#3571f8 354.5px,#2883f6 415.5px,#2685f5 451.5px)"></div><div style="top:617px;background:linear-gradient(90deg,#fff 246.6px,#8000ff 247.8px,#4e4dfc 308.5px,#3570f8 355.5px,#2981f6 417.5px,#2784f6 451.5px)"></div><div style="top:618px;background:linear-gradient(90deg,#fff 247.8px,#8000ff 249.0px,#4e4cfc 309.5px,#366ff9 356.5px,#2a80f6 418.5px,#2883f6 451.5px)"></div><div style="top:619px;background:linear-gradient(90deg,#fff 248.9px,#8000ff 250.1px,#5049fc 307.5px,#386cf9 353.5px,#2c7ef7 413.5px,#2981f6 451.5px)"></div><div style="top:620px;background:linear-gradient(90deg,#fff 250.1px,#8000ff 251.3px,#5148fc 308.5px,#396bf9 354.5px,#2c7df7 414.5px,#2a80f6 451.5px)"></div><div style="top:621px;background:linear-gradient(90deg,#fff 251.3px,#8000ff 252.5px,#5149fc 310.5px,#396bf9 357.5px,#2d7cf7 419.5px,#2b7ef6 451.5px)"></div><div style="top:622px;background:linear-gradient(90deg,#fff 252.5px,#8000ff 253.7px,#5148fc 311.5px,#3a6af9 358.5px,#2e7bf7 421.5px,#2c7df7 451.5px)"></div><div style="top:623px;background:linear-gradient(90deg,#fff 253.6px,#8000ff 254.8px,#5148fc 313.5px,#3a6af9 360.5px,#2f7af7 425.5px,#2e7bf7 451.5px)"></div><div style="top:624px;background:linear-gradient(90deg,#fff 254.8px,#8000ff 256.0px,#5148fc 314.5px,#3b69f9 361.5px,#3078f7 426.5px,#2f7af7 451.5px)"></div><div style="top:625px;background:linear-gradient(90deg,#fff 256.0px,#8000ff 257.2px,#5344fd 312.5px,#3d66fa 359.5px,#3177f8 423.5px,#3078f7 451.5px)"></div><div style="top:626px;background:linear-gradient(90deg,#fff 257.2px,#8000ff 258.4px,#5345fd 314.5px,#3d66fa 361.5px,#3275f8 426.5px,#3177f8 451.5px)"></div><div style="top:627px;background:linear-gradient(90deg,#fff 258.4px,#8000ff 259.6px,#5444fd 315.5px,#3e65fa 362.5px,#3374f8 428.5px,#3276f8 451.5px)"></div><div style="top:628px;background:linear-gradient(90deg,#fff 259.6px,#8000ff 260.8px,#5444fd 317.5px,#3e64fa 364.5px,#3473f8 431.5px,#3374f8 451.5px)"></div><div style="top:629px;background:linear-gradient(90deg,#fff 260.8px,#8000ff 262.0px,#5444fd 318.5px,#3f63fa 365.5px,#3571f8 433.5px,#3473f8 451.5px)"></div><div style="top:630px;background:linear-gradient(90deg,#fff 262.0px,#8000ff 263.2px,#5640fd 316.5px,#4160fa 363.5px,#3670f8 429.5px,#3571f8 451.5px)"></div><div style="top:631px;background:linear-gradient(90deg,#fff 263.2px,#8000ff 264.4px,#5640fd 318.5px,#4160fa 365.5px,#376ff9 433.5px,#3670f8 451.5px)"></div><div style="top:632px;background:linear-gradient(90deg,#fff 264.4px,#8000ff 265.6px,#5641fd 320.5px,#415ffa 367.5px,#386df9 437.5px,#376ef9 451.5px)"></div><div style="top:633px;background:linear-gradient(90deg,#fff 265.6px,#8000ff 266.8px,#5640fd 321.5px,#425efa 368.5px,#396cf9 439.5px,#386df9 451.5px)"></div><div style="top:634px;background:linear-gradient(90deg,#fff 266.9px,#8000ff 268.1px,#5640fd 323.5px,#425efb 371.5px,#396bf9 445.5px,#396bf9 451.5px)"></div><div style="top:635px;background:linear-gradient(90deg,#fff 268.1px,#8000ff 269.3px,#593dfd 321.5px,#445bfb 368.5px,#3b69f9 438.5px,#3a6af9 451.5px)"></div><div style="top:636px;background:linear-gradient(90deg,#fff 269.3px,#8000ff 270.5px,#583dfd 323.5px,#455afb 371.5px,#3b68f9 445.5px,#3b68f9 451.5px)"></div><div style="top:637px;background:linear-gradient(90deg,#fff 270.6px,#8000ff 271.8px,#583dfd 325.5px,#455afb 373.5px,#3c66fa 449.5px,#3c67fa 451.5px)"></div><div style="top:638px;background:linear-gradient(90deg,#fff 271.8px,#8000ff 273.0px,#583dfd 327.5px,#4659fb 375.5px,#3d65fa 451.5px)"></div><div style="top:639px;background:linear-gradient(90deg,#fff 273.1px,#8000ff 274.3px,#5a3afd 325.5px,#4757fb 373.5px,#3f63fa 449.5px,#3e63fa 451.5px)"></div><div style="top:640px;background:linear-gradient(90deg,#fff 274.4px,#8000ff 275.6px,#5a3afd 327.5px,#4856fb 375.5px,#3f62fa 451.5px)"></div><div style="top:641px;background:linear-gradient(90deg,#fff 275.6px,#8000ff 276.8px,#5a3afd 329.5px,#4855fb 377.5px,#4160fa 451.5px)"></div><div style="top:642px;background:linear-gradient(90deg,#fff 276.9px,#8000ff 278.1px,#5a3afd 331.5px,#4954fb 380.5px,#425ffa 451.5px)"></div><div style="top:643px;background:linear-gradient(90deg,#fff 278.2px,#8000ff 279.4px,#5c37fe 329.5px,#4b52fc 377.5px,#435dfb 451.5px)"></div><div style="top:644px;background:linear-gradient(90deg,#fff 279.5px,#8000ff 280.7px,#5d37fe 331.5px,#4b51fc 380.5px,#445cfb 451.5px)"></div><div style="top:645px;background:linear-gradient(90deg,#fff 280.8px,#8000ff 282.0px,#5d36fe 333.5px,#4c50fc 382.5px,#455afb 451.5px)"></div><div style="top:646px;background:linear-gradient(90deg,#fff 282.1px,#8000ff 283.3px,#5e34fe 332.5px,#4d4efc 381.5px,#4659fb 451.5px)"></div><div style="top:647px;background:linear-gradient(90deg,#fff 283.4px,#8000ff 284.6px,#5e34fe 334.5px,#4d4efc 384.5px,#4757fb 451.5px)"></div><div style="top:648px;background:linear-gradient(90deg,#fff 284.7px,#8000ff 285.9px,#5e34fe 336.5px,#4e4dfc 386.5px,#4856fb 451.5px)"></div><div style="top:649px;background:linear-gradient(90deg,#fff 286.1px,#8000ff 287.3px,#6032fe 335.5px,#4f4bfc 385.5px,#4954fb 451.5px)"></div><div style="top:650px;background:linear-gradient(90deg,#fff 287.4px,#8000ff 288.6px,#5f32fe 338.5px,#504afc 389.5px,#4a52fc 451.5px)"></div><div style="top:651px;background:linear-gradient(90deg,#fff 288.8px,#8000ff 290.0px,#6032fe 340.5px,#5049fc 391.5px,#4b51fc 451.5px)"></div><div style="top:652px;background:linear-gradient(90deg,#fff 290.2px,#8000ff 291.4px,#6130fe 339.5px,#5147fc 390.5px,#4c4ffc 451.5px)"></div><div style="top:653px;background:linear-gradient(90deg,#fff 291.6px,#8000ff 292.8px,#6130fe 342.5px,#5247fc 394.5px,#4d4efc 451.5px)"></div><div style="top:654px;background:linear-gradient(90deg,#fff 292.9px,#8000ff 294.1px,#622efe 341.5px,#5345fd 393.5px,#4e4cfc 451.5px)"></div><div style="top:655px;background:linear-gradient(90deg,#fff 294.4px,#8000ff 295.6px,#622dfe 343.5px,#5444fd 395.5px,#4f4afc 451.5px)"></div><div style="top:656px;background:linear-gradient(90deg,#fff 295.8px,#8000ff 297.0px,#622efe 346.5px,#5443fd 400.5px,#5049fc 451.5px)"></div><div style="top:657px;background:linear-gradient(90deg,#fff 297.2px,#8000ff 298.4px,#632cfe 346.5px,#5541fd 399.5px,#5147fc 451.5px)"></div><div style="top:658px;background:linear-gradient(90deg,#fff 298.7px,#8000ff 299.9px,#632cfe 348.5px,#5640fd 402.5px,#5346fd 451.5px)"></div><div style="top:659px;background:linear-gradient(90deg,#fff 300.1px,#8000ff 301.3px,#652afe 348.5px,#573ffd 402.5px,#5444fd 451.5px)"></div><div style="top:660px;background:linear-gradient(90deg,#fff 301.6px,#8000ff 302.8px,#642afe 351.5px,#583efd 407.5px,#5543fd 451.5px)"></div><div style="top:661px;background:linear-gradient(90deg,#fff 303.1px,#8000ff 304.3px,#6529fe 351.5px,#593dfd 407.5px,#5641fd 451.5px)"></div><div style="top:662px;background:linear-gradient(90deg,#fff 304.7px,#8000ff 305.9px,#6529fe 354.5px,#593cfd 411.5px,#573ffd 451.5px)"></div><div style="top:663px;background:linear-gradient(90deg,#fff 306.2px,#8000ff 307.4px,#6627fe 354.5px,#5a3afd 411.5px,#583efd 451.5px)"></div><div style="top:664px;background:linear-gradient(90deg,#fff 307.8px,#8000ff 309.0px,#6627fe 357.5px,#5b39fd 416.5px,#593cfd 451.5px)"></div><div style="top:665px;background:linear-gradient(90deg,#fff 309.4px,#8000ff 310.6px,#6826fe 357.5px,#5c37fd 416.5px,#5a3afd 451.5px)"></div><div style="top:666px;background:linear-gradient(90deg,#fff 311.0px,#8000ff 312.2px,#6824fe 358.5px,#5d36fe 418.5px,#5b39fd 451.5px)"></div><div style="top:667px;background:linear-gradient(90deg,#fff 312.6px,#8000ff 313.8px,#6824fe 361.5px,#5d35fe 423.5px,#5c37fd 451.5px)"></div><div style="top:668px;background:linear-gradient(90deg,#fff 314.3px,#8000ff 315.5px,#6923fe 362.5px,#5e34fe 425.5px,#5d36fe 451.5px)"></div><div style="top:669px;background:linear-gradient(90deg,#fff 315.9px,#8000ff 317.1px,#6a22fe 363.5px,#5f32fe 426.5px,#5e34fe 451.5px)"></div><div style="top:670px;background:linear-gradient(90deg,#fff 317.7px,#8000ff 318.9px,#6a22fe 367.5px,#6031fe 434.5px,#5f32fe 451.5px)"></div><div style="top:671px;background:linear-gradient(90deg,#fff 319.4px,#8000ff 320.6px,#6a21fe 368.5px,#6130fe 435.5px,#6031fe 451.5px)"></div><div style="top:672px;background:linear-gradient(90deg,#fff 321.2px,#8000ff 322.4px,#6b20ff 369.5px,#622efe 437.5px,#612ffe 451.5px)"></div><div style="top:673px;background:linear-gradient(90deg,#fff 323.0px,#8000ff 324.2px,#6c1fff 371.5px,#632dfe 441.5px,#622dfe 451.5px)"></div><div style="top:674px;background:linear-gradient(90deg,#fff 324.9px,#8000ff 326.1px,#6c1fff 375.5px,#642cfe 450.5px,#632cfe 451.5px)"></div><div style="top:675px;background:linear-gradient(90deg,#fff 326.8px,#8000ff 328.0px,#6c1eff 377.5px,#652afe 451.5px)"></div><div style="top:676px;background:linear-gradient(90deg,#fff 328.8px,#8000ff 330.0px,#6d1dff 379.5px,#6629fe 451.5px)"></div><div style="top:677px;background:linear-gradient(90deg,#fff 330.8px,#8000ff 332.0px,#6d1cff 382.5px,#6727fe 451.5px)"></div><div style="top:678px;background:linear-gradient(90deg,#fff 332.8px,#8000ff 334.0px,#6e1bff 384.5px,#6825fe 451.5px)"></div><div style="top:679px;background:linear-gradient(90deg,#fff 334.9px,#8000ff 336.1px,#6f1aff 385.5px,#6924fe 451.5px)"></div><div style="top:680px;background:linear-gradient(90deg,#fff 337.1px,#8000ff 338.3px,#6f19ff 388.5px,#6a22fe 451.5px)"></div><div style="top:681px;background:linear-gradient(90deg,#fff 339.4px,#8000ff 340.6px,#7018ff 391.5px,#6b20fe 451.5px)"></div><div style="top:682px;background:linear-gradient(90deg,#fff 341.7px,#8000ff 342.9px,#7018ff 395.5px,#6c1fff 451.5px)"></div><div style="top:683px;background:linear-gradient(90deg,#fff 344.1px,#8000ff 345.3px,#7116ff 397.5px,#6d1dff 451.5px)"></div><div style="top:684px;background:linear-gradient(90deg,#fff 346.7px,#8000ff 347.9px,#7216ff 402.5px,#6e1bff 451.5px)"></div><div style="top:685px;background:linear-gradient(90deg,#fff 349.3px,#8000ff 350.5px,#7215ff 405.5px,#6f1aff 451.5px)"></div><div style="top:686px;background:linear-gradient(90deg,#fff 352.0px,#8000ff 353.2px,#7314ff 408.5px,#7018ff 451.5px)"></div><div style="top:687px;background:linear-gradient(90deg,#fff 354.9px,#8000ff 356.1px,#7313ff 413.5px,#7116ff 451.5px)"></div><div style="top:688px;background:linear-gradient(90deg,#fff 358.0px,#8000ff 359.2px,#7412ff 418.5px,#7215ff 451.5px)"></div><div style="top:689px;background:linear-gradient(90deg,#fff 361.2px,#8000ff 362.4px,#7511ff 424.5px,#7313ff 451.5px)"></div><div style="top:690px;background:linear-gradient(90deg,#fff 364.7px,#8000ff 365.9px,#7510ff 431.5px,#7411ff 451.5px)"></div><div style="top:691px;background:linear-gradient(90deg,#fff 368.4px,#8000ff 369.6px,#760fff 437.5px,#7510ff 451.5px)"></div><div style="top:692px;background:linear-gradient(90deg,#fff 372.3px,#8000ff 373.5px,#770eff 445.5px,#770eff 451.5px)"></div><div style="top:693px;background:linear-gradient(90deg,#fff 376.7px,#8000ff 377.9px,#780cff 451.5px)"></div><div style="top:694px;background:linear-gradient(90deg,#fff 381.5px,#8000ff 382.7px,#790bff 451.5px)"></div><div style="top:695px;background:linear-gradient(90deg,#fff 386.9px,#8000ff 388.1px,#7a09ff 451.5px)"></div><div style="top:696px;background:linear-gradient(90deg,#fff 393.1px,#8000ff 394.3px,#7b07ff 451.5px)"></div><div style="top:697px;background:linear-gradient(90deg,#fff 400.4px,#8000ff 401.6px,#7c06ff 451.5px)"></div><div style="top:698px;background:linear-gradient(90deg,#fff 409.3px,#8000ff 410.5px,#7d04ff 451.5px)"></div><div style="top:699px;background:linear-gradient(90deg,#fff 420.9px,#8000ff 422.1px,#7e02ff 451.5px)"></div><div style="top:700px;background:linear-gradient(90deg,#fff 438.2px,#8000ff 439.4px,#7f01ff 451.5px)"></div><div style="top:701px;background:#fff"></div><div style="top:702px;background:#fff"></div><div style="top:703px;background:#fff"></div><div style="top:704px;background:#fff"></div><div style="top:705px;background:#fff"></div><div style="top:706px;background:#fff"></div><div style="top:707px;background:#fff"></div><div style="top:708px;background:#fff"></div><div style="top:709px;background:#fff"></div><div style="top:710px;background:#fff"></div><div style="top:711px;background:#fff"></div><div style="top:712px;background:#fff"></div><div style="top:713px;background:#fff"></div><div style="top:714px;background:#fff"></div><div style="top:715px;background:#fff"></div><div style="top:716px;background:#fff"></div><div style="top:717px;background:#fff"></div><div style="top:718px;background:#fff"></div><div style="top:719px;background:#fff"></div><div style="top:720px;background:#fff"></div><div style="top:721px;background:#fff"></div><div style="top:722px;background:#fff"></div><div style="top:723px;background:#fff"></div><div style="top:724px;background:#fff"></div><div style="top:725px;background:#fff"></div><div style="top:726px;background:#fff"></div><div style="top:727px;background:#fff"></div><div style="top:728px;background:#fff"></div><div style="top:729px;background:#fff"></div><div style="top:730px;background:#fff"></div><div style="top:731px;background:#fff"></div><div style="top:732px;background:#fff"></div><div style="top:733px;background:#fff"></div><div style="top:734px;background:#fff"></div><div style="top:735px;background:#fff"></div><div style="top:736px;background:#fff"></div><div style="top:737px;background:#fff"></div><div style="top:738px;background:#fff"></div><div style="top:739px;background:#fff"></div><div style="top:740px;background:#fff"></div><div style="top:741px;background:#fff"></div><div style="top:742px;background:#fff"></div><div style="top:743px;background:#fff"></div><div style="top:744px;background:#fff"></div><div style="top:745px;background:#fff"></div><div style="top:746px;background:#fff"></div><div style="top:747px;background:#fff"></div></div>
<svg width="685" height="820" viewBox="0 0 685 820">
<defs><clipPath id="pc"><rect x="92.3" y="3.5" width="450.9" height="743.8"/></clipPath><linearGradient id="cb" x1="0" y1="0" x2="0" y2="1"><stop offset="0.0000" stop-color="#ff0000"/><stop offset="0.0312" stop-color="#ff190d"/><stop offset="0.0625" stop-color="#ff3219"/><stop offset="0.0938" stop-color="#ff4a25"/><stop offset="0.1250" stop-color="#ff6232"/><stop offset="0.1562" stop-color="#ff783e"/><stop offset="0.1875" stop-color="#ff8e4a"/><stop offset="0.2188" stop-color="#ffa256"/><stop offset="0.2500" stop-color="#ffb462"/><stop offset="0.2812" stop-color="#efc56d"/><stop offset="0.3125" stop-color="#dfd478"/><stop offset="0.3438" stop-color="#cfe183"/><stop offset="0.3750" stop-color="#bfec8e"/><stop offset="0.4062" stop-color="#aff498"/><stop offset="0.4375" stop-color="#9ffaa2"/><stop offset="0.4688" stop-color="#8ffeab"/><stop offset="0.5000" stop-color="#80ffb4"/><stop offset="0.5312" stop-color="#70febd"/><stop offset="0.5625" stop-color="#60fac5"/><stop offset="0.5938" stop-color="#50f4cd"/><stop offset="0.6250" stop-color="#40ecd4"/><stop offset="0.6562" stop-color="#30e1db"/><stop offset="0.6875" stop-color="#20d4e1"/><stop offset="0.7188" stop-color="#10c5e7"/><stop offset="0.7500" stop-color="#00b4ec"/><stop offset="0.7812" stop-color="#10a2f0"/><stop offset="0.8125" stop-color="#208ef4"/><stop offset="0.8438" stop-color="#3078f7"/><stop offset="0.8750" stop-color="#4062fa"/><stop offset="0.9062" stop-color="#504afc"/><stop offset="0.9375" stop-color="#6032fe"/><stop offset="0.9688" stop-color="#7019ff"/><stop offset="1.0000" stop-color="#8000ff"/></linearGradient></defs>
<path clip-path="url(#pc)" d="M543.0 594.7 521.6 593.7 503.3 592.3 487.0 590.4 472.3 587.8 458.3 584.5 445.3 580.4 432.3 575.3 419.6 569.3 407.0 562.3 393.6 553.8 380.0 544.2 365.0 532.6 348.6 519.2 330.3 503.4 282.0 459.8 M233.6 414.9 92.3 282.6 M543.0 488.4 521.6 487.4 503.3 486.0 487.0 484.1 472.3 481.5 458.3 478.2 445.3 474.1 432.3 469.0 419.6 463.0 407.0 456.0 393.6 447.5 380.0 437.9 365.0 426.3 348.6 412.9 330.3 397.1 282.0 353.5 M233.6 308.6 92.3 176.3 M537.0 3.5 543.0 16.4 M543.0 382.1 521.6 381.1 503.3 379.7 487.0 377.8 472.3 375.2 458.3 371.9 445.3 367.8 432.3 362.7 419.6 356.7 407.0 349.7 393.6 341.2 380.0 331.6 365.0 320.0 348.6 306.6 330.3 290.8 282.0 247.2 M233.6 202.3 92.3 70.0 M421.7 3.5 438.2 40.2 450.6 71.5 460.1 100.2 463.8 113.8 467.1 127.8 472.2 156.2 475.8 187.5 478.0 224.2 479.3 270.2 469.0 268.2 457.6 265.4 447.3 262.2 437.0 258.4 427.0 254.0 417.0 249.0 407.0 243.4 396.6 236.9 375.3 221.8 350.6 202.0 321.0 176.3 281.9 140.8 M233.6 96.0 134.8 3.5" fill="none" stroke="#000" stroke-width="2.6" stroke-linejoin="round"/>
<path d="M430.2 216.7V747.3" stroke="#000" stroke-width="2.1" stroke-dasharray="8.7 4.67" stroke-dashoffset="7.47"/>
<path d="M425.2 211.7l10 10m0 -10l-10 10M425.2 269.1l10 10m0 -10l-10 10M425.2 369.9l10 10m0 -10l-10 10M425.2 568.9l10 10m0 -10l-10 10" stroke="#000" stroke-width="1.8" fill="none"/>
<rect x="571.2" y="3.5" width="37.6" height="743.8" fill="url(#cb)" stroke="#222" stroke-width="1.2"/>
<rect x="92.3" y="3.5" width="450.9" height="743.8" fill="none" stroke="#222" stroke-width="1.4"/><path d="M92.3 747.3V757.8M205.0 747.3V757.8M317.8 747.3V757.8M430.5 747.3V757.8M543.2 747.3V757.8M148.7 747.3V753.8M261.4 747.3V753.8M374.1 747.3V753.8M486.8 747.3V753.8M84.5 38.9H92.3M84.5 145.2H92.3M84.5 251.5H92.3M84.5 357.8H92.3M84.5 464.1H92.3M84.5 570.4H92.3M84.5 676.7H92.3M608.8 91.0H614.4M608.8 255.1H614.4M608.8 419.1H614.4M608.8 583.2H614.4" stroke="#222" stroke-width="1.6" fill="none"/>
<text x="73.88" y="781.80" font-size="22.60">10</text><text x="99.14" y="771.50" font-size="17.20">3</text><text x="186.60" y="781.80" font-size="22.60">10</text><text x="212.13" y="771.50" font-size="17.20">4</text><text x="299.33" y="781.80" font-size="22.60">10</text><text x="324.56" y="771.50" font-size="17.20">5</text><text x="412.05" y="781.80" font-size="22.60">10</text><text x="437.10" y="771.50" font-size="17.20">6</text><text x="524.78" y="781.80" font-size="22.60">10</text><text x="549.82" y="771.50" font-size="17.20">7</text><text x="30.28" y="49.90" font-size="22.60">10</text><text x="56.54" y="39.70" font-size="17.20">-5</text><text x="30.28" y="156.20" font-size="22.60">10</text><text x="56.54" y="146.00" font-size="17.20">-6</text><text x="30.28" y="262.50" font-size="22.60">10</text><text x="56.54" y="252.30" font-size="17.20">-7</text><text x="30.28" y="368.80" font-size="22.60">10</text><text x="56.54" y="358.60" font-size="17.20">-8</text><text x="30.28" y="475.10" font-size="22.60">10</text><text x="56.54" y="464.90" font-size="17.20">-9</text><text x="30.28" y="581.40" font-size="22.60">10</text><text x="56.54" y="571.20" font-size="17.20">-10</text><text x="30.28" y="687.70" font-size="22.60">10</text><text x="56.54" y="677.50" font-size="17.20">-11</text><text x="616.58" y="98.40" font-size="22.60">10</text><text x="642.71" y="88.60" font-size="17.20">4</text><text x="616.58" y="262.47" font-size="22.60">10</text><text x="642.44" y="252.67" font-size="17.20">3</text><text x="616.58" y="426.54" font-size="22.60">10</text><text x="642.23" y="416.74" font-size="17.20">2</text><text x="616.58" y="590.61" font-size="22.60">10</text><text x="641.79" y="580.81" font-size="17.20">1</text><text x="267.96" y="807.90" font-size="22.60" textLength="98.50" lengthAdjust="spacingAndGlyphs">MCP gain</text><text transform="rotate(-90)" x="-467.21" y="23.00" font-size="22.60" textLength="133.51" lengthAdjust="spacingAndGlyphs">Pressure hPa</text><text transform="rotate(90)" x="296.50" y="-663.60" font-size="22.60" textLength="156.03" lengthAdjust="spacingAndGlyphs">Dynamic range</text><text x="367.72" y="207.60" font-size="22.60" textLength="64.14" lengthAdjust="spacingAndGlyphs">25 km</text><text x="438.11" y="291.80" font-size="22.60" textLength="77.25" lengthAdjust="spacingAndGlyphs">100 km</text><text x="344.22" y="380.50" font-size="22.60" textLength="76.62" lengthAdjust="spacingAndGlyphs">200 km</text><text x="435.99" y="573.70" font-size="22.60" textLength="90.97" lengthAdjust="spacingAndGlyphs">1000 km</text><g transform="translate(259.0,119.1) rotate(40.0)"><text x="-19.2" y="7.9" font-size="22.6">10</text><text x="7.8" y="-1.7" font-size="17.2">4</text></g><g transform="translate(260.0,228.0) rotate(40.0)"><text x="-19.2" y="7.9" font-size="22.6">10</text><text x="7.8" y="-1.7" font-size="17.2">3</text></g><g transform="translate(259.3,333.0) rotate(40.0)"><text x="-19.2" y="7.9" font-size="22.6">10</text><text x="7.8" y="-1.7" font-size="17.2">2</text></g><g transform="translate(259.6,439.0) rotate(40.0)"><text x="-19.2" y="7.9" font-size="22.6">10</text><text x="7.8" y="-1.7" font-size="17.2">1</text></g>

</svg>
</body></html>
